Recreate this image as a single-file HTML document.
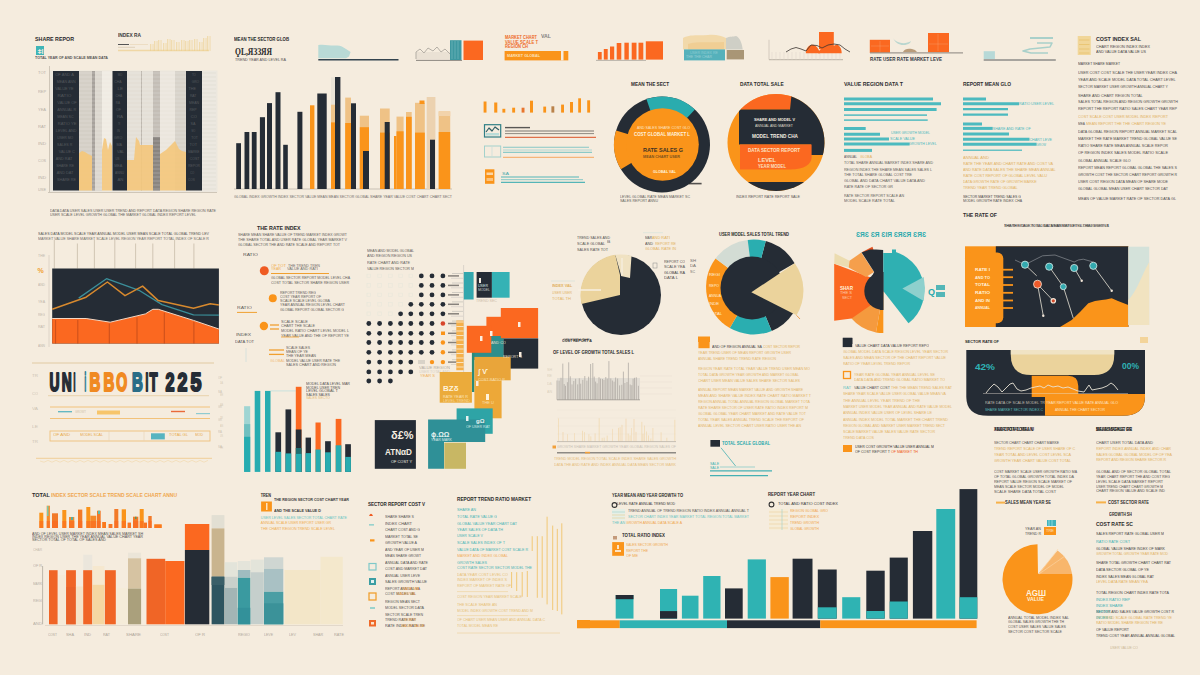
<!DOCTYPE html>
<html><head><meta charset="utf-8"><title>Infographic</title>
<style>html,body{margin:0;padding:0;background:#f5ecde;}body{width:1200px;height:675px;overflow:hidden;font-family:"Liberation Sans",sans-serif;}svg{display:block;}</style>
</head><body>
<svg width="1200" height="675" viewBox="0 0 1200 675">
<rect x="0" y="0" width="1200" height="675" fill="#f5ecde"/>
<text x="35.0" y="40.7" font-family="Liberation Sans" font-size="6.0" font-weight="bold" fill="#28282b" opacity="1.00" textLength="39.0" lengthAdjust="spacingAndGlyphs">SHARE REPOR</text>
<rect x="36.0" y="46.0" width="8.0" height="9.0" fill="#3fb5b7" />
<text x="37.5" y="53.5" font-family="Liberation Sans" font-size="7" font-weight="bold" fill="#f4ece0">ǂl</text>
<text x="35.0" y="59.4" font-family="Liberation Sans" font-size="4.0" font-weight="bold" fill="#28282b" opacity="0.78" textLength="73.0" lengthAdjust="spacingAndGlyphs">TOTAL YEAR OF AND SCALE MEAN DATA</text>
<text x="118.0" y="36.8" font-family="Liberation Sans" font-size="5.0" font-weight="bold" fill="#28282b" opacity="0.91" textLength="23.0" lengthAdjust="spacingAndGlyphs">INDEX RA</text>
<line x1="118.0" y1="44.5" x2="129.0" y2="44.5" stroke="#555" stroke-width="1" />
<line x1="130.0" y1="44.5" x2="148.0" y2="44.5" stroke="#e7d3b0" stroke-width="0.6" />
<line x1="118.0" y1="50.5" x2="209.0" y2="50.5" stroke="#f0d7a5" stroke-width="1.6" />
<line x1="118.0" y1="47.3" x2="135.0" y2="47.3" stroke="#d9c9b0" stroke-width="0.8" />
<rect x="150.0" y="44.0" width="3.5" height="7.0" fill="#f3dba5"  opacity="0.3"/>
<rect x="150.0" y="44.0" width="0.7" height="7.0" fill="#eac77e"  opacity="0.55"/>
<rect x="152.8" y="44.0" width="0.7" height="7.0" fill="#eac77e"  opacity="0.4"/>
<rect x="154.0" y="41.0" width="3.5" height="10.0" fill="#f3dba5"  opacity="0.3"/>
<rect x="154.0" y="41.0" width="0.7" height="10.0" fill="#eac77e"  opacity="0.55"/>
<rect x="156.8" y="41.0" width="0.7" height="10.0" fill="#eac77e"  opacity="0.4"/>
<rect x="158.0" y="40.0" width="3.5" height="11.0" fill="#f3dba5"  opacity="0.3"/>
<rect x="158.0" y="40.0" width="0.7" height="11.0" fill="#eac77e"  opacity="0.55"/>
<rect x="160.8" y="40.0" width="0.7" height="11.0" fill="#eac77e"  opacity="0.4"/>
<rect x="163.0" y="43.0" width="3.5" height="8.0" fill="#f3dba5"  opacity="0.3"/>
<rect x="163.0" y="43.0" width="0.7" height="8.0" fill="#eac77e"  opacity="0.55"/>
<rect x="165.8" y="43.0" width="0.7" height="8.0" fill="#eac77e"  opacity="0.4"/>
<rect x="167.0" y="39.0" width="3.5" height="12.0" fill="#f3dba5"  opacity="0.3"/>
<rect x="167.0" y="39.0" width="0.7" height="12.0" fill="#eac77e"  opacity="0.55"/>
<rect x="169.8" y="39.0" width="0.7" height="12.0" fill="#eac77e"  opacity="0.4"/>
<rect x="171.0" y="40.0" width="3.5" height="11.0" fill="#f3dba5"  opacity="0.3"/>
<rect x="171.0" y="40.0" width="0.7" height="11.0" fill="#eac77e"  opacity="0.55"/>
<rect x="173.8" y="40.0" width="0.7" height="11.0" fill="#eac77e"  opacity="0.4"/>
<rect x="176.0" y="42.0" width="3.5" height="9.0" fill="#f3dba5"  opacity="0.3"/>
<rect x="176.0" y="42.0" width="0.7" height="9.0" fill="#eac77e"  opacity="0.55"/>
<rect x="178.8" y="42.0" width="0.7" height="9.0" fill="#eac77e"  opacity="0.4"/>
<rect x="181.0" y="40.0" width="3.5" height="11.0" fill="#f3dba5"  opacity="0.3"/>
<rect x="181.0" y="40.0" width="0.7" height="11.0" fill="#eac77e"  opacity="0.55"/>
<rect x="183.8" y="40.0" width="0.7" height="11.0" fill="#eac77e"  opacity="0.4"/>
<rect x="185.0" y="41.0" width="3.5" height="10.0" fill="#f3dba5"  opacity="0.3"/>
<rect x="185.0" y="41.0" width="0.7" height="10.0" fill="#eac77e"  opacity="0.55"/>
<rect x="187.8" y="41.0" width="0.7" height="10.0" fill="#eac77e"  opacity="0.4"/>
<rect x="189.0" y="40.0" width="3.5" height="11.0" fill="#f3dba5"  opacity="0.3"/>
<rect x="189.0" y="40.0" width="0.7" height="11.0" fill="#eac77e"  opacity="0.55"/>
<rect x="191.8" y="40.0" width="0.7" height="11.0" fill="#eac77e"  opacity="0.4"/>
<rect x="194.0" y="39.0" width="3.5" height="12.0" fill="#f3dba5"  opacity="0.3"/>
<rect x="194.0" y="39.0" width="0.7" height="12.0" fill="#eac77e"  opacity="0.55"/>
<rect x="196.8" y="39.0" width="0.7" height="12.0" fill="#eac77e"  opacity="0.4"/>
<rect x="199.0" y="42.0" width="3.5" height="9.0" fill="#f3dba5"  opacity="0.3"/>
<rect x="199.0" y="42.0" width="0.7" height="9.0" fill="#eac77e"  opacity="0.55"/>
<rect x="201.8" y="42.0" width="0.7" height="9.0" fill="#eac77e"  opacity="0.4"/>
<rect x="203.0" y="38.0" width="3.5" height="13.0" fill="#f3dba5"  opacity="0.3"/>
<rect x="203.0" y="38.0" width="0.7" height="13.0" fill="#eac77e"  opacity="0.55"/>
<rect x="205.8" y="38.0" width="0.7" height="13.0" fill="#eac77e"  opacity="0.4"/>
<rect x="207.0" y="36.0" width="3.5" height="15.0" fill="#f3dba5"  opacity="0.3"/>
<rect x="207.0" y="36.0" width="0.7" height="15.0" fill="#eac77e"  opacity="0.55"/>
<rect x="209.8" y="36.0" width="0.7" height="15.0" fill="#eac77e"  opacity="0.4"/>
<rect x="50.0" y="70.5" width="167.5" height="121.5" fill="#ece7de" />
<line x1="49.5" y1="66.0" x2="49.5" y2="192.5" stroke="#cfc6b8" stroke-width="1" />
<line x1="48.0" y1="192.5" x2="217.0" y2="192.5" stroke="#cfc6b8" stroke-width="1.2" />
<rect x="53.0" y="71.0" width="26.0" height="119.5" fill="#252c35" />
<rect x="79.0" y="71.0" width="23.0" height="119.5" fill="#d4cfc6" />
<rect x="92.0" y="71.0" width="3.0" height="119.5" fill="#a7a29c" />
<rect x="95.0" y="71.0" width="7.0" height="119.5" fill="#dcd7cf" />
<rect x="102.0" y="71.0" width="10.5" height="119.5" fill="#f0ebe3" />
<rect x="112.5" y="71.0" width="14.5" height="119.5" fill="#252c35" />
<rect x="127.0" y="71.0" width="26.0" height="119.5" fill="#e4dfd6" />
<rect x="141.0" y="71.0" width="1.0" height="119.5" fill="#bdb7ae" />
<rect x="153.0" y="71.0" width="7.0" height="119.5" fill="#c4beb6" />
<rect x="153.0" y="137.0" width="7.0" height="53.5" fill="#8a8580" />
<rect x="160.0" y="71.0" width="15.0" height="119.5" fill="#ebe6dd" />
<rect x="175.0" y="71.0" width="11.0" height="119.5" fill="#d8d3ca" />
<rect x="186.0" y="71.0" width="16.0" height="119.5" fill="#252c35" />
<rect x="202.0" y="71.0" width="14.0" height="119.5" fill="#ece8e0" />
<line x1="79.0" y1="73.0" x2="112.0" y2="73.0" stroke="#ffffff" stroke-width="0.6" opacity="0.35"/>
<line x1="127.0" y1="73.0" x2="186.0" y2="73.0" stroke="#ffffff" stroke-width="0.6" opacity="0.35"/>
<line x1="202.0" y1="73.0" x2="216.0" y2="73.0" stroke="#d9d4cb" stroke-width="0.6" opacity="0.6"/>
<line x1="79.0" y1="77.0" x2="112.0" y2="77.0" stroke="#ffffff" stroke-width="0.6" opacity="0.35"/>
<line x1="127.0" y1="77.0" x2="186.0" y2="77.0" stroke="#ffffff" stroke-width="0.6" opacity="0.35"/>
<line x1="202.0" y1="77.0" x2="216.0" y2="77.0" stroke="#d9d4cb" stroke-width="0.6" opacity="0.6"/>
<line x1="79.0" y1="81.0" x2="112.0" y2="81.0" stroke="#ffffff" stroke-width="0.6" opacity="0.35"/>
<line x1="127.0" y1="81.0" x2="186.0" y2="81.0" stroke="#ffffff" stroke-width="0.6" opacity="0.35"/>
<line x1="202.0" y1="81.0" x2="216.0" y2="81.0" stroke="#d9d4cb" stroke-width="0.6" opacity="0.6"/>
<line x1="79.0" y1="85.0" x2="112.0" y2="85.0" stroke="#ffffff" stroke-width="0.6" opacity="0.35"/>
<line x1="127.0" y1="85.0" x2="186.0" y2="85.0" stroke="#ffffff" stroke-width="0.6" opacity="0.35"/>
<line x1="202.0" y1="85.0" x2="216.0" y2="85.0" stroke="#d9d4cb" stroke-width="0.6" opacity="0.6"/>
<line x1="79.0" y1="89.0" x2="112.0" y2="89.0" stroke="#ffffff" stroke-width="0.6" opacity="0.35"/>
<line x1="127.0" y1="89.0" x2="186.0" y2="89.0" stroke="#ffffff" stroke-width="0.6" opacity="0.35"/>
<line x1="202.0" y1="89.0" x2="216.0" y2="89.0" stroke="#d9d4cb" stroke-width="0.6" opacity="0.6"/>
<line x1="79.0" y1="93.0" x2="112.0" y2="93.0" stroke="#ffffff" stroke-width="0.6" opacity="0.35"/>
<line x1="127.0" y1="93.0" x2="186.0" y2="93.0" stroke="#ffffff" stroke-width="0.6" opacity="0.35"/>
<line x1="202.0" y1="93.0" x2="216.0" y2="93.0" stroke="#d9d4cb" stroke-width="0.6" opacity="0.6"/>
<line x1="79.0" y1="97.0" x2="112.0" y2="97.0" stroke="#ffffff" stroke-width="0.6" opacity="0.35"/>
<line x1="127.0" y1="97.0" x2="186.0" y2="97.0" stroke="#ffffff" stroke-width="0.6" opacity="0.35"/>
<line x1="202.0" y1="97.0" x2="216.0" y2="97.0" stroke="#d9d4cb" stroke-width="0.6" opacity="0.6"/>
<line x1="79.0" y1="101.0" x2="112.0" y2="101.0" stroke="#ffffff" stroke-width="0.6" opacity="0.35"/>
<line x1="127.0" y1="101.0" x2="186.0" y2="101.0" stroke="#ffffff" stroke-width="0.6" opacity="0.35"/>
<line x1="202.0" y1="101.0" x2="216.0" y2="101.0" stroke="#d9d4cb" stroke-width="0.6" opacity="0.6"/>
<line x1="79.0" y1="105.0" x2="112.0" y2="105.0" stroke="#ffffff" stroke-width="0.6" opacity="0.35"/>
<line x1="127.0" y1="105.0" x2="186.0" y2="105.0" stroke="#ffffff" stroke-width="0.6" opacity="0.35"/>
<line x1="202.0" y1="105.0" x2="216.0" y2="105.0" stroke="#d9d4cb" stroke-width="0.6" opacity="0.6"/>
<line x1="79.0" y1="109.0" x2="112.0" y2="109.0" stroke="#ffffff" stroke-width="0.6" opacity="0.35"/>
<line x1="127.0" y1="109.0" x2="186.0" y2="109.0" stroke="#ffffff" stroke-width="0.6" opacity="0.35"/>
<line x1="202.0" y1="109.0" x2="216.0" y2="109.0" stroke="#d9d4cb" stroke-width="0.6" opacity="0.6"/>
<line x1="79.0" y1="113.0" x2="112.0" y2="113.0" stroke="#ffffff" stroke-width="0.6" opacity="0.35"/>
<line x1="127.0" y1="113.0" x2="186.0" y2="113.0" stroke="#ffffff" stroke-width="0.6" opacity="0.35"/>
<line x1="202.0" y1="113.0" x2="216.0" y2="113.0" stroke="#d9d4cb" stroke-width="0.6" opacity="0.6"/>
<line x1="79.0" y1="117.0" x2="112.0" y2="117.0" stroke="#ffffff" stroke-width="0.6" opacity="0.35"/>
<line x1="127.0" y1="117.0" x2="186.0" y2="117.0" stroke="#ffffff" stroke-width="0.6" opacity="0.35"/>
<line x1="202.0" y1="117.0" x2="216.0" y2="117.0" stroke="#d9d4cb" stroke-width="0.6" opacity="0.6"/>
<line x1="79.0" y1="121.0" x2="112.0" y2="121.0" stroke="#ffffff" stroke-width="0.6" opacity="0.35"/>
<line x1="127.0" y1="121.0" x2="186.0" y2="121.0" stroke="#ffffff" stroke-width="0.6" opacity="0.35"/>
<line x1="202.0" y1="121.0" x2="216.0" y2="121.0" stroke="#d9d4cb" stroke-width="0.6" opacity="0.6"/>
<line x1="79.0" y1="125.0" x2="112.0" y2="125.0" stroke="#ffffff" stroke-width="0.6" opacity="0.35"/>
<line x1="127.0" y1="125.0" x2="186.0" y2="125.0" stroke="#ffffff" stroke-width="0.6" opacity="0.35"/>
<line x1="202.0" y1="125.0" x2="216.0" y2="125.0" stroke="#d9d4cb" stroke-width="0.6" opacity="0.6"/>
<line x1="79.0" y1="129.0" x2="112.0" y2="129.0" stroke="#ffffff" stroke-width="0.6" opacity="0.35"/>
<line x1="127.0" y1="129.0" x2="186.0" y2="129.0" stroke="#ffffff" stroke-width="0.6" opacity="0.35"/>
<line x1="202.0" y1="129.0" x2="216.0" y2="129.0" stroke="#d9d4cb" stroke-width="0.6" opacity="0.6"/>
<line x1="79.0" y1="133.0" x2="112.0" y2="133.0" stroke="#ffffff" stroke-width="0.6" opacity="0.35"/>
<line x1="127.0" y1="133.0" x2="186.0" y2="133.0" stroke="#ffffff" stroke-width="0.6" opacity="0.35"/>
<line x1="202.0" y1="133.0" x2="216.0" y2="133.0" stroke="#d9d4cb" stroke-width="0.6" opacity="0.6"/>
<line x1="79.0" y1="137.0" x2="112.0" y2="137.0" stroke="#ffffff" stroke-width="0.6" opacity="0.35"/>
<line x1="127.0" y1="137.0" x2="186.0" y2="137.0" stroke="#ffffff" stroke-width="0.6" opacity="0.35"/>
<line x1="202.0" y1="137.0" x2="216.0" y2="137.0" stroke="#d9d4cb" stroke-width="0.6" opacity="0.6"/>
<line x1="79.0" y1="141.0" x2="112.0" y2="141.0" stroke="#ffffff" stroke-width="0.6" opacity="0.35"/>
<line x1="127.0" y1="141.0" x2="186.0" y2="141.0" stroke="#ffffff" stroke-width="0.6" opacity="0.35"/>
<line x1="202.0" y1="141.0" x2="216.0" y2="141.0" stroke="#d9d4cb" stroke-width="0.6" opacity="0.6"/>
<line x1="79.0" y1="145.0" x2="112.0" y2="145.0" stroke="#ffffff" stroke-width="0.6" opacity="0.35"/>
<line x1="127.0" y1="145.0" x2="186.0" y2="145.0" stroke="#ffffff" stroke-width="0.6" opacity="0.35"/>
<line x1="202.0" y1="145.0" x2="216.0" y2="145.0" stroke="#d9d4cb" stroke-width="0.6" opacity="0.6"/>
<line x1="79.0" y1="149.0" x2="112.0" y2="149.0" stroke="#ffffff" stroke-width="0.6" opacity="0.35"/>
<line x1="127.0" y1="149.0" x2="186.0" y2="149.0" stroke="#ffffff" stroke-width="0.6" opacity="0.35"/>
<line x1="202.0" y1="149.0" x2="216.0" y2="149.0" stroke="#d9d4cb" stroke-width="0.6" opacity="0.6"/>
<line x1="79.0" y1="153.0" x2="112.0" y2="153.0" stroke="#ffffff" stroke-width="0.6" opacity="0.35"/>
<line x1="127.0" y1="153.0" x2="186.0" y2="153.0" stroke="#ffffff" stroke-width="0.6" opacity="0.35"/>
<line x1="202.0" y1="153.0" x2="216.0" y2="153.0" stroke="#d9d4cb" stroke-width="0.6" opacity="0.6"/>
<line x1="79.0" y1="157.0" x2="112.0" y2="157.0" stroke="#ffffff" stroke-width="0.6" opacity="0.35"/>
<line x1="127.0" y1="157.0" x2="186.0" y2="157.0" stroke="#ffffff" stroke-width="0.6" opacity="0.35"/>
<line x1="202.0" y1="157.0" x2="216.0" y2="157.0" stroke="#d9d4cb" stroke-width="0.6" opacity="0.6"/>
<line x1="79.0" y1="161.0" x2="112.0" y2="161.0" stroke="#ffffff" stroke-width="0.6" opacity="0.35"/>
<line x1="127.0" y1="161.0" x2="186.0" y2="161.0" stroke="#ffffff" stroke-width="0.6" opacity="0.35"/>
<line x1="202.0" y1="161.0" x2="216.0" y2="161.0" stroke="#d9d4cb" stroke-width="0.6" opacity="0.6"/>
<line x1="79.0" y1="165.0" x2="112.0" y2="165.0" stroke="#ffffff" stroke-width="0.6" opacity="0.35"/>
<line x1="127.0" y1="165.0" x2="186.0" y2="165.0" stroke="#ffffff" stroke-width="0.6" opacity="0.35"/>
<line x1="202.0" y1="165.0" x2="216.0" y2="165.0" stroke="#d9d4cb" stroke-width="0.6" opacity="0.6"/>
<line x1="79.0" y1="169.0" x2="112.0" y2="169.0" stroke="#ffffff" stroke-width="0.6" opacity="0.35"/>
<line x1="127.0" y1="169.0" x2="186.0" y2="169.0" stroke="#ffffff" stroke-width="0.6" opacity="0.35"/>
<line x1="202.0" y1="169.0" x2="216.0" y2="169.0" stroke="#d9d4cb" stroke-width="0.6" opacity="0.6"/>
<line x1="79.0" y1="173.0" x2="112.0" y2="173.0" stroke="#ffffff" stroke-width="0.6" opacity="0.35"/>
<line x1="127.0" y1="173.0" x2="186.0" y2="173.0" stroke="#ffffff" stroke-width="0.6" opacity="0.35"/>
<line x1="202.0" y1="173.0" x2="216.0" y2="173.0" stroke="#d9d4cb" stroke-width="0.6" opacity="0.6"/>
<line x1="79.0" y1="177.0" x2="112.0" y2="177.0" stroke="#ffffff" stroke-width="0.6" opacity="0.35"/>
<line x1="127.0" y1="177.0" x2="186.0" y2="177.0" stroke="#ffffff" stroke-width="0.6" opacity="0.35"/>
<line x1="202.0" y1="177.0" x2="216.0" y2="177.0" stroke="#d9d4cb" stroke-width="0.6" opacity="0.6"/>
<line x1="79.0" y1="181.0" x2="112.0" y2="181.0" stroke="#ffffff" stroke-width="0.6" opacity="0.35"/>
<line x1="127.0" y1="181.0" x2="186.0" y2="181.0" stroke="#ffffff" stroke-width="0.6" opacity="0.35"/>
<line x1="202.0" y1="181.0" x2="216.0" y2="181.0" stroke="#d9d4cb" stroke-width="0.6" opacity="0.6"/>
<line x1="79.0" y1="185.0" x2="112.0" y2="185.0" stroke="#ffffff" stroke-width="0.6" opacity="0.35"/>
<line x1="127.0" y1="185.0" x2="186.0" y2="185.0" stroke="#ffffff" stroke-width="0.6" opacity="0.35"/>
<line x1="202.0" y1="185.0" x2="216.0" y2="185.0" stroke="#d9d4cb" stroke-width="0.6" opacity="0.6"/>
<line x1="79.0" y1="189.0" x2="112.0" y2="189.0" stroke="#ffffff" stroke-width="0.6" opacity="0.35"/>
<line x1="127.0" y1="189.0" x2="186.0" y2="189.0" stroke="#ffffff" stroke-width="0.6" opacity="0.35"/>
<line x1="202.0" y1="189.0" x2="216.0" y2="189.0" stroke="#d9d4cb" stroke-width="0.6" opacity="0.6"/>
<polygon points="79.0,153.0 82.0,151.0 85.0,152.0 88.0,154.0 92.0,156.0 92.0,190.5 79.0,190.5" fill="#f4c77b" opacity="0.95"/>
<polygon points="102.0,150.0 104.0,138.0 106.0,139.0 108.0,150.0 110.0,142.0 112.0,146.0 112.0,190.5 102.0,190.5" fill="#f4c77b" opacity="0.9"/>
<polygon points="127.0,160.0 134.0,160.0 136.0,137.0 139.0,141.0 140.0,145.0 153.0,145.0 153.0,190.5 127.0,190.5" fill="#f4c77b" opacity="0.9"/>
<polygon points="160.0,154.0 163.0,152.0 166.0,150.0 170.0,146.0 173.0,143.0 175.0,141.0 177.0,145.0 179.0,149.0 182.0,151.0 186.0,152.0 186.0,190.5 160.0,190.5" fill="#f4c77b" opacity="0.9"/>
<text x="55.2" y="76.4" font-family="Liberation Sans" font-size="3.9" font-weight="normal" fill="#d8d4cc" opacity="0.24" textLength="18.7" lengthAdjust="spacingAndGlyphs">OF AND A</text>
<text x="56.7" y="83.4" font-family="Liberation Sans" font-size="3.9" font-weight="normal" fill="#d8d4cc" opacity="0.24" textLength="18.9" lengthAdjust="spacingAndGlyphs">MEAN ANN</text>
<text x="55.2" y="90.4" font-family="Liberation Sans" font-size="3.9" font-weight="normal" fill="#d8d4cc" opacity="0.24" textLength="18.4" lengthAdjust="spacingAndGlyphs">VALUE YE</text>
<text x="57.5" y="97.4" font-family="Liberation Sans" font-size="3.9" font-weight="normal" fill="#d8d4cc" opacity="0.24" textLength="13.8" lengthAdjust="spacingAndGlyphs">RATIO</text>
<text x="57.3" y="104.4" font-family="Liberation Sans" font-size="3.9" font-weight="normal" fill="#d8d4cc" opacity="0.24" textLength="19.4" lengthAdjust="spacingAndGlyphs">VALUE OF</text>
<text x="57.2" y="111.4" font-family="Liberation Sans" font-size="3.9" font-weight="normal" fill="#d8d4cc" opacity="0.24" textLength="19.0" lengthAdjust="spacingAndGlyphs">ANNUAL R</text>
<text x="57.2" y="118.4" font-family="Liberation Sans" font-size="3.9" font-weight="normal" fill="#d8d4cc" opacity="0.24" textLength="16.4" lengthAdjust="spacingAndGlyphs">MEAN SC</text>
<text x="57.7" y="125.4" font-family="Liberation Sans" font-size="3.9" font-weight="normal" fill="#d8d4cc" opacity="0.24" textLength="18.7" lengthAdjust="spacingAndGlyphs">RATIO YE</text>
<text x="55.8" y="132.4" font-family="Liberation Sans" font-size="3.9" font-weight="normal" fill="#d8d4cc" opacity="0.24" textLength="20.7" lengthAdjust="spacingAndGlyphs">LEVEL AND</text>
<text x="57.3" y="139.4" font-family="Liberation Sans" font-size="3.9" font-weight="normal" fill="#d8d4cc" opacity="0.24" textLength="16.0" lengthAdjust="spacingAndGlyphs">USER MO</text>
<text x="57.1" y="146.4" font-family="Liberation Sans" font-size="3.9" font-weight="normal" fill="#d8d4cc" opacity="0.24" textLength="15.2" lengthAdjust="spacingAndGlyphs">SALES R</text>
<text x="58.7" y="153.4" font-family="Liberation Sans" font-size="3.9" font-weight="normal" fill="#d8d4cc" opacity="0.24" textLength="16.1" lengthAdjust="spacingAndGlyphs">VALUE C</text>
<text x="55.7" y="160.4" font-family="Liberation Sans" font-size="3.9" font-weight="normal" fill="#d8d4cc" opacity="0.24" textLength="16.6" lengthAdjust="spacingAndGlyphs">AND RAT</text>
<text x="56.2" y="167.4" font-family="Liberation Sans" font-size="3.9" font-weight="normal" fill="#d8d4cc" opacity="0.24" textLength="17.8" lengthAdjust="spacingAndGlyphs">SHARE RE</text>
<text x="56.8" y="174.4" font-family="Liberation Sans" font-size="3.9" font-weight="normal" fill="#d8d4cc" opacity="0.24" textLength="16.6" lengthAdjust="spacingAndGlyphs">AND DAT</text>
<text x="57.0" y="181.4" font-family="Liberation Sans" font-size="3.9" font-weight="normal" fill="#d8d4cc" opacity="0.24" textLength="19.0" lengthAdjust="spacingAndGlyphs">SHARE RE</text>
<text x="117.7" y="76.4" font-family="Liberation Sans" font-size="3.9" font-weight="normal" fill="#d8d4cc" opacity="0.24" textLength="4.7" lengthAdjust="spacingAndGlyphs">MO</text>
<text x="114.3" y="83.4" font-family="Liberation Sans" font-size="3.9" font-weight="normal" fill="#d8d4cc" opacity="0.24" textLength="7.3" lengthAdjust="spacingAndGlyphs">CHA</text>
<text x="117.5" y="90.4" font-family="Liberation Sans" font-size="3.9" font-weight="normal" fill="#d8d4cc" opacity="0.24" textLength="5.6" lengthAdjust="spacingAndGlyphs">LE</text>
<text x="115.4" y="97.4" font-family="Liberation Sans" font-size="3.9" font-weight="normal" fill="#d8d4cc" opacity="0.24" textLength="6.6" lengthAdjust="spacingAndGlyphs">CHA</text>
<text x="115.8" y="104.4" font-family="Liberation Sans" font-size="3.9" font-weight="normal" fill="#d8d4cc" opacity="0.24" textLength="4.1" lengthAdjust="spacingAndGlyphs">RA</text>
<text x="115.9" y="111.4" font-family="Liberation Sans" font-size="3.9" font-weight="normal" fill="#d8d4cc" opacity="0.24" textLength="5.1" lengthAdjust="spacingAndGlyphs">OF</text>
<text x="116.9" y="118.4" font-family="Liberation Sans" font-size="3.9" font-weight="normal" fill="#d8d4cc" opacity="0.24" textLength="6.2" lengthAdjust="spacingAndGlyphs">RA</text>
<text x="118.0" y="125.4" font-family="Liberation Sans" font-size="3.9" font-weight="normal" fill="#d8d4cc" opacity="0.24" textLength="2.1" lengthAdjust="spacingAndGlyphs">TR</text>
<text x="116.9" y="132.4" font-family="Liberation Sans" font-size="3.9" font-weight="normal" fill="#d8d4cc" opacity="0.24" textLength="2.8" lengthAdjust="spacingAndGlyphs">IN</text>
<text x="114.1" y="139.4" font-family="Liberation Sans" font-size="3.9" font-weight="normal" fill="#d8d4cc" opacity="0.24" textLength="8.1" lengthAdjust="spacingAndGlyphs">GRO</text>
<text x="116.4" y="146.4" font-family="Liberation Sans" font-size="3.9" font-weight="normal" fill="#d8d4cc" opacity="0.24" textLength="5.6" lengthAdjust="spacingAndGlyphs">MA</text>
<text x="117.1" y="153.4" font-family="Liberation Sans" font-size="3.9" font-weight="normal" fill="#d8d4cc" opacity="0.24" textLength="7.2" lengthAdjust="spacingAndGlyphs">VAL</text>
<text x="115.6" y="160.4" font-family="Liberation Sans" font-size="3.9" font-weight="normal" fill="#d8d4cc" opacity="0.24" textLength="3.9" lengthAdjust="spacingAndGlyphs">US</text>
<text x="114.3" y="167.4" font-family="Liberation Sans" font-size="3.9" font-weight="normal" fill="#d8d4cc" opacity="0.24" textLength="8.0" lengthAdjust="spacingAndGlyphs">MEA</text>
<text x="115.1" y="174.4" font-family="Liberation Sans" font-size="3.9" font-weight="normal" fill="#d8d4cc" opacity="0.24" textLength="9.1" lengthAdjust="spacingAndGlyphs">ANNU</text>
<text x="117.5" y="181.4" font-family="Liberation Sans" font-size="3.9" font-weight="normal" fill="#d8d4cc" opacity="0.24" textLength="5.9" lengthAdjust="spacingAndGlyphs">AN</text>
<text x="191.9" y="76.4" font-family="Liberation Sans" font-size="3.9" font-weight="normal" fill="#d8d4cc" opacity="0.24" textLength="4.0" lengthAdjust="spacingAndGlyphs">TO</text>
<text x="191.8" y="83.4" font-family="Liberation Sans" font-size="3.9" font-weight="normal" fill="#d8d4cc" opacity="0.24" textLength="7.3" lengthAdjust="spacingAndGlyphs">GRO</text>
<text x="188.6" y="90.4" font-family="Liberation Sans" font-size="3.9" font-weight="normal" fill="#d8d4cc" opacity="0.24" textLength="7.4" lengthAdjust="spacingAndGlyphs">THE</text>
<text x="189.9" y="97.4" font-family="Liberation Sans" font-size="3.9" font-weight="normal" fill="#d8d4cc" opacity="0.24" textLength="6.5" lengthAdjust="spacingAndGlyphs">RAT</text>
<text x="189.1" y="104.4" font-family="Liberation Sans" font-size="3.9" font-weight="normal" fill="#d8d4cc" opacity="0.24" textLength="10.0" lengthAdjust="spacingAndGlyphs">MEAN</text>
<text x="189.5" y="111.4" font-family="Liberation Sans" font-size="3.9" font-weight="normal" fill="#d8d4cc" opacity="0.24" textLength="7.1" lengthAdjust="spacingAndGlyphs">REP</text>
<text x="190.8" y="118.4" font-family="Liberation Sans" font-size="3.9" font-weight="normal" fill="#d8d4cc" opacity="0.24" textLength="6.1" lengthAdjust="spacingAndGlyphs">CO</text>
<text x="190.6" y="125.4" font-family="Liberation Sans" font-size="3.9" font-weight="normal" fill="#d8d4cc" opacity="0.24" textLength="4.9" lengthAdjust="spacingAndGlyphs">SA</text>
<text x="191.6" y="132.4" font-family="Liberation Sans" font-size="3.9" font-weight="normal" fill="#d8d4cc" opacity="0.24" textLength="3.7" lengthAdjust="spacingAndGlyphs">MO</text>
<text x="191.2" y="139.4" font-family="Liberation Sans" font-size="3.9" font-weight="normal" fill="#d8d4cc" opacity="0.24" textLength="6.5" lengthAdjust="spacingAndGlyphs">TOT</text>
<text x="189.6" y="146.4" font-family="Liberation Sans" font-size="3.9" font-weight="normal" fill="#d8d4cc" opacity="0.24" textLength="7.5" lengthAdjust="spacingAndGlyphs">TOT</text>
<text x="188.2" y="153.4" font-family="Liberation Sans" font-size="3.9" font-weight="normal" fill="#d8d4cc" opacity="0.24" textLength="11.3" lengthAdjust="spacingAndGlyphs">MARKE</text>
<text x="189.8" y="160.4" font-family="Liberation Sans" font-size="3.9" font-weight="normal" fill="#d8d4cc" opacity="0.24" textLength="9.6" lengthAdjust="spacingAndGlyphs">COST</text>
<text x="188.2" y="167.4" font-family="Liberation Sans" font-size="3.9" font-weight="normal" fill="#d8d4cc" opacity="0.24" textLength="11.8" lengthAdjust="spacingAndGlyphs">REPOR</text>
<text x="190.1" y="174.4" font-family="Liberation Sans" font-size="3.9" font-weight="normal" fill="#d8d4cc" opacity="0.24" textLength="4.2" lengthAdjust="spacingAndGlyphs">CO</text>
<text x="188.1" y="181.4" font-family="Liberation Sans" font-size="3.9" font-weight="normal" fill="#d8d4cc" opacity="0.24" textLength="6.7" lengthAdjust="spacingAndGlyphs">COS</text>
<text x="38.0" y="74.4" font-family="Liberation Sans" font-size="3.9" font-weight="normal" fill="#a8a095" opacity="0.78" textLength="8.0" lengthAdjust="spacingAndGlyphs">TOT</text>
<text x="38.0" y="93.4" font-family="Liberation Sans" font-size="3.9" font-weight="normal" fill="#a8a095" opacity="0.78" textLength="8.0" lengthAdjust="spacingAndGlyphs">REP</text>
<text x="38.0" y="111.4" font-family="Liberation Sans" font-size="3.9" font-weight="normal" fill="#a8a095" opacity="0.78" textLength="8.0" lengthAdjust="spacingAndGlyphs">YEA</text>
<text x="38.0" y="128.4" font-family="Liberation Sans" font-size="3.9" font-weight="normal" fill="#a8a095" opacity="0.78" textLength="8.0" lengthAdjust="spacingAndGlyphs">RAT</text>
<text x="38.0" y="145.4" font-family="Liberation Sans" font-size="3.9" font-weight="normal" fill="#a8a095" opacity="0.78" textLength="8.0" lengthAdjust="spacingAndGlyphs">IND</text>
<text x="38.0" y="162.4" font-family="Liberation Sans" font-size="3.9" font-weight="normal" fill="#a8a095" opacity="0.78" textLength="8.0" lengthAdjust="spacingAndGlyphs">COS</text>
<text x="38.0" y="179.4" font-family="Liberation Sans" font-size="3.9" font-weight="normal" fill="#a8a095" opacity="0.78" textLength="8.0" lengthAdjust="spacingAndGlyphs">IND</text>
<text x="38.0" y="191.4" font-family="Liberation Sans" font-size="3.9" font-weight="normal" fill="#a8a095" opacity="0.78" textLength="8.0" lengthAdjust="spacingAndGlyphs">USE</text>
<text x="50.0" y="211.9" font-family="Liberation Sans" font-size="3.9" font-weight="normal" fill="#28282b" opacity="0.72" textLength="166.0" lengthAdjust="spacingAndGlyphs">DATA DATA USER SALES USER USER TREND AND REPORT DATA REGION SHARE REGION RATE</text>
<text x="50.0" y="215.9" font-family="Liberation Sans" font-size="3.9" font-weight="normal" fill="#28282b" opacity="0.72" textLength="146.0" lengthAdjust="spacingAndGlyphs">USER SCALE LEVEL GROWTH GLOBAL THE MARKET GLOBAL INDEX REPORT LEVEL</text>
<text x="234.0" y="41.2" font-family="Liberation Sans" font-size="5.0" font-weight="bold" fill="#28282b" opacity="0.98" textLength="55.0" lengthAdjust="spacingAndGlyphs">MEAN THE SECTOR GLOB</text>
<text x="235" y="55" font-family="Liberation Serif" font-size="10.5" font-weight="bold" fill="#2a2a2a" textLength="37" lengthAdjust="spacingAndGlyphs">ϘL,ЯЗЗЯЯ</text>
<text x="235.0" y="60.7" font-family="Liberation Sans" font-size="3.9" font-weight="normal" fill="#28282b" opacity="0.78" textLength="51.0" lengthAdjust="spacingAndGlyphs">TREND YEAR AND LEVEL RA</text>
<line x1="234.0" y1="189.0" x2="452.0" y2="189.0" stroke="#c9c1b5" stroke-width="1" />
<text x="234.0" y="198.4" font-family="Liberation Sans" font-size="3.9" font-weight="normal" fill="#28282b" opacity="0.65" textLength="218.0" lengthAdjust="spacingAndGlyphs">GLOBAL INDEX GROWTH INDEX SECTOR VALUE MEAN MEAN SECTOR GLOBAL SHARE YEAR VALUE COST CHART CHART SECT</text>
<rect x="236.2" y="143.2" width="4.8" height="45.8" fill="#252c35" />
<rect x="244.5" y="132.0" width="4.8" height="57.0" fill="#252c35" />
<rect x="251.8" y="132.0" width="4.8" height="57.0" fill="#252c35" />
<rect x="259.9" y="117.2" width="5.1" height="71.8" fill="#252c35" />
<rect x="267.0" y="103.1" width="5.0" height="85.9" fill="#252c35" />
<rect x="275.5" y="92.2" width="5.0" height="96.8" fill="#252c35" />
<rect x="283.2" y="144.8" width="4.6" height="44.2" fill="#252c35" />
<rect x="297.4" y="111.8" width="5.0" height="77.2" fill="#252c35" />
<rect x="310.0" y="105.3" width="4.4" height="83.7" fill="#fa941a" />
<rect x="317.3" y="93.5" width="9.4" height="95.5" fill="#252c35" />
<rect x="331.0" y="77.3" width="4.0" height="111.7" fill="#e9e3d6" />
<rect x="331.0" y="104.7" width="4.0" height="84.3" fill="#f0c58a" />
<rect x="331.0" y="122.4" width="4.0" height="66.6" fill="#fa941a" />
<rect x="335.0" y="77.0" width="5.4" height="112.0" fill="#252c35" />
<rect x="345.2" y="97.6" width="5.8" height="91.4" fill="#efc286" />
<rect x="345.2" y="123.0" width="5.8" height="66.0" fill="#fa941a" />
<rect x="351.0" y="103.3" width="5.0" height="85.7" fill="#252c35" />
<rect x="359.8" y="115.7" width="9.2" height="73.3" fill="#efc286" />
<rect x="359.8" y="127.2" width="9.2" height="61.8" fill="#fa941a" />
<rect x="363.0" y="151.0" width="6.0" height="38.0" fill="#252c35" />
<rect x="380.0" y="108.5" width="9.7" height="80.5" fill="#efc286" />
<rect x="380.0" y="132.6" width="9.7" height="56.4" fill="#fa941a" />
<rect x="384.7" y="122.0" width="5.0" height="67.0" fill="#252c35" />
<rect x="396.5" y="116.6" width="7.1" height="72.4" fill="#efc286" />
<rect x="396.5" y="131.3" width="7.1" height="57.7" fill="#fa941a" />
<rect x="394.0" y="136.0" width="2.5" height="53.0" fill="#fa941a" />
<rect x="406.0" y="112.0" width="5.7" height="77.0" fill="#efc286" />
<rect x="406.0" y="116.8" width="5.7" height="72.2" fill="#fa941a" />
<rect x="415.0" y="102.8" width="9.8" height="86.2" fill="#efc286" />
<rect x="415.0" y="132.6" width="9.8" height="56.4" fill="#fa941a" />
<rect x="419.5" y="100.5" width="5.0" height="3.5" fill="#fa941a" />
<rect x="426.7" y="97.0" width="8.7" height="92.0" fill="#ecd2b0" />
<rect x="430.0" y="139.7" width="5.0" height="49.3" fill="#252c35" />
<rect x="438.7" y="111.4" width="11.5" height="77.6" fill="#efc286" />
<rect x="438.7" y="132.0" width="11.5" height="57.0" fill="#fa941a" />
<rect x="438.7" y="111.4" width="11.5" height="4.6" fill="#f2d3ab" />
<path d="M318.3,45 C325,44 330,46 336,45.5 C340,45 343,47 346,49 L350.6,52 L349,56.5 L346,58.3 L318.3,58.3 Z" fill="#b9dad6" />
<line x1="318.3" y1="59.8" x2="398.5" y2="59.8" stroke="#33434e" stroke-width="1.6" />
<polyline points="416.0,59.0 416.0,52.0 420.0,49.0 424.0,53.0 428.0,48.0 433.0,51.0 437.0,47.0 441.0,52.0 445.0,49.0 450.0,54.0" fill="none" stroke="#9a958e" stroke-width="0.7" stroke-linejoin="round" />
<line x1="417.0" y1="52.0" x2="417.0" y2="59.5" stroke="#bdb7ae" stroke-width="0.4" />
<line x1="419.0" y1="52.0" x2="419.0" y2="59.5" stroke="#bdb7ae" stroke-width="0.4" />
<line x1="421.0" y1="52.0" x2="421.0" y2="59.5" stroke="#bdb7ae" stroke-width="0.4" />
<line x1="423.0" y1="52.0" x2="423.0" y2="59.5" stroke="#bdb7ae" stroke-width="0.4" />
<line x1="425.0" y1="52.0" x2="425.0" y2="59.5" stroke="#bdb7ae" stroke-width="0.4" />
<line x1="427.0" y1="52.0" x2="427.0" y2="59.5" stroke="#bdb7ae" stroke-width="0.4" />
<line x1="429.0" y1="52.0" x2="429.0" y2="59.5" stroke="#bdb7ae" stroke-width="0.4" />
<line x1="431.0" y1="52.0" x2="431.0" y2="59.5" stroke="#bdb7ae" stroke-width="0.4" />
<line x1="433.0" y1="52.0" x2="433.0" y2="59.5" stroke="#bdb7ae" stroke-width="0.4" />
<line x1="435.0" y1="52.0" x2="435.0" y2="59.5" stroke="#bdb7ae" stroke-width="0.4" />
<line x1="437.0" y1="52.0" x2="437.0" y2="59.5" stroke="#bdb7ae" stroke-width="0.4" />
<line x1="439.0" y1="52.0" x2="439.0" y2="59.5" stroke="#bdb7ae" stroke-width="0.4" />
<line x1="441.0" y1="52.0" x2="441.0" y2="59.5" stroke="#bdb7ae" stroke-width="0.4" />
<line x1="443.0" y1="52.0" x2="443.0" y2="59.5" stroke="#bdb7ae" stroke-width="0.4" />
<line x1="445.0" y1="52.0" x2="445.0" y2="59.5" stroke="#bdb7ae" stroke-width="0.4" />
<line x1="447.0" y1="52.0" x2="447.0" y2="59.5" stroke="#bdb7ae" stroke-width="0.4" />
<line x1="449.0" y1="52.0" x2="449.0" y2="59.5" stroke="#bdb7ae" stroke-width="0.4" />
<line x1="416.0" y1="60.4" x2="462.0" y2="60.4" stroke="#8d8880" stroke-width="1" />
<rect x="450.0" y="40.2" width="11.5" height="19.8" fill="#3e98a0" />
<line x1="452.0" y1="41.0" x2="452.0" y2="59.0" stroke="#7ec0c4" stroke-width="0.6" />
<line x1="455.0" y1="41.0" x2="455.0" y2="59.0" stroke="#7ec0c4" stroke-width="0.6" />
<line x1="458.0" y1="41.0" x2="458.0" y2="59.0" stroke="#7ec0c4" stroke-width="0.6" />
<rect x="463.5" y="40.6" width="19.5" height="19.4" fill="#fb6820" />
<text x="505.0" y="38.6" font-family="Liberation Sans" font-size="4.5" font-weight="bold" fill="#ee6a25" opacity="1.00" textLength="32.0" lengthAdjust="spacingAndGlyphs">MARKET CHART</text>
<text x="505.0" y="43.6" font-family="Liberation Sans" font-size="4.5" font-weight="bold" fill="#ee6a25" opacity="1.00" textLength="33.0" lengthAdjust="spacingAndGlyphs">VALUE SCALE T</text>
<text x="505.0" y="48.1" font-family="Liberation Sans" font-size="4.5" font-weight="bold" fill="#ee6a25" opacity="1.00" textLength="23.0" lengthAdjust="spacingAndGlyphs">REGION CH</text>
<text x="541.0" y="37.8" font-family="Liberation Sans" font-size="5.0" font-weight="bold" fill="#777" opacity="0.91" textLength="10.0" lengthAdjust="spacingAndGlyphs">VAL</text>
<rect x="504.6" y="51.0" width="63.7" height="9.4" fill="#fa941a" />
<rect x="561.0" y="51.0" width="2.5" height="9.4" fill="#f4ece0" />
<text x="507.0" y="57.4" font-family="Liberation Sans" font-size="4.0" font-weight="bold" fill="#fbe0b8" opacity="1.00" textLength="33.0" lengthAdjust="spacingAndGlyphs">MARKET GLOBAL</text>
<rect x="597.9" y="52.0" width="3.8" height="7.6" fill="#fb6820" />
<rect x="603.8" y="49.0" width="3.9" height="10.6" fill="#fb6820" />
<rect x="610.0" y="46.5" width="4.2" height="13.1" fill="#fb6820" />
<rect x="616.7" y="43.0" width="4.6" height="16.6" fill="#fb6820" />
<rect x="624.4" y="42.7" width="4.4" height="16.9" fill="#fb6820" />
<rect x="631.7" y="42.7" width="4.8" height="16.9" fill="#fb6820" />
<rect x="638.5" y="42.7" width="4.8" height="16.9" fill="#fb6820" />
<rect x="645.8" y="41.3" width="17.2" height="18.3" fill="#fb6820" />
<line x1="596.0" y1="60.4" x2="646.0" y2="60.4" stroke="#a9a39a" stroke-width="0.8" />
<path d="M683,38 C690,34 700,36 708,35 C715,34 722,36 726,38 L726,49.4 L683,49.4 Z" fill="#f2d9aa" />
<path d="M688,44 C698,41 710,43 724,42 L724,49.4 L688,49.4 Z" fill="#efcb8e" opacity="0.8"/>
<path d="M726,49.4 L726,38 C730,36 733,37 736,36 C739,37 742,42 742.7,49.4 Z" fill="#cfcfc6" />
<rect x="684.0" y="49.4" width="41.0" height="11.0" fill="#55b1bb" />
<text x="690.0" y="54.4" font-family="Liberation Sans" font-size="3.9" font-weight="normal" fill="#d5eef0" opacity="0.41" textLength="28.0" lengthAdjust="spacingAndGlyphs">USER INDEX RE</text>
<text x="686.0" y="58.4" font-family="Liberation Sans" font-size="3.9" font-weight="normal" fill="#e9f6f6" opacity="0.41" textLength="26.0" lengthAdjust="spacingAndGlyphs">THE THE CHAR</text>
<rect x="726.7" y="50.0" width="17.3" height="9.4" fill="#a99676" />
<line x1="769.0" y1="39.8" x2="769.0" y2="59.6" stroke="#cbc3b6" stroke-width="0.8" />
<line x1="769.0" y1="59.6" x2="843.0" y2="59.6" stroke="#c5bdb0" stroke-width="1.2" />
<line x1="772.0" y1="52.0" x2="772.0" y2="59.6" stroke="#e0d9cd" stroke-width="0.6" />
<line x1="776.0" y1="52.0" x2="776.0" y2="59.6" stroke="#e0d9cd" stroke-width="0.6" />
<line x1="780.0" y1="52.0" x2="780.0" y2="59.6" stroke="#e0d9cd" stroke-width="0.6" />
<line x1="784.0" y1="52.0" x2="784.0" y2="59.6" stroke="#e0d9cd" stroke-width="0.6" />
<line x1="788.0" y1="52.0" x2="788.0" y2="59.6" stroke="#e0d9cd" stroke-width="0.6" />
<line x1="792.0" y1="52.0" x2="792.0" y2="59.6" stroke="#e0d9cd" stroke-width="0.6" />
<line x1="796.0" y1="52.0" x2="796.0" y2="59.6" stroke="#e0d9cd" stroke-width="0.6" />
<line x1="800.0" y1="52.0" x2="800.0" y2="59.6" stroke="#e0d9cd" stroke-width="0.6" />
<line x1="804.0" y1="52.0" x2="804.0" y2="59.6" stroke="#e0d9cd" stroke-width="0.6" />
<line x1="808.0" y1="52.0" x2="808.0" y2="59.6" stroke="#e0d9cd" stroke-width="0.6" />
<line x1="812.0" y1="52.0" x2="812.0" y2="59.6" stroke="#e0d9cd" stroke-width="0.6" />
<line x1="816.0" y1="52.0" x2="816.0" y2="59.6" stroke="#e0d9cd" stroke-width="0.6" />
<line x1="820.0" y1="52.0" x2="820.0" y2="59.6" stroke="#e0d9cd" stroke-width="0.6" />
<line x1="824.0" y1="52.0" x2="824.0" y2="59.6" stroke="#e0d9cd" stroke-width="0.6" />
<line x1="828.0" y1="52.0" x2="828.0" y2="59.6" stroke="#e0d9cd" stroke-width="0.6" />
<line x1="832.0" y1="52.0" x2="832.0" y2="59.6" stroke="#e0d9cd" stroke-width="0.6" />
<line x1="836.0" y1="52.0" x2="836.0" y2="59.6" stroke="#e0d9cd" stroke-width="0.6" />
<line x1="840.0" y1="52.0" x2="840.0" y2="59.6" stroke="#e0d9cd" stroke-width="0.6" />
<rect x="819.0" y="32.0" width="14.8" height="17.0" fill="#fb6820" />
<path d="M805.8,53.3 C806,47 810,44 814,45 C817,46 819,50 820,53.3 Z" fill="#fb6820" />
<path d="M818,53.3 C820,48 826,45 831,46 C834,47 835,44 838,45 C841,47 841.7,50 841.7,53.3 Z" fill="#fb6820" />
<polyline points="786.0,52.0 791.0,49.0 796.0,47.5 801.0,49.0 806.0,51.0 811.0,45.0 817.0,45.5 822.0,48.0 828.0,45.0 834.0,44.0 840.0,45.0 845.0,49.0 850.0,52.0" fill="none" stroke="#3a3430" stroke-width="0.8" stroke-linejoin="round" />
<rect x="869.8" y="39.8" width="20.2" height="13.2" fill="#fb6820" />
<line x1="871.0" y1="46.0" x2="889.0" y2="46.0" stroke="#f7a36e" stroke-width="0.4" />
<line x1="880.0" y1="41.0" x2="880.0" y2="52.0" stroke="#f7a36e" stroke-width="0.4" />
<path d="M893,38 C896,43 905,45 911,41 L910,43 C904,47 896,45 893,38 Z" fill="#b9d6cf" />
<path d="M903,52 C905,48 910,48 915,50 L917,52 Z" fill="#b99c7a" />
<rect x="928.0" y="33.0" width="21.0" height="19.3" fill="#fb6820" />
<line x1="929.0" y1="44.0" x2="948.0" y2="44.0" stroke="#f7a36e" stroke-width="0.4" />
<line x1="938.0" y1="34.0" x2="938.0" y2="51.0" stroke="#f7a36e" stroke-width="0.4" />
<line x1="870.0" y1="52.9" x2="963.0" y2="52.9" stroke="#9e9890" stroke-width="1.2" />
<text x="870.0" y="61.4" font-family="Liberation Sans" font-size="5.0" font-weight="bold" fill="#343a44" opacity="1.00" textLength="72.0" lengthAdjust="spacingAndGlyphs">RATE USER RATE MARKET LEVE</text>
<rect x="983.7" y="51.2" width="11.2" height="7.8" fill="#b7d9d7" />
<line x1="983.7" y1="60.0" x2="1055.8" y2="60.0" stroke="#8d8d88" stroke-width="1.3" />
<polyline points="1030.0,38.0 1053.0,38.0" fill="none" stroke="#a9d0ca" stroke-width="2" stroke-linejoin="round" />
<polyline points="1037.0,43.0 1052.0,43.0 1050.0,47.0 1030.0,49.0 1023.0,51.0 1031.0,53.0 1048.0,53.0" fill="none" stroke="#a9d0ca" stroke-width="1.6" stroke-linejoin="round" />
<rect x="1077.7" y="36.0" width="13.1" height="19.0" fill="#f1d699" />
<line x1="1079.0" y1="40.0" x2="1089.5" y2="40.0" stroke="#e9c26c" stroke-width="0.8" />
<line x1="1079.0" y1="44.5" x2="1089.5" y2="44.5" stroke="#e9c26c" stroke-width="0.8" />
<line x1="1079.0" y1="49.0" x2="1089.5" y2="49.0" stroke="#e9c26c" stroke-width="0.8" />
<line x1="1079.0" y1="53.0" x2="1089.5" y2="53.0" stroke="#e9c26c" stroke-width="0.8" />
<text x="1096.0" y="40.7" font-family="Liberation Sans" font-size="5.5" font-weight="bold" fill="#2d2d30" opacity="1.00" textLength="45.0" lengthAdjust="spacingAndGlyphs">COST INDEX SAL</text>
<text x="1096.0" y="47.7" font-family="Liberation Sans" font-size="3.9" font-weight="normal" fill="#28282b" opacity="0.85" textLength="54.0" lengthAdjust="spacingAndGlyphs">CHART REGION INDEX INDEX</text>
<text x="1096.0" y="53.4" font-family="Liberation Sans" font-size="3.9" font-weight="normal" fill="#28282b" opacity="0.85" textLength="50.0" lengthAdjust="spacingAndGlyphs">AND VALUE DATA VALUE US</text>
<text x="1078.0" y="64.7" font-family="Liberation Sans" font-size="3.9" font-weight="normal" fill="#28282b" opacity="0.85" textLength="42.0" lengthAdjust="spacingAndGlyphs">MARKET SHARE MARKET</text>
<text x="1078.0" y="74.2" font-family="Liberation Sans" font-size="4.1" font-weight="normal" fill="#28282b" opacity="0.81" textLength="99.0" lengthAdjust="spacingAndGlyphs">USER COST COST SCALE THE USER YEAR INDEX CHA</text>
<text x="1078.0" y="81.1" font-family="Liberation Sans" font-size="4.1" font-weight="normal" fill="#28282b" opacity="0.81" textLength="97.6" lengthAdjust="spacingAndGlyphs">YEAR AND SCALE MODEL DATA TOTAL CHART LEVEL</text>
<text x="1078.0" y="88.2" font-family="Liberation Sans" font-size="4.1" font-weight="normal" fill="#28282b" opacity="0.81" textLength="90.0" lengthAdjust="spacingAndGlyphs">SECTOR MARKET USER GROWTH ANNUAL CHART Y</text>
<text x="1078.0" y="96.5" font-family="Liberation Sans" font-size="4.1" font-weight="normal" fill="#28282b" opacity="0.81" textLength="64.7" lengthAdjust="spacingAndGlyphs">SHARE AND CHART REGION TOTAL</text>
<text x="1078.0" y="103.3" font-family="Liberation Sans" font-size="4.1" font-weight="normal" fill="#28282b" opacity="0.81" textLength="100.0" lengthAdjust="spacingAndGlyphs">SALES TOTAL REGION AND REGION GROWTH GROWTH</text>
<text x="1078.0" y="109.9" font-family="Liberation Sans" font-size="4.1" font-weight="normal" fill="#28282b" opacity="0.81" textLength="99.0" lengthAdjust="spacingAndGlyphs">REPORT THE REPORT RATIO SALES CHART YEAR REP</text>
<text x="1078.0" y="117.5" font-family="Liberation Sans" font-size="4.1" font-weight="normal" fill="#dca23a" opacity="0.78" textLength="90.0" lengthAdjust="spacingAndGlyphs">COST SCALE COST USER MODEL INDEX REPORT</text>
<text x="1078.0" y="124.8" font-family="Liberation Sans" font-size="4.1" font-weight="normal" fill="#28282b" opacity="0.78" textLength="7.0" lengthAdjust="spacingAndGlyphs">MEA</text>
<text x="1086.0" y="124.8" font-family="Liberation Sans" font-size="4.1" font-weight="normal" fill="#dca23a" opacity="0.78" textLength="80.0" lengthAdjust="spacingAndGlyphs">MEAN REPORT THE THE CHART REGION YE</text>
<text x="1078.0" y="133.1" font-family="Liberation Sans" font-size="4.1" font-weight="normal" fill="#28282b" opacity="0.81" textLength="99.0" lengthAdjust="spacingAndGlyphs">DATA GLOBAL REGION REPORT ANNUAL MARKET SCAL</text>
<text x="1078.0" y="139.7" font-family="Liberation Sans" font-size="4.1" font-weight="normal" fill="#28282b" opacity="0.81" textLength="99.0" lengthAdjust="spacingAndGlyphs">MARKET THE RATE MARKET TREND GLOBAL VALUE SE</text>
<text x="1078.0" y="146.5" font-family="Liberation Sans" font-size="4.1" font-weight="normal" fill="#28282b" opacity="0.81" textLength="90.0" lengthAdjust="spacingAndGlyphs">RATIO SHARE RATE MEAN ANNUAL SCALE REPOR</text>
<text x="1078.0" y="153.7" font-family="Liberation Sans" font-size="4.1" font-weight="normal" fill="#28282b" opacity="0.81" textLength="90.0" lengthAdjust="spacingAndGlyphs">OF REGION INDEX SALES MODEL RATIO SCALE</text>
<text x="1078.0" y="161.5" font-family="Liberation Sans" font-size="4.1" font-weight="normal" fill="#28282b" opacity="0.81" textLength="52.7" lengthAdjust="spacingAndGlyphs">GLOBAL ANNUAL SCALE GLO</text>
<text x="1078.0" y="168.8" font-family="Liberation Sans" font-size="4.1" font-weight="normal" fill="#28282b" opacity="0.81" textLength="99.0" lengthAdjust="spacingAndGlyphs">REPORT MEAN REPORT GLOBAL GLOBAL THE SALES S</text>
<text x="1078.0" y="175.9" font-family="Liberation Sans" font-size="4.1" font-weight="normal" fill="#28282b" opacity="0.81" textLength="99.0" lengthAdjust="spacingAndGlyphs">GROWTH COST THE SECTOR CHART REPORT GROWTH R</text>
<text x="1078.0" y="182.5" font-family="Liberation Sans" font-size="4.1" font-weight="normal" fill="#28282b" opacity="0.81" textLength="90.0" lengthAdjust="spacingAndGlyphs">USER COST REGION DATA MEAN OF SHARE MODE</text>
<text x="1078.0" y="189.9" font-family="Liberation Sans" font-size="4.1" font-weight="normal" fill="#28282b" opacity="0.81" textLength="90.0" lengthAdjust="spacingAndGlyphs">GLOBAL GLOBAL MEAN USER CHART SECTOR DAT</text>
<text x="1078.0" y="199.7" font-family="Liberation Sans" font-size="4.1" font-weight="normal" fill="#28282b" opacity="0.81" textLength="98.0" lengthAdjust="spacingAndGlyphs">MEAN OF VALUE MARKET RATE OF SECTOR DATA GL</text>
<rect x="483.6" y="101.5" width="2.9" height="11.1" fill="#fa941a" />
<rect x="494.2" y="102.5" width="3.1" height="10.1" fill="#fa941a" />
<rect x="502.4" y="108.8" width="2.9" height="3.8" fill="#fa941a" />
<rect x="512.2" y="107.7" width="2.9" height="4.9" fill="#fa941a" />
<rect x="521.6" y="107.7" width="2.9" height="4.9" fill="#e8762e" />
<rect x="530.0" y="100.7" width="3.0" height="11.9" fill="#fa941a" />
<rect x="543.3" y="106.6" width="2.8" height="6.0" fill="#fa941a" />
<rect x="551.4" y="106.3" width="2.9" height="6.3" fill="#b9824a" />
<rect x="561.1" y="104.6" width="2.9" height="8.0" fill="#fa941a" />
<rect x="570.0" y="102.0" width="3.0" height="10.6" fill="#fa941a" />
<rect x="578.2" y="98.3" width="2.8" height="14.3" fill="#fa941a" />
<rect x="587.2" y="100.3" width="2.9" height="12.3" fill="#fa941a" />
<rect x="484.5" y="124.7" width="16.2" height="12.3" fill="none" stroke="#2f7f86" stroke-width="1.2"/>
<polyline points="486.0,132.0 489.0,128.0 492.0,131.0 495.0,127.0 499.0,130.0" fill="none" stroke="#2f5f66" stroke-width="1.2" stroke-linejoin="round" />
<rect x="486.0" y="133.0" width="13.0" height="2.5" fill="#b9dcd8" />
<line x1="505.0" y1="127.6" x2="530.0" y2="127.6" stroke="#333" stroke-width="1.4" opacity="0.8"/>
<line x1="505.0" y1="131.0" x2="594.0" y2="131.0" stroke="#7d7770" stroke-width="1.1" />
<line x1="505.0" y1="133.6" x2="594.0" y2="133.6" stroke="#847e76" stroke-width="0.9" />
<line x1="505.0" y1="137.3" x2="596.0" y2="137.3" stroke="#e0704a" stroke-width="1.2" />
<rect x="484.5" y="146.0" width="16.2" height="11.0" fill="none" stroke="#9ccfcb" stroke-width="0.9"/>
<line x1="492.0" y1="147.0" x2="492.0" y2="156.0" stroke="#bcdcd8" stroke-width="0.6" />
<line x1="503.0" y1="147.2" x2="589.0" y2="147.2" stroke="#86c7c6" stroke-width="1.1" />
<line x1="503.0" y1="150.0" x2="592.0" y2="150.0" stroke="#a9d7d4" stroke-width="0.9" />
<line x1="503.0" y1="152.4" x2="592.0" y2="152.4" stroke="#8ccac8" stroke-width="1.1" />
<line x1="503.0" y1="157.4" x2="594.0" y2="157.4" stroke="#f5b57a" stroke-width="1.2" />
<rect x="485.0" y="169.3" width="9.4" height="14.5" fill="#fa941a" />
<rect x="486.5" y="172.5" width="6.5" height="2.5" fill="#fbd5a6" />
<rect x="486.5" y="178.0" width="6.5" height="3.0" fill="#fbd5a6" opacity="0.7"/>
<text x="502.0" y="175.1" font-family="Liberation Sans" font-size="4.3" font-weight="normal" fill="#4aa9ae" opacity="1.00" textLength="7.0" lengthAdjust="spacingAndGlyphs">SA</text>
<line x1="501.0" y1="177.0" x2="579.0" y2="177.0" stroke="#54b5b7" stroke-width="1.2" />
<line x1="501.0" y1="179.7" x2="583.0" y2="179.7" stroke="#7cc5c4" stroke-width="0.9" />
<line x1="501.0" y1="182.4" x2="585.0" y2="182.4" stroke="#54b5b7" stroke-width="1.2" />
<circle cx="662.0" cy="144.5" r="48.0" fill="#252c35" />
<path d="M662.0,144.5 L646.4,99.1 A48,48 0 0 1 694.9,109.6 Z" fill="#2aacae" />
<path d="M662.0,144.5 L620.9,169.2 A48,48 0 0 1 616.1,130.5 Z" fill="#fa941a" />
<circle cx="662.5" cy="144.5" r="36.3" fill="#fa941a" />
<text x="631.0" y="85.8" font-family="Liberation Sans" font-size="5.0" font-weight="bold" fill="#2b2b2b" opacity="1.00" textLength="38.0" lengthAdjust="spacingAndGlyphs">MEAN THE SECT</text>
<text x="637.0" y="129.4" font-family="Liberation Sans" font-size="3.9" font-weight="normal" fill="#fbe3c4" opacity="1.00" textLength="53.0" lengthAdjust="spacingAndGlyphs">AND SALES SHARE COST GLO</text>
<text x="634.0" y="136.4" font-family="Liberation Sans" font-size="5.0" font-weight="bold" fill="#fff1dc" opacity="1.00" textLength="56.0" lengthAdjust="spacingAndGlyphs">COST GLOBAL MARKET L</text>
<text x="643.0" y="152.2" font-family="Liberation Sans" font-size="6.0" font-weight="bold" fill="#3a3026" opacity="0.98" textLength="40.0" lengthAdjust="spacingAndGlyphs">RATE SALES G</text>
<text x="643.0" y="158.4" font-family="Liberation Sans" font-size="4.0" font-weight="bold" fill="#5b3f1f" opacity="0.78" textLength="37.0" lengthAdjust="spacingAndGlyphs">MEAN CHART USER</text>
<text x="653.0" y="172.9" font-family="Liberation Sans" font-size="4.0" font-weight="bold" fill="#fff1dc" opacity="1.00" textLength="23.0" lengthAdjust="spacingAndGlyphs">GLOBAL VAL</text>
<line x1="689.0" y1="183.6" x2="701.6" y2="183.6" stroke="#2b2b2b" stroke-width="1.6" opacity="0.8"/>
<text x="620.0" y="198.2" font-family="Liberation Sans" font-size="3.9" font-weight="normal" fill="#28282b" opacity="0.72" textLength="70.0" lengthAdjust="spacingAndGlyphs">LEVEL GLOBAL RATE MEAN MARKET SC</text>
<text x="620.0" y="202.4" font-family="Liberation Sans" font-size="3.9" font-weight="normal" fill="#28282b" opacity="0.72" textLength="38.0" lengthAdjust="spacingAndGlyphs">SALES REPORT ANNU</text>
<circle cx="776.0" cy="142.5" r="48.5" fill="#fa941a" />
<clipPath id="cd2"><circle cx="776" cy="142.5" r="48.5"/></clipPath>
<g clip-path="url(#cd2)">
<polygon points="739.0,109.4 746.0,100.0 756.0,92.0 795.0,90.0 792.0,98.0 790.0,109.4" fill="#fb6820" />
<polygon points="792.0,90.0 830.0,90.0 830.0,155.0 811.0,155.0 811.0,144.6 739.0,144.6 739.0,109.4 790.0,109.4" fill="#252c35" />
<path d="M740,144.6 L811.6,144.6 L811.6,158 C811,164 805,169.5 790,169.5 L740,169.5 Z" fill="#fb6820" />
<rect x="740.0" y="182.0" width="72.0" height="13.0" fill="#252c35" />
</g>
<text x="740.0" y="85.8" font-family="Liberation Sans" font-size="5.0" font-weight="bold" fill="#2b2b2b" opacity="1.00" textLength="43.6" lengthAdjust="spacingAndGlyphs">DATA TOTAL SALE</text>
<text x="754.0" y="120.5" font-family="Liberation Sans" font-size="4.2" font-weight="bold" fill="#f4ece0" opacity="1.00" textLength="41.0" lengthAdjust="spacingAndGlyphs">SHARE AND MODEL V</text>
<text x="755.0" y="127.4" font-family="Liberation Sans" font-size="3.9" font-weight="normal" fill="#e8e2d8" opacity="0.91" textLength="38.0" lengthAdjust="spacingAndGlyphs">ANNUAL AND MARKET</text>
<text x="752.0" y="138.0" font-family="Liberation Sans" font-size="5.5" font-weight="bold" fill="#f4ece0" opacity="1.00" textLength="46.0" lengthAdjust="spacingAndGlyphs">MODEL TREND CHA</text>
<text x="748.0" y="151.8" font-family="Liberation Sans" font-size="5.0" font-weight="bold" fill="#fbe0c0" opacity="1.00" textLength="52.0" lengthAdjust="spacingAndGlyphs">DATA SECTOR REPORT</text>
<text x="758.0" y="162.0" font-family="Liberation Sans" font-size="5.5" font-weight="bold" fill="#fbe0c0" opacity="1.00" textLength="18.0" lengthAdjust="spacingAndGlyphs">LEVEL</text>
<text x="758.0" y="168.1" font-family="Liberation Sans" font-size="4.5" font-weight="bold" fill="#fbe0c0" opacity="1.00" textLength="28.0" lengthAdjust="spacingAndGlyphs">YEAR MODEL</text>
<text x="736.0" y="198.3" font-family="Liberation Sans" font-size="3.9" font-weight="normal" fill="#28282b" opacity="0.78" textLength="64.0" lengthAdjust="spacingAndGlyphs">INDEX REPORT RATE REPORT SALE</text>
<text x="844.0" y="86.0" font-family="Liberation Sans" font-size="5.5" font-weight="bold" fill="#2d2d30" opacity="1.00" textLength="59.0" lengthAdjust="spacingAndGlyphs">VALUE REGION DATA T</text>
<line x1="844.0" y1="99.0" x2="933.0" y2="99.0" stroke="#3ab5bc" stroke-width="3" opacity="0.9"/>
<line x1="844.0" y1="103.8" x2="941.0" y2="103.8" stroke="#3ab5bc" stroke-width="3" opacity="0.9"/>
<line x1="844.0" y1="109.4" x2="936.6" y2="109.4" stroke="#3ab5bc" stroke-width="3" opacity="0.9"/>
<line x1="844.0" y1="115.2" x2="927.0" y2="115.2" stroke="#3ab5bc" stroke-width="1.8" opacity="0.75"/>
<line x1="844.0" y1="120.2" x2="927.7" y2="120.2" stroke="#3ab5bc" stroke-width="1.8" opacity="0.75"/>
<line x1="844.0" y1="128.5" x2="865.7" y2="128.5" stroke="#3ab5bc" stroke-width="3" opacity="0.9"/>
<line x1="844.0" y1="134.3" x2="880.0" y2="134.3" stroke="#3ab5bc" stroke-width="3" opacity="0.9"/>
<line x1="844.0" y1="139.0" x2="889.0" y2="139.0" stroke="#3ab5bc" stroke-width="3" opacity="0.9"/>
<line x1="844.0" y1="144.0" x2="909.6" y2="144.0" stroke="#3ab5bc" stroke-width="3" opacity="0.9"/>
<line x1="844.0" y1="150.4" x2="872.0" y2="150.4" stroke="#3ab5bc" stroke-width="3" opacity="0.9"/>
<text x="891.0" y="133.6" font-family="Liberation Sans" font-size="3.9" font-weight="normal" fill="#3ab5bc" opacity="0.91" textLength="39.0" lengthAdjust="spacingAndGlyphs">USER GROWTH MODEL</text>
<text x="890.0" y="140.4" font-family="Liberation Sans" font-size="3.9" font-weight="normal" fill="#3ab5bc" opacity="0.91" textLength="25.0" lengthAdjust="spacingAndGlyphs">SCALE VALUE</text>
<text x="909.0" y="145.4" font-family="Liberation Sans" font-size="3.9" font-weight="normal" fill="#3ab5bc" opacity="0.91" textLength="27.6" lengthAdjust="spacingAndGlyphs">GROWTH LEVEL</text>
<text x="844.0" y="158.1" font-family="Liberation Sans" font-size="3.9" font-weight="normal" fill="#28282b" opacity="0.78" textLength="13.0" lengthAdjust="spacingAndGlyphs">ANNUAL</text>
<text x="860.0" y="158.1" font-family="Liberation Sans" font-size="3.9" font-weight="normal" fill="#dca23a" opacity="0.80" textLength="12.0" lengthAdjust="spacingAndGlyphs">GLOBA</text>
<text x="844.0" y="164.3" font-family="Liberation Sans" font-size="3.9" font-weight="normal" fill="#28282b" opacity="0.72" textLength="89.0" lengthAdjust="spacingAndGlyphs">TOTAL SHARE ANNUAL MARKET INDEX SHARE AND</text>
<text x="844.0" y="170.5" font-family="Liberation Sans" font-size="3.9" font-weight="normal" fill="#28282b" opacity="0.72" textLength="88.0" lengthAdjust="spacingAndGlyphs">REGION INDEX THE SHARE MEAN SALES SALES L</text>
<text x="844.0" y="176.1" font-family="Liberation Sans" font-size="3.9" font-weight="normal" fill="#28282b" opacity="0.72" textLength="68.0" lengthAdjust="spacingAndGlyphs">THE TOTAL SHARE GLOBAL COST TRE</text>
<text x="844.0" y="182.4" font-family="Liberation Sans" font-size="3.9" font-weight="normal" fill="#28282b" opacity="0.72" textLength="81.0" lengthAdjust="spacingAndGlyphs">GLOBAL AND DATA CHART VALUE DATA AND</text>
<text x="844.0" y="187.9" font-family="Liberation Sans" font-size="3.9" font-weight="normal" fill="#28282b" opacity="0.72" textLength="49.0" lengthAdjust="spacingAndGlyphs">RATE RATE OF SECTOR GR</text>
<text x="844.0" y="197.4" font-family="Liberation Sans" font-size="3.9" font-weight="normal" fill="#28282b" opacity="0.72" textLength="60.0" lengthAdjust="spacingAndGlyphs">RATE SECTOR REPORT SCALE AN</text>
<text x="844.0" y="202.0" font-family="Liberation Sans" font-size="3.9" font-weight="normal" fill="#28282b" opacity="0.72" textLength="51.0" lengthAdjust="spacingAndGlyphs">MODEL SCALE RATE TOTAL</text>
<text x="963.0" y="85.8" font-family="Liberation Sans" font-size="5.5" font-weight="bold" fill="#2d2d30" opacity="1.00" textLength="48.0" lengthAdjust="spacingAndGlyphs">REPORT MEAN GLO</text>
<line x1="963.0" y1="99.0" x2="986.0" y2="99.0" stroke="#3ab5bc" stroke-width="3" opacity="0.9"/>
<line x1="963.0" y1="103.7" x2="1019.0" y2="103.7" stroke="#3ab5bc" stroke-width="3" opacity="0.9"/>
<line x1="963.0" y1="109.1" x2="1008.0" y2="109.1" stroke="#3ab5bc" stroke-width="2.2" opacity="0.9"/>
<line x1="963.0" y1="114.6" x2="1008.0" y2="114.6" stroke="#3ab5bc" stroke-width="2.2" opacity="0.9"/>
<line x1="963.0" y1="124.0" x2="982.0" y2="124.0" stroke="#3ab5bc" stroke-width="3" opacity="0.9"/>
<line x1="963.0" y1="128.4" x2="992.7" y2="128.4" stroke="#3ab5bc" stroke-width="3" opacity="0.9"/>
<line x1="963.0" y1="134.0" x2="1009.0" y2="134.0" stroke="#3ab5bc" stroke-width="3" opacity="0.9"/>
<line x1="963.0" y1="139.3" x2="1029.5" y2="139.3" stroke="#3ab5bc" stroke-width="3" opacity="0.9"/>
<line x1="963.0" y1="144.3" x2="1036.6" y2="144.3" stroke="#3ab5bc" stroke-width="3" opacity="0.9"/>
<line x1="963.0" y1="150.2" x2="1022.0" y2="150.2" stroke="#3ab5bc" stroke-width="1.6" opacity="0.75"/>
<text x="1019.0" y="105.1" font-family="Liberation Sans" font-size="3.9" font-weight="normal" fill="#3ab5bc" opacity="0.91" textLength="35.0" lengthAdjust="spacingAndGlyphs">RATIO USER LEVEL</text>
<text x="992.7" y="129.8" font-family="Liberation Sans" font-size="3.9" font-weight="normal" fill="#3ab5bc" opacity="0.91" textLength="38.0" lengthAdjust="spacingAndGlyphs">SHARE AND RATE OF</text>
<text x="1029.5" y="140.7" font-family="Liberation Sans" font-size="3.9" font-weight="normal" fill="#3ab5bc" opacity="0.91" textLength="22.5" lengthAdjust="spacingAndGlyphs">CHART LEVE</text>
<text x="1036.6" y="145.7" font-family="Liberation Sans" font-size="3.9" font-weight="normal" fill="#3ab5bc" opacity="0.91" textLength="9.4" lengthAdjust="spacingAndGlyphs">GROW</text>
<text x="963.0" y="158.8" font-family="Liberation Sans" font-size="4.1" font-weight="normal" fill="#dca23a" opacity="0.78" textLength="26.0" lengthAdjust="spacingAndGlyphs">ANNUAL AND</text>
<text x="963.0" y="164.7" font-family="Liberation Sans" font-size="4.1" font-weight="normal" fill="#dca23a" opacity="0.78" textLength="90.0" lengthAdjust="spacingAndGlyphs">RATE THE YEAR AND CHART RATE AND COST VA</text>
<text x="963.0" y="171.1" font-family="Liberation Sans" font-size="4.1" font-weight="normal" fill="#dca23a" opacity="0.78" textLength="92.6" lengthAdjust="spacingAndGlyphs">AND RATE DATA SALES THE SHARE MEAN ANNUAL</text>
<text x="963.0" y="177.3" font-family="Liberation Sans" font-size="4.1" font-weight="normal" fill="#dca23a" opacity="0.78" textLength="84.0" lengthAdjust="spacingAndGlyphs">RATE COST REPORT OF GLOBAL LEVEL VALU</text>
<text x="963.0" y="183.0" font-family="Liberation Sans" font-size="4.1" font-weight="normal" fill="#dca23a" opacity="0.78" textLength="73.6" lengthAdjust="spacingAndGlyphs">DATA GROWTH RATE OF GROWTH MARKE</text>
<text x="963.0" y="188.5" font-family="Liberation Sans" font-size="4.1" font-weight="normal" fill="#dca23a" opacity="0.78" textLength="54.6" lengthAdjust="spacingAndGlyphs">TREND YEAR TREND GLOBAL</text>
<text x="963.0" y="198.4" font-family="Liberation Sans" font-size="3.9" font-weight="normal" fill="#28282b" opacity="0.85" textLength="58.0" lengthAdjust="spacingAndGlyphs">SECTOR MARKET TREND SALES G</text>
<text x="963.0" y="201.9" font-family="Liberation Sans" font-size="3.9" font-weight="normal" fill="#28282b" opacity="0.78" textLength="59.0" lengthAdjust="spacingAndGlyphs">MODEL GROWTH RATE INDEX CHA</text>
<text x="963.0" y="217.0" font-family="Liberation Sans" font-size="5.0" font-weight="bold" fill="#2d2d30" opacity="1.00" textLength="34.0" lengthAdjust="spacingAndGlyphs">THE RATE OF</text>
<text x="1004.0" y="227.4" font-family="Liberation Sans" font-size="3.9" font-weight="normal" fill="#28282b" opacity="0.78" textLength="105.0" lengthAdjust="spacingAndGlyphs">THE THE REGION GLOBAL MEAN MARKET GLOBAL USER VA</text>
<text x="38.0" y="235.3" font-family="Liberation Sans" font-size="3.9" font-weight="normal" fill="#28282b" opacity="0.78" textLength="171.0" lengthAdjust="spacingAndGlyphs">SALES DATA MODEL SCALE YEAR ANNUAL MODEL USER MEAN SCALE TOTAL GLOBAL TREND LEV</text>
<text x="38.0" y="239.7" font-family="Liberation Sans" font-size="3.9" font-weight="normal" fill="#28282b" opacity="0.65" textLength="171.0" lengthAdjust="spacingAndGlyphs">MARKET VALUE SHARE MARKET SCALE LEVEL REGION YEAR REPORT TOTAL INDEX OF SCALE R</text>
<line x1="49.0" y1="255.0" x2="49.0" y2="347.0" stroke="#d8cfc2" stroke-width="0.8" />
<line x1="54.3" y1="239.8" x2="54.3" y2="268.5" stroke="#c8bba8" stroke-width="0.8" />
<line x1="77.4" y1="243.5" x2="77.4" y2="268.5" stroke="#c8bba8" stroke-width="0.8" />
<line x1="94.4" y1="239.8" x2="94.4" y2="268.5" stroke="#c8bba8" stroke-width="0.8" />
<line x1="114.8" y1="239.8" x2="114.8" y2="268.5" stroke="#c8bba8" stroke-width="0.8" />
<line x1="135.6" y1="243.5" x2="135.6" y2="268.5" stroke="#c8bba8" stroke-width="0.8" />
<line x1="152.8" y1="243.5" x2="152.8" y2="268.5" stroke="#c8bba8" stroke-width="0.8" />
<line x1="174.6" y1="239.8" x2="174.6" y2="268.5" stroke="#c8bba8" stroke-width="0.8" />
<line x1="193.9" y1="243.5" x2="193.9" y2="268.5" stroke="#c8bba8" stroke-width="0.8" />
<text x="38.0" y="257.4" font-family="Liberation Sans" font-size="3.9" font-weight="normal" fill="#b3aa9d" opacity="0.78" textLength="7.0" lengthAdjust="spacingAndGlyphs">THE</text>
<text x="38.0" y="286.4" font-family="Liberation Sans" font-size="3.9" font-weight="normal" fill="#b3aa9d" opacity="0.78" textLength="7.0" lengthAdjust="spacingAndGlyphs">AND</text>
<text x="38.0" y="303.4" font-family="Liberation Sans" font-size="3.9" font-weight="normal" fill="#b3aa9d" opacity="0.78" textLength="7.0" lengthAdjust="spacingAndGlyphs">YEA</text>
<text x="38.0" y="316.4" font-family="Liberation Sans" font-size="3.9" font-weight="normal" fill="#b3aa9d" opacity="0.78" textLength="7.0" lengthAdjust="spacingAndGlyphs">REG</text>
<text x="38.0" y="328.4" font-family="Liberation Sans" font-size="3.9" font-weight="normal" fill="#b3aa9d" opacity="0.78" textLength="7.0" lengthAdjust="spacingAndGlyphs">RAT</text>
<text x="38.0" y="347.4" font-family="Liberation Sans" font-size="3.9" font-weight="normal" fill="#b3aa9d" opacity="0.78" textLength="7.0" lengthAdjust="spacingAndGlyphs">ANN</text>
<text x="37.5" y="273.0" font-family="Liberation Sans" font-size="7" font-weight="bold" fill="#f0a030" text-anchor="start" >%</text>
<rect x="52.2" y="268.5" width="166.7" height="75.0" fill="#252c35" />
<polygon points="52.2,318.5 86.1,318.5 110.2,322.2 145.4,313.9 152.8,309.3 158.3,309.3 193.5,320.4 218.9,329.0 218.9,343.5 52.2,343.5" fill="#fb6820" />
<polyline points="52.2,318.5 86.1,318.5 110.2,322.2 145.4,313.9 152.8,309.3 158.3,309.3 193.5,320.4 218.9,329.0" fill="none" stroke="#f3d7c3" stroke-width="1" stroke-linejoin="round" />
<line x1="55.6" y1="320.0" x2="55.6" y2="343.5" stroke="#b8461a" stroke-width="0.9" opacity="0.8"/>
<line x1="77.8" y1="320.0" x2="77.8" y2="343.5" stroke="#b8461a" stroke-width="0.9" opacity="0.8"/>
<line x1="109.3" y1="323.6" x2="109.3" y2="343.5" stroke="#b8461a" stroke-width="0.9" opacity="0.8"/>
<line x1="137.0" y1="317.4" x2="137.0" y2="343.5" stroke="#b8461a" stroke-width="0.9" opacity="0.8"/>
<line x1="164.3" y1="312.7" x2="164.3" y2="343.5" stroke="#b8461a" stroke-width="0.9" opacity="0.8"/>
<line x1="193.9" y1="322.0" x2="193.9" y2="343.5" stroke="#b8461a" stroke-width="0.9" opacity="0.8"/>
<polyline points="78.7,298.1 106.5,278.7 139.8,290.7 162.0,304.6 193.5,314.8 218.9,315.2" fill="none" stroke="#3b8f9a" stroke-width="1.3" stroke-linejoin="round" />
<polyline points="52.2,309.3 86.1,297.2 107.4,282.0 125.0,295.7 142.6,286.1 158.3,300.6 193.5,308.3 210.2,303.7 218.9,305.0" fill="none" stroke="#d7892e" stroke-width="1.5" stroke-linejoin="round" />
<line x1="32.0" y1="363.0" x2="214.0" y2="363.0" stroke="#e1c9a2" stroke-width="1.2" />
<text x="49.6" y="391.2" font-family="Liberation Sans" font-weight="bold" font-size="26" fill="#252c35" stroke="#252c35" stroke-width="2.2" stroke-linejoin="round" textLength="10.0" lengthAdjust="spacingAndGlyphs">U</text>
<text x="61.7" y="391.2" font-family="Liberation Sans" font-weight="bold" font-size="26" fill="#252c35" stroke="#252c35" stroke-width="2.2" stroke-linejoin="round" textLength="9.9" lengthAdjust="spacingAndGlyphs">N</text>
<text x="73.4" y="391.2" font-family="Liberation Sans" font-weight="bold" font-size="26" fill="#252c35" stroke="#252c35" stroke-width="2.2" stroke-linejoin="round" textLength="1.9" lengthAdjust="spacingAndGlyphs">I</text>
<text x="84.5" y="391.2" font-family="Liberation Sans" font-weight="bold" font-size="26" fill="#2e7f95" stroke="#2e7f95" stroke-width="2.2" stroke-linejoin="round" textLength="1.6" lengthAdjust="spacingAndGlyphs">i</text>
<text x="89.5" y="391.2" font-family="Liberation Sans" font-weight="bold" font-size="26" fill="#f08a22" stroke="#f08a22" stroke-width="2.2" stroke-linejoin="round" textLength="10.8" lengthAdjust="spacingAndGlyphs">B</text>
<text x="103.4" y="391.2" font-family="Liberation Sans" font-weight="bold" font-size="26" fill="#f08a22" stroke="#f08a22" stroke-width="2.2" stroke-linejoin="round" textLength="10.8" lengthAdjust="spacingAndGlyphs">B</text>
<text x="116.3" y="391.2" font-family="Liberation Sans" font-weight="bold" font-size="26" fill="#f08a22" stroke="#f08a22" stroke-width="2.2" stroke-linejoin="round" textLength="10.9" lengthAdjust="spacingAndGlyphs">O</text>
<text x="132.1" y="391.2" font-family="Liberation Sans" font-weight="bold" font-size="26" fill="#2a6d87" stroke="#2a6d87" stroke-width="2.2" stroke-linejoin="round" textLength="10.8" lengthAdjust="spacingAndGlyphs">B</text>
<text x="145.6" y="391.2" font-family="Liberation Sans" font-weight="bold" font-size="26" fill="#252c35" stroke="#252c35" stroke-width="2.2" stroke-linejoin="round" textLength="2.8" lengthAdjust="spacingAndGlyphs">I</text>
<text x="149.6" y="391.2" font-family="Liberation Sans" font-weight="bold" font-size="26" fill="#252c35" stroke="#252c35" stroke-width="2.2" stroke-linejoin="round" textLength="8.1" lengthAdjust="spacingAndGlyphs">T</text>
<text x="165.4" y="391.2" font-family="Liberation Sans" font-weight="bold" font-size="26" fill="#252c35" stroke="#252c35" stroke-width="2.2" stroke-linejoin="round" textLength="9.0" lengthAdjust="spacingAndGlyphs">2</text>
<text x="177.5" y="391.2" font-family="Liberation Sans" font-weight="bold" font-size="26" fill="#252c35" stroke="#252c35" stroke-width="2.2" stroke-linejoin="round" textLength="9.9" lengthAdjust="spacingAndGlyphs">2</text>
<text x="190.4" y="391.2" font-family="Liberation Sans" font-weight="bold" font-size="26" fill="#252c35" stroke="#252c35" stroke-width="2.2" stroke-linejoin="round" textLength="10.9" lengthAdjust="spacingAndGlyphs">5</text>
<line x1="48.0" y1="395.7" x2="209.0" y2="395.7" stroke="#e8cfa6" stroke-width="0.9" />
<line x1="50.0" y1="407.0" x2="210.0" y2="407.0" stroke="#f2c27a" stroke-width="1" />
<line x1="50.0" y1="418.5" x2="210.0" y2="418.5" stroke="#f2c27a" stroke-width="1" />
<line x1="58.0" y1="411.7" x2="72.0" y2="411.7" stroke="#5bb6c0" stroke-width="1.3" />
<text x="75.0" y="413.1" font-family="Liberation Sans" font-size="3.9" font-weight="normal" fill="#c4b49a" opacity="0.78" textLength="11.0" lengthAdjust="spacingAndGlyphs">GROWT</text>
<rect x="97.0" y="410.5" width="23.0" height="4.0" fill="#f7c56a" />
<line x1="171.0" y1="411.5" x2="185.0" y2="411.5" stroke="#ea6a3a" stroke-width="1.4" />
<line x1="196.0" y1="413.6" x2="210.0" y2="413.6" stroke="#8fcbd0" stroke-width="1.2" />
<rect x="50.0" y="431.0" width="160.0" height="10.0" fill="none" stroke="#f0c07a" stroke-width="0.9"/>
<line x1="109.0" y1="431.0" x2="109.0" y2="441.0" stroke="#e8d3b2" stroke-width="0.6" />
<line x1="144.0" y1="431.0" x2="144.0" y2="441.0" stroke="#e8d3b2" stroke-width="0.6" />
<rect x="151.0" y="433.3" width="13.8" height="6.1" fill="#56b4c0" />
<text x="53.0" y="436.4" font-family="Liberation Sans" font-size="3.9" font-weight="normal" fill="#e8a540" opacity="0.91" textLength="17.0" lengthAdjust="spacingAndGlyphs">OF AND</text>
<text x="80.0" y="436.4" font-family="Liberation Sans" font-size="3.9" font-weight="normal" fill="#e8a540" opacity="0.91" textLength="23.0" lengthAdjust="spacingAndGlyphs">MODEL SCAL</text>
<text x="169.0" y="436.4" font-family="Liberation Sans" font-size="3.9" font-weight="normal" fill="#e8a540" opacity="0.91" textLength="19.0" lengthAdjust="spacingAndGlyphs">TOTAL GL</text>
<text x="195.0" y="436.4" font-family="Liberation Sans" font-size="3.9" font-weight="normal" fill="#e8a540" opacity="0.91" textLength="8.0" lengthAdjust="spacingAndGlyphs">MOD</text>
<line x1="36.0" y1="458.3" x2="212.0" y2="458.3" stroke="#f0cf98" stroke-width="1" />
<polyline points="40.0,461.0 44.0,462.2 48.0,460.4 52.0,462.2 56.0,460.4 60.0,462.2 64.0,460.4 68.0,462.2 72.0,460.4 76.0,462.2 80.0,460.4 84.0,462.2 88.0,460.4 92.0,462.2 96.0,460.4 100.0,462.2 104.0,460.4 108.0,462.2 112.0,460.4 116.0,462.2 120.0,460.4 124.0,462.2 128.0,460.4 132.0,462.2 136.0,460.4 140.0,462.2 144.0,460.4 148.0,462.2 152.0,460.4 156.0,462.2 160.0,460.4 164.0,462.2 168.0,460.4 172.0,462.2 176.0,460.4 180.0,462.2 184.0,460.4 188.0,462.2 192.0,460.4 196.0,462.2 200.0,460.4 204.0,462.2 208.0,460.4" fill="none" stroke="#f2dcb5" stroke-width="0.8" stroke-linejoin="round" />
<text x="32.0" y="377.4" font-family="Liberation Sans" font-size="3.9" font-weight="normal" fill="#c2b8a8" opacity="0.78" textLength="6.0" lengthAdjust="spacingAndGlyphs">TR</text>
<text x="32.0" y="395.4" font-family="Liberation Sans" font-size="3.9" font-weight="normal" fill="#c2b8a8" opacity="0.78" textLength="6.0" lengthAdjust="spacingAndGlyphs">CO</text>
<text x="32.0" y="410.4" font-family="Liberation Sans" font-size="3.9" font-weight="normal" fill="#c2b8a8" opacity="0.78" textLength="6.0" lengthAdjust="spacingAndGlyphs">VA</text>
<text x="32.0" y="428.4" font-family="Liberation Sans" font-size="3.9" font-weight="normal" fill="#c2b8a8" opacity="0.78" textLength="6.0" lengthAdjust="spacingAndGlyphs">LE</text>
<text x="32.0" y="443.4" font-family="Liberation Sans" font-size="3.9" font-weight="normal" fill="#c2b8a8" opacity="0.78" textLength="6.0" lengthAdjust="spacingAndGlyphs">TR</text>
<text x="218.0" y="379.4" font-family="Liberation Sans" font-size="3.9" font-weight="normal" fill="#c2b8a8" opacity="0.78" textLength="4.0" lengthAdjust="spacingAndGlyphs">OF</text>
<text x="218.0" y="393.4" font-family="Liberation Sans" font-size="3.9" font-weight="normal" fill="#c2b8a8" opacity="0.78" textLength="4.0" lengthAdjust="spacingAndGlyphs">SA</text>
<text x="218.0" y="408.4" font-family="Liberation Sans" font-size="3.9" font-weight="normal" fill="#c2b8a8" opacity="0.78" textLength="4.0" lengthAdjust="spacingAndGlyphs">GR</text>
<text x="218.0" y="421.4" font-family="Liberation Sans" font-size="3.9" font-weight="normal" fill="#c2b8a8" opacity="0.78" textLength="4.0" lengthAdjust="spacingAndGlyphs">GR</text>
<text x="218.0" y="433.4" font-family="Liberation Sans" font-size="3.9" font-weight="normal" fill="#c2b8a8" opacity="0.78" textLength="4.0" lengthAdjust="spacingAndGlyphs">RA</text>
<text x="218.0" y="448.4" font-family="Liberation Sans" font-size="3.9" font-weight="normal" fill="#c2b8a8" opacity="0.78" textLength="4.0" lengthAdjust="spacingAndGlyphs">SA</text>
<text x="257.0" y="229.6" font-family="Liberation Sans" font-size="5.0" font-weight="bold" fill="#2b2b2b" opacity="1.00" textLength="43.6" lengthAdjust="spacingAndGlyphs">THE RATE INDEX</text>
<text x="238.0" y="235.8" font-family="Liberation Sans" font-size="3.9" font-weight="normal" fill="#28282b" opacity="0.72" textLength="109.0" lengthAdjust="spacingAndGlyphs">SHARE MEAN SHARE VALUE OF TREND MARKET INDEX GROWT</text>
<text x="238.0" y="241.0" font-family="Liberation Sans" font-size="3.9" font-weight="normal" fill="#28282b" opacity="0.72" textLength="109.0" lengthAdjust="spacingAndGlyphs">THE SHARE TOTAL AND USER RATE GLOBAL YEAR MARKET V</text>
<text x="238.0" y="245.9" font-family="Liberation Sans" font-size="3.9" font-weight="normal" fill="#28282b" opacity="0.72" textLength="102.0" lengthAdjust="spacingAndGlyphs">GLOBAL SECTOR THE AND RATE SCALE AND REPORT TOT</text>
<text x="243.0" y="256.4" font-family="Liberation Sans" font-size="3.9" font-weight="normal" fill="#28282b" opacity="0.78" textLength="15.0" lengthAdjust="spacingAndGlyphs">RATIO</text>
<circle cx="264.3" cy="270.7" r="4.5" fill="#ef5b22" />
<text x="271.0" y="267.0" font-family="Liberation Sans" font-size="3.9" font-weight="normal" fill="#f0a030" opacity="0.80" textLength="15.0" lengthAdjust="spacingAndGlyphs">OF TOT</text>
<text x="288.0" y="267.0" font-family="Liberation Sans" font-size="3.9" font-weight="normal" fill="#28282b" opacity="0.65" textLength="32.0" lengthAdjust="spacingAndGlyphs">THE TREND TREN</text>
<text x="271.0" y="269.6" font-family="Liberation Sans" font-size="3.9" font-weight="normal" fill="#f0a030" opacity="0.80" textLength="10.0" lengthAdjust="spacingAndGlyphs">YEAR</text>
<text x="287.0" y="270.2" font-family="Liberation Sans" font-size="3.9" font-weight="normal" fill="#28282b" opacity="0.65" textLength="31.0" lengthAdjust="spacingAndGlyphs">VALUE AND RATI</text>
<line x1="271.0" y1="273.5" x2="329.0" y2="273.5" stroke="#f0a030" stroke-width="1.2" />
<text x="271.0" y="278.7" font-family="Liberation Sans" font-size="3.9" font-weight="normal" fill="#28282b" opacity="0.72" textLength="79.0" lengthAdjust="spacingAndGlyphs">GLOBAL SECTOR REPORT MODEL LEVEL CHA</text>
<text x="271.0" y="283.8" font-family="Liberation Sans" font-size="3.9" font-weight="normal" fill="#28282b" opacity="0.72" textLength="78.0" lengthAdjust="spacingAndGlyphs">COST TOTAL SECTOR SHARE REGION USER</text>
<circle cx="272.8" cy="298.2" r="4.0" fill="#fa941a" />
<text x="280.0" y="294.1" font-family="Liberation Sans" font-size="3.9" font-weight="normal" fill="#28282b" opacity="0.72" textLength="36.0" lengthAdjust="spacingAndGlyphs">REPORT TREND REG</text>
<text x="280.0" y="298.3" font-family="Liberation Sans" font-size="3.9" font-weight="normal" fill="#28282b" opacity="0.72" textLength="41.0" lengthAdjust="spacingAndGlyphs">COST YEAR REPORT OF</text>
<text x="280.0" y="302.3" font-family="Liberation Sans" font-size="3.9" font-weight="normal" fill="#28282b" opacity="0.72" textLength="50.0" lengthAdjust="spacingAndGlyphs">SCALE SCALE LEVEL GLOBA</text>
<text x="280.0" y="306.3" font-family="Liberation Sans" font-size="3.9" font-weight="normal" fill="#28282b" opacity="0.72" textLength="65.0" lengthAdjust="spacingAndGlyphs">YEAR ANNUAL REGION LEVEL CHART</text>
<text x="280.0" y="311.0" font-family="Liberation Sans" font-size="3.9" font-weight="normal" fill="#28282b" opacity="0.72" textLength="64.0" lengthAdjust="spacingAndGlyphs">GLOBAL REPORT GLOBAL SECTOR G</text>
<text x="237.0" y="309.4" font-family="Liberation Sans" font-size="3.9" font-weight="normal" fill="#28282b" opacity="0.72" textLength="15.0" lengthAdjust="spacingAndGlyphs">RATIO</text>
<line x1="237.0" y1="312.4" x2="257.0" y2="312.4" stroke="#f0a030" stroke-width="1" />
<circle cx="263.9" cy="326.0" r="4.2" fill="#fa941a" />
<line x1="270.0" y1="325.0" x2="279.0" y2="325.0" stroke="#f0a030" stroke-width="1.3" />
<line x1="270.0" y1="329.0" x2="279.0" y2="329.0" stroke="#f0a030" stroke-width="1.3" />
<text x="281.0" y="323.0" font-family="Liberation Sans" font-size="3.9" font-weight="normal" fill="#28282b" opacity="0.72" textLength="27.0" lengthAdjust="spacingAndGlyphs">SCALE SCALE</text>
<text x="281.0" y="327.0" font-family="Liberation Sans" font-size="3.9" font-weight="normal" fill="#28282b" opacity="0.72" textLength="34.0" lengthAdjust="spacingAndGlyphs">CHART THE SCALE</text>
<text x="281.0" y="332.0" font-family="Liberation Sans" font-size="3.9" font-weight="normal" fill="#28282b" opacity="0.72" textLength="68.0" lengthAdjust="spacingAndGlyphs">MODEL RATIO CHART LEVEL MODEL L</text>
<text x="281.0" y="337.0" font-family="Liberation Sans" font-size="3.9" font-weight="normal" fill="#28282b" opacity="0.72" textLength="68.0" lengthAdjust="spacingAndGlyphs">YEAR VALUE AND THE OF REPORT YE</text>
<line x1="281.0" y1="337.0" x2="299.0" y2="337.0" stroke="#f0a030" stroke-width="0.8" />
<text x="236.0" y="335.8" font-family="Liberation Sans" font-size="3.9" font-weight="normal" fill="#28282b" opacity="0.78" textLength="15.0" lengthAdjust="spacingAndGlyphs">INDEX</text>
<text x="235.0" y="342.8" font-family="Liberation Sans" font-size="3.9" font-weight="normal" fill="#28282b" opacity="0.78" textLength="19.0" lengthAdjust="spacingAndGlyphs">DATA TOT</text>
<line x1="246.0" y1="348.0" x2="246.0" y2="362.0" stroke="#cfe0dc" stroke-width="0.8" />
<line x1="269.0" y1="350.0" x2="284.0" y2="350.0" stroke="#f0a030" stroke-width="1.3" />
<line x1="269.0" y1="354.4" x2="284.0" y2="354.4" stroke="#f0a030" stroke-width="1.3" />
<text x="286.0" y="349.4" font-family="Liberation Sans" font-size="3.9" font-weight="normal" fill="#28282b" opacity="0.72" textLength="24.0" lengthAdjust="spacingAndGlyphs">SCALE SALES</text>
<text x="286.0" y="353.4" font-family="Liberation Sans" font-size="3.9" font-weight="normal" fill="#28282b" opacity="0.72" textLength="22.0" lengthAdjust="spacingAndGlyphs">MEAN OF YE</text>
<text x="286.0" y="357.4" font-family="Liberation Sans" font-size="3.9" font-weight="normal" fill="#28282b" opacity="0.72" textLength="30.0" lengthAdjust="spacingAndGlyphs">THE YEAR MEAN</text>
<text x="286.0" y="362.0" font-family="Liberation Sans" font-size="3.9" font-weight="normal" fill="#28282b" opacity="0.72" textLength="54.0" lengthAdjust="spacingAndGlyphs">MODEL VALUE USER RATE THE</text>
<text x="286.0" y="366.4" font-family="Liberation Sans" font-size="3.9" font-weight="normal" fill="#28282b" opacity="0.72" textLength="50.0" lengthAdjust="spacingAndGlyphs">SALES CHART AND REGION</text>
<text x="270.0" y="362.0" font-family="Liberation Sans" font-size="3.9" font-weight="normal" fill="#f0a030" opacity="0.62" textLength="15.0" lengthAdjust="spacingAndGlyphs">GLOBAL</text>
<text x="367.0" y="251.7" font-family="Liberation Sans" font-size="3.9" font-weight="normal" fill="#28282b" opacity="0.72" textLength="47.0" lengthAdjust="spacingAndGlyphs">MEAN AND MODEL GLOBAL</text>
<text x="367.0" y="257.4" font-family="Liberation Sans" font-size="3.9" font-weight="normal" fill="#28282b" opacity="0.72" textLength="45.0" lengthAdjust="spacingAndGlyphs">AND REGION REGION US</text>
<text x="367.0" y="263.6" font-family="Liberation Sans" font-size="3.9" font-weight="normal" fill="#28282b" opacity="0.72" textLength="43.0" lengthAdjust="spacingAndGlyphs">RATE CHART AND RATE</text>
<text x="367.0" y="269.8" font-family="Liberation Sans" font-size="3.9" font-weight="normal" fill="#28282b" opacity="0.72" textLength="47.0" lengthAdjust="spacingAndGlyphs">VALUE REGION SECTOR M</text>
<circle cx="421.3" cy="275.9" r="2.4" fill="#252c35" />
<circle cx="432.0" cy="275.9" r="2.4" fill="#252c35" />
<circle cx="442.9" cy="275.9" r="2.4" fill="#252c35" />
<circle cx="421.3" cy="285.4" r="2.4" fill="#252c35" />
<circle cx="432.0" cy="285.4" r="2.4" fill="#252c35" />
<circle cx="442.9" cy="285.4" r="2.4" fill="#252c35" />
<circle cx="421.3" cy="294.9" r="2.4" fill="#252c35" />
<circle cx="432.0" cy="294.9" r="2.4" fill="#252c35" />
<circle cx="442.9" cy="294.9" r="2.4" fill="#252c35" />
<circle cx="410.8" cy="304.3" r="2.4" fill="#252c35" />
<circle cx="421.3" cy="304.3" r="2.4" fill="#252c35" />
<circle cx="432.0" cy="304.3" r="2.4" fill="#252c35" />
<circle cx="442.9" cy="304.3" r="2.4" fill="#252c35" />
<circle cx="400.6" cy="313.8" r="2.4" fill="#252c35" />
<circle cx="410.8" cy="313.8" r="2.4" fill="#252c35" />
<circle cx="421.3" cy="313.8" r="2.4" fill="#252c35" />
<circle cx="432.0" cy="313.8" r="2.4" fill="#252c35" />
<circle cx="442.9" cy="313.8" r="2.4" fill="#252c35" />
<circle cx="368.8" cy="323.5" r="2.4" fill="#252c35" />
<circle cx="379.6" cy="323.5" r="2.4" fill="#252c35" />
<circle cx="390.4" cy="323.5" r="2.4" fill="#252c35" />
<circle cx="400.6" cy="323.5" r="2.4" fill="#252c35" />
<circle cx="410.8" cy="323.5" r="2.4" fill="#252c35" />
<circle cx="421.3" cy="323.5" r="2.4" fill="#252c35" />
<circle cx="432.0" cy="323.5" r="2.4" fill="#252c35" />
<circle cx="368.8" cy="333.3" r="2.4" fill="#252c35" />
<circle cx="379.6" cy="333.3" r="2.4" fill="#252c35" />
<circle cx="390.4" cy="333.3" r="2.4" fill="#252c35" />
<circle cx="400.6" cy="333.3" r="2.4" fill="#252c35" />
<circle cx="410.8" cy="333.3" r="2.4" fill="#252c35" />
<circle cx="421.3" cy="333.3" r="2.4" fill="#252c35" />
<circle cx="432.0" cy="333.3" r="2.4" fill="#252c35" />
<circle cx="368.8" cy="342.5" r="2.4" fill="#252c35" />
<circle cx="379.6" cy="342.5" r="2.4" fill="#252c35" />
<circle cx="390.4" cy="342.5" r="2.4" fill="#252c35" />
<circle cx="400.6" cy="342.5" r="2.4" fill="#252c35" />
<circle cx="410.8" cy="342.5" r="2.4" fill="#252c35" />
<circle cx="421.3" cy="342.5" r="2.4" fill="#252c35" />
<circle cx="432.0" cy="342.5" r="2.4" fill="#252c35" />
<circle cx="368.8" cy="352.3" r="2.4" fill="#252c35" />
<circle cx="379.6" cy="352.3" r="2.4" fill="#252c35" />
<circle cx="390.4" cy="352.3" r="2.4" fill="#252c35" />
<circle cx="400.6" cy="352.3" r="2.4" fill="#252c35" />
<circle cx="410.8" cy="352.3" r="2.4" fill="#252c35" />
<circle cx="421.3" cy="352.3" r="2.4" fill="#252c35" />
<circle cx="432.0" cy="352.3" r="2.4" fill="#252c35" />
<circle cx="368.8" cy="362.1" r="2.4" fill="#252c35" />
<circle cx="379.6" cy="362.1" r="2.4" fill="#252c35" />
<circle cx="390.4" cy="362.1" r="2.4" fill="#252c35" />
<circle cx="400.6" cy="362.1" r="2.4" fill="#252c35" />
<circle cx="410.8" cy="362.1" r="2.4" fill="#252c35" />
<circle cx="368.8" cy="371.9" r="2.4" fill="#252c35" />
<circle cx="379.6" cy="371.9" r="2.4" fill="#252c35" />
<circle cx="390.4" cy="371.9" r="2.4" fill="#252c35" />
<circle cx="400.6" cy="371.9" r="2.4" fill="#252c35" />
<circle cx="410.8" cy="371.9" r="2.4" fill="#252c35" />
<circle cx="368.8" cy="381.0" r="2.4" fill="#252c35" />
<circle cx="379.6" cy="381.0" r="2.4" fill="#252c35" />
<circle cx="390.4" cy="381.0" r="2.4" fill="#252c35" />
<rect x="367.0" y="274.1" width="3.6" height="3.6" fill="none" stroke="#dfe4da" stroke-width="0.5" opacity="0.7"/>
<rect x="377.8" y="274.1" width="3.6" height="3.6" fill="none" stroke="#dfe4da" stroke-width="0.5" opacity="0.7"/>
<rect x="388.6" y="274.1" width="3.6" height="3.6" fill="none" stroke="#dfe4da" stroke-width="0.5" opacity="0.7"/>
<rect x="398.8" y="274.1" width="3.6" height="3.6" fill="none" stroke="#dfe4da" stroke-width="0.5" opacity="0.7"/>
<rect x="409.0" y="274.1" width="3.6" height="3.6" fill="none" stroke="#dfe4da" stroke-width="0.5" opacity="0.7"/>
<rect x="367.0" y="283.6" width="3.6" height="3.6" fill="none" stroke="#dfe4da" stroke-width="0.5" opacity="0.7"/>
<rect x="377.8" y="283.6" width="3.6" height="3.6" fill="none" stroke="#dfe4da" stroke-width="0.5" opacity="0.7"/>
<rect x="388.6" y="283.6" width="3.6" height="3.6" fill="none" stroke="#dfe4da" stroke-width="0.5" opacity="0.7"/>
<rect x="398.8" y="283.6" width="3.6" height="3.6" fill="none" stroke="#dfe4da" stroke-width="0.5" opacity="0.7"/>
<rect x="409.0" y="283.6" width="3.6" height="3.6" fill="none" stroke="#dfe4da" stroke-width="0.5" opacity="0.7"/>
<rect x="367.0" y="293.1" width="3.6" height="3.6" fill="none" stroke="#dfe4da" stroke-width="0.5" opacity="0.7"/>
<rect x="377.8" y="293.1" width="3.6" height="3.6" fill="none" stroke="#dfe4da" stroke-width="0.5" opacity="0.7"/>
<rect x="388.6" y="293.1" width="3.6" height="3.6" fill="none" stroke="#dfe4da" stroke-width="0.5" opacity="0.7"/>
<rect x="398.8" y="293.1" width="3.6" height="3.6" fill="none" stroke="#dfe4da" stroke-width="0.5" opacity="0.7"/>
<rect x="409.0" y="293.1" width="3.6" height="3.6" fill="none" stroke="#dfe4da" stroke-width="0.5" opacity="0.7"/>
<rect x="367.0" y="302.5" width="3.6" height="3.6" fill="none" stroke="#dfe4da" stroke-width="0.5" opacity="0.7"/>
<rect x="377.8" y="302.5" width="3.6" height="3.6" fill="none" stroke="#dfe4da" stroke-width="0.5" opacity="0.7"/>
<rect x="388.6" y="302.5" width="3.6" height="3.6" fill="none" stroke="#dfe4da" stroke-width="0.5" opacity="0.7"/>
<rect x="398.8" y="302.5" width="3.6" height="3.6" fill="none" stroke="#dfe4da" stroke-width="0.5" opacity="0.7"/>
<rect x="367.0" y="312.0" width="3.6" height="3.6" fill="none" stroke="#dfe4da" stroke-width="0.5" opacity="0.7"/>
<rect x="377.8" y="312.0" width="3.6" height="3.6" fill="none" stroke="#dfe4da" stroke-width="0.5" opacity="0.7"/>
<rect x="388.6" y="312.0" width="3.6" height="3.6" fill="none" stroke="#dfe4da" stroke-width="0.5" opacity="0.7"/>
<circle cx="442.9" cy="323.5" r="2.3" fill="#d7452a" />
<rect x="441.0" y="331.5" width="4.0" height="3.5" fill="#fa941a" />
<circle cx="442.9" cy="342.5" r="2.2" fill="#fa941a" />
<circle cx="442.9" cy="352.3" r="2.2" fill="#fa941a" />
<circle cx="442.9" cy="362.1" r="2.2" fill="#fa941a" />
<circle cx="432.0" cy="362.1" r="2.2" fill="#fa941a" />
<rect x="418.0" y="360.0" width="7.0" height="4.0" fill="#d9d3c8" />
<line x1="448.0" y1="275.9" x2="459.0" y2="275.9" stroke="#86817b" stroke-width="1.5" />
<line x1="452.0" y1="273.5" x2="463.0" y2="273.5" stroke="#cdc8c0" stroke-width="0.9" />
<line x1="451.0" y1="278.3" x2="463.0" y2="278.3" stroke="#d6d1c9" stroke-width="0.8" />
<line x1="448.0" y1="285.4" x2="459.0" y2="285.4" stroke="#86817b" stroke-width="1.5" />
<line x1="452.0" y1="283.0" x2="463.0" y2="283.0" stroke="#cdc8c0" stroke-width="0.9" />
<line x1="451.0" y1="287.8" x2="463.0" y2="287.8" stroke="#d6d1c9" stroke-width="0.8" />
<line x1="448.0" y1="294.9" x2="459.0" y2="294.9" stroke="#86817b" stroke-width="1.5" />
<line x1="452.0" y1="292.5" x2="463.0" y2="292.5" stroke="#cdc8c0" stroke-width="0.9" />
<line x1="451.0" y1="297.3" x2="463.0" y2="297.3" stroke="#d6d1c9" stroke-width="0.8" />
<line x1="448.0" y1="304.3" x2="459.0" y2="304.3" stroke="#86817b" stroke-width="1.5" />
<line x1="452.0" y1="301.9" x2="463.0" y2="301.9" stroke="#cdc8c0" stroke-width="0.9" />
<line x1="451.0" y1="306.7" x2="463.0" y2="306.7" stroke="#d6d1c9" stroke-width="0.8" />
<line x1="448.0" y1="313.8" x2="459.0" y2="313.8" stroke="#86817b" stroke-width="1.5" />
<line x1="452.0" y1="311.4" x2="463.0" y2="311.4" stroke="#cdc8c0" stroke-width="0.9" />
<line x1="451.0" y1="316.2" x2="463.0" y2="316.2" stroke="#d6d1c9" stroke-width="0.8" />
<line x1="448.0" y1="323.5" x2="459.0" y2="323.5" stroke="#86817b" stroke-width="1.5" />
<line x1="452.0" y1="321.1" x2="463.0" y2="321.1" stroke="#cdc8c0" stroke-width="0.9" />
<line x1="451.0" y1="325.9" x2="463.0" y2="325.9" stroke="#d6d1c9" stroke-width="0.8" />
<line x1="448.0" y1="333.3" x2="459.0" y2="333.3" stroke="#86817b" stroke-width="1.5" />
<line x1="452.0" y1="330.9" x2="463.0" y2="330.9" stroke="#cdc8c0" stroke-width="0.9" />
<line x1="451.0" y1="335.7" x2="463.0" y2="335.7" stroke="#d6d1c9" stroke-width="0.8" />
<line x1="448.0" y1="342.5" x2="459.0" y2="342.5" stroke="#86817b" stroke-width="1.5" />
<line x1="452.0" y1="340.1" x2="463.0" y2="340.1" stroke="#cdc8c0" stroke-width="0.9" />
<line x1="451.0" y1="344.9" x2="463.0" y2="344.9" stroke="#d6d1c9" stroke-width="0.8" />
<line x1="448.0" y1="352.3" x2="459.0" y2="352.3" stroke="#86817b" stroke-width="1.5" />
<line x1="452.0" y1="349.9" x2="463.0" y2="349.9" stroke="#cdc8c0" stroke-width="0.9" />
<line x1="451.0" y1="354.7" x2="463.0" y2="354.7" stroke="#d6d1c9" stroke-width="0.8" />
<line x1="448.0" y1="362.1" x2="459.0" y2="362.1" stroke="#86817b" stroke-width="1.5" />
<line x1="452.0" y1="359.7" x2="463.0" y2="359.7" stroke="#cdc8c0" stroke-width="0.9" />
<line x1="451.0" y1="364.5" x2="463.0" y2="364.5" stroke="#d6d1c9" stroke-width="0.8" />
<line x1="463.6" y1="265.0" x2="463.6" y2="375.0" stroke="#d3cdc4" stroke-width="0.8" />
<rect x="456.3" y="320.5" width="7.3" height="49.7" fill="#f5b04a" />
<line x1="456.3" y1="322.0" x2="463.6" y2="322.0" stroke="#fbe9cc" stroke-width="0.9" />
<line x1="456.3" y1="326.5" x2="463.6" y2="326.5" stroke="#fbe9cc" stroke-width="0.9" />
<line x1="456.3" y1="331.0" x2="463.6" y2="331.0" stroke="#fbe9cc" stroke-width="0.9" />
<line x1="456.3" y1="335.5" x2="463.6" y2="335.5" stroke="#fbe9cc" stroke-width="0.9" />
<line x1="456.3" y1="340.0" x2="463.6" y2="340.0" stroke="#fbe9cc" stroke-width="0.9" />
<line x1="456.3" y1="344.5" x2="463.6" y2="344.5" stroke="#fbe9cc" stroke-width="0.9" />
<line x1="456.3" y1="349.0" x2="463.6" y2="349.0" stroke="#fbe9cc" stroke-width="0.9" />
<line x1="456.3" y1="353.5" x2="463.6" y2="353.5" stroke="#fbe9cc" stroke-width="0.9" />
<line x1="456.3" y1="358.0" x2="463.6" y2="358.0" stroke="#fbe9cc" stroke-width="0.9" />
<line x1="456.3" y1="362.5" x2="463.6" y2="362.5" stroke="#fbe9cc" stroke-width="0.9" />
<line x1="456.3" y1="367.0" x2="463.6" y2="367.0" stroke="#fbe9cc" stroke-width="0.9" />
<text x="419.0" y="368.6" font-family="Liberation Sans" font-size="4.3" font-weight="normal" fill="#9e9890" opacity="0.78" textLength="31.0" lengthAdjust="spacingAndGlyphs">VALUE REGION</text>
<text x="420.0" y="377.4" font-family="Liberation Sans" font-size="3.9" font-weight="normal" fill="#f0a030" opacity="0.73" textLength="15.0" lengthAdjust="spacingAndGlyphs">YEAR S</text>
<text x="419.0" y="373.4" font-family="Liberation Sans" font-size="3.9" font-weight="normal" fill="#c8c2b8" opacity="0.65" textLength="31.0" lengthAdjust="spacingAndGlyphs">USER TOTAL AND</text>
<rect x="463.8" y="272.0" width="9.8" height="27.5" fill="#32a7ad" />
<rect x="476.6" y="272.0" width="15.3" height="25.7" fill="#252c35" />
<rect x="491.9" y="272.0" width="17.7" height="25.7" fill="#35b2b5" />
<rect x="479.0" y="278.0" width="2.0" height="5.0" fill="#f4ece0" />
<text x="478.0" y="287.4" font-family="Liberation Sans" font-size="3.9" font-weight="normal" fill="#d9eae8" opacity="1.00" textLength="10.0" lengthAdjust="spacingAndGlyphs">USER</text>
<text x="478.0" y="291.4" font-family="Liberation Sans" font-size="3.9" font-weight="normal" fill="#e9f2ef" opacity="0.78" textLength="12.0" lengthAdjust="spacingAndGlyphs">MODEL</text>
<text x="476.0" y="301.9" font-family="Liberation Sans" font-size="3.9" font-weight="normal" fill="#c6b29a" opacity="0.78" textLength="21.0" lengthAdjust="spacingAndGlyphs">TREND SEC</text>
<rect x="472.1" y="335.6" width="31.7" height="24.4" fill="#2e8e8c" />
<rect x="471.9" y="349.6" width="2.5" height="42.4" fill="#2a8a7a" />
<rect x="500.8" y="308.0" width="37.3" height="30.2" fill="#fb6820" />
<rect x="486.4" y="316.8" width="14.6" height="19.2" fill="#fb6820" />
<rect x="466.8" y="325.8" width="24.5" height="27.0" fill="#fb6820" />
<rect x="503.6" y="338.4" width="34.6" height="30.2" fill="#252c35" />
<rect x="439.7" y="372.0" width="32.2" height="30.7" fill="#ebab3b" />
<rect x="474.4" y="356.9" width="36.3" height="23.4" fill="#e9a53a" />
<rect x="474.4" y="380.3" width="27.2" height="38.0" fill="#eda838" />
<rect x="456.6" y="408.4" width="36.1" height="25.4" fill="#2ea4a6" />
<path d="M428.1,419.6 L485.2,419.6 L485.2,442.1 L444,442.1 L444,468.8 L428.1,468.8 Z" fill="#2f9097" />
<rect x="444.3" y="442.7" width="21.7" height="26.1" fill="#c8b764" />
<rect x="374.8" y="420.1" width="41.1" height="48.7" fill="#252c35" />
<text x="391.0" y="439.0" font-family="Liberation Sans" font-size="11" font-weight="bold" fill="#f4ece0" text-anchor="start" >δ£%</text>
<text x="385.0" y="455.0" font-family="Liberation Sans" font-size="8.5" font-weight="bold" fill="#f4ece0" text-anchor="start" textLength="27" lengthAdjust="spacingAndGlyphs">ΑΤΝαD</text>
<text x="391.0" y="463.4" font-family="Liberation Sans" font-size="3.9" font-weight="normal" fill="#f4ece0" opacity="1.00" textLength="21.0" lengthAdjust="spacingAndGlyphs">OF COST Y</text>
<text x="431.0" y="437.0" font-family="Liberation Sans" font-size="7" font-weight="bold" fill="#e6f2f0" text-anchor="start" >ϕ.ΩΩ</text>
<text x="431.0" y="441.4" font-family="Liberation Sans" font-size="3.9" font-weight="normal" fill="#e6f2f0" opacity="0.91" textLength="21.0" lengthAdjust="spacingAndGlyphs">YEAR MARK</text>
<rect x="518.0" y="322.0" width="2.5" height="5.0" fill="#fbeee0" />
<rect x="490.0" y="331.0" width="2.5" height="5.0" fill="#fbeee0" />
<rect x="480.0" y="336.0" width="2.5" height="5.0" fill="#fbeee0" />
<rect x="519.0" y="352.0" width="2.5" height="5.0" fill="#fbeee0" />
<rect x="476.0" y="381.0" width="2.5" height="5.0" fill="#fbeee0" />
<text x="491.0" y="344.4" font-family="Liberation Sans" font-size="3.9" font-weight="normal" fill="#fbe3cc" opacity="0.91" textLength="15.0" lengthAdjust="spacingAndGlyphs">AND CO</text>
<text x="503.0" y="358.4" font-family="Liberation Sans" font-size="3.9" font-weight="normal" fill="#e7e2d8" opacity="0.91" textLength="19.0" lengthAdjust="spacingAndGlyphs">REPORT S</text>
<text x="443.0" y="391.0" font-family="Liberation Sans" font-size="8" font-weight="bold" fill="#fff3dc" text-anchor="start" >ΒΖδ</text>
<text x="443.0" y="398.4" font-family="Liberation Sans" font-size="3.9" font-weight="normal" fill="#fbe3b8" opacity="1.00" textLength="25.0" lengthAdjust="spacingAndGlyphs">RATE YEAR R</text>
<text x="443.0" y="402.4" font-family="Liberation Sans" font-size="3.9" font-weight="normal" fill="#fbe3b8" opacity="0.78" textLength="27.0" lengthAdjust="spacingAndGlyphs">LEVEL TREND</text>
<text x="478.0" y="374.0" font-family="Liberation Sans" font-size="7" font-weight="bold" fill="#fff3dc" text-anchor="start" >ʃ Ѵ</text>
<text x="478.0" y="380.9" font-family="Liberation Sans" font-size="3.9" font-weight="normal" fill="#fbe3b8" opacity="0.91" textLength="27.0" lengthAdjust="spacingAndGlyphs">COST RATIO R</text>
<rect x="486.0" y="394.0" width="3.0" height="6.0" fill="#fff3dc" />
<text x="482.0" y="403.9" font-family="Liberation Sans" font-size="3.9" font-weight="normal" fill="#fbe3b8" opacity="0.91" textLength="12.0" lengthAdjust="spacingAndGlyphs">THE U</text>
<rect x="466.0" y="416.0" width="2.5" height="5.0" fill="#e6f2f0" />
<text x="476.0" y="423.0" font-family="Liberation Sans" font-size="6" font-weight="bold" fill="#e6f2f0" text-anchor="start" >ǥΩ</text>
<text x="466.0" y="428.4" font-family="Liberation Sans" font-size="3.9" font-weight="normal" fill="#dff0ee" opacity="0.91" textLength="24.0" lengthAdjust="spacingAndGlyphs">OF USER RAT</text>
<text x="306.0" y="385.4" font-family="Liberation Sans" font-size="3.9" font-weight="normal" fill="#28282b" opacity="0.78" textLength="44.0" lengthAdjust="spacingAndGlyphs">MODEL DATA LEVEL MAR</text>
<text x="306.0" y="389.0" font-family="Liberation Sans" font-size="3.9" font-weight="normal" fill="#28282b" opacity="0.78" textLength="34.0" lengthAdjust="spacingAndGlyphs">MODEL USER TREN</text>
<text x="306.0" y="392.4" font-family="Liberation Sans" font-size="3.9" font-weight="normal" fill="#28282b" opacity="0.78" textLength="32.0" lengthAdjust="spacingAndGlyphs">LEVEL GLOBAL T</text>
<text x="306.0" y="395.7" font-family="Liberation Sans" font-size="3.9" font-weight="normal" fill="#28282b" opacity="0.78" textLength="24.0" lengthAdjust="spacingAndGlyphs">SALES SALES</text>
<text x="306.0" y="398.8" font-family="Liberation Sans" font-size="3.9" font-weight="normal" fill="#dca23a" opacity="0.62" textLength="24.0" lengthAdjust="spacingAndGlyphs">SALES SECTO</text>
<line x1="270.5" y1="390.9" x2="295.8" y2="390.9" stroke="#bfe0dd" stroke-width="0.8" />
<rect x="244.1" y="406.2" width="6.1" height="65.7" fill="#9fd5d3" />
<rect x="244.1" y="424.1" width="6.1" height="47.8" fill="#6fc0c0" />
<rect x="244.1" y="436.8" width="6.1" height="35.1" fill="#27acb0" />
<rect x="254.7" y="390.9" width="5.6" height="81.0" fill="#27acb0" />
<rect x="265.0" y="390.9" width="5.5" height="81.0" fill="#27acb0" />
<rect x="275.4" y="432.3" width="5.7" height="39.6" fill="#252c35" />
<rect x="275.4" y="451.8" width="5.7" height="20.1" fill="#27acb0" />
<rect x="285.5" y="409.4" width="5.7" height="62.5" fill="#252c35" />
<rect x="285.5" y="453.4" width="5.7" height="18.5" fill="#27acb0" />
<rect x="295.8" y="386.8" width="5.7" height="85.1" fill="#fb6820" />
<rect x="295.8" y="429.5" width="5.7" height="42.4" fill="#252c35" />
<rect x="295.8" y="448.0" width="5.7" height="23.9" fill="#1f6e70" />
<rect x="295.8" y="453.9" width="5.7" height="18.0" fill="#27acb0" />
<rect x="305.6" y="437.6" width="5.4" height="34.3" fill="#252c35" />
<rect x="305.6" y="453.1" width="5.4" height="18.8" fill="#27acb0" />
<rect x="315.5" y="422.5" width="5.2" height="49.4" fill="#fb6820" />
<rect x="315.5" y="449.5" width="5.2" height="22.4" fill="#27acb0" />
<rect x="325.1" y="441.2" width="5.7" height="30.7" fill="#252c35" />
<rect x="325.1" y="452.3" width="5.7" height="19.6" fill="#27acb0" />
<rect x="335.7" y="418.9" width="5.7" height="53.0" fill="#fb6820" />
<rect x="335.7" y="445.3" width="5.7" height="26.6" fill="#27acb0" />
<rect x="345.2" y="444.2" width="5.7" height="27.7" fill="#252c35" />
<rect x="345.2" y="456.9" width="5.7" height="15.0" fill="#27acb0" />
<text x="220.0" y="384.4" font-family="Liberation Sans" font-size="3.9" font-weight="normal" fill="#d0c2a8" opacity="0.78" textLength="3.0" lengthAdjust="spacingAndGlyphs">DA</text>
<text x="220.0" y="396.4" font-family="Liberation Sans" font-size="3.9" font-weight="normal" fill="#d0c2a8" opacity="0.78" textLength="3.0" lengthAdjust="spacingAndGlyphs">ME</text>
<text x="220.0" y="406.4" font-family="Liberation Sans" font-size="3.9" font-weight="normal" fill="#d0c2a8" opacity="0.78" textLength="3.0" lengthAdjust="spacingAndGlyphs">MA</text>
<text x="220.0" y="419.4" font-family="Liberation Sans" font-size="3.9" font-weight="normal" fill="#d0c2a8" opacity="0.78" textLength="3.0" lengthAdjust="spacingAndGlyphs">TR</text>
<text x="220.0" y="427.4" font-family="Liberation Sans" font-size="3.9" font-weight="normal" fill="#d0c2a8" opacity="0.78" textLength="3.0" lengthAdjust="spacingAndGlyphs">AN</text>
<text x="220.0" y="437.4" font-family="Liberation Sans" font-size="3.9" font-weight="normal" fill="#d0c2a8" opacity="0.78" textLength="3.0" lengthAdjust="spacingAndGlyphs">US</text>
<text x="220.0" y="449.4" font-family="Liberation Sans" font-size="3.9" font-weight="normal" fill="#d0c2a8" opacity="0.78" textLength="3.0" lengthAdjust="spacingAndGlyphs">TH</text>
<circle cx="621.0" cy="295.0" r="40.0" fill="#252c35" />
<path d="M620,295 L581.4,304.1 A40.6,40.6 0 0 1 615.3,254.8 L620,275 Z" fill="#ebd39c" />
<path d="M615.3,254.8 A40.6,40.6 0 0 1 631.5,255.8 L630,278 L621,276 L621,275 Z" fill="#f0e2c2" />
<line x1="622.0" y1="258.0" x2="622.0" y2="275.0" stroke="#f7f0e2" stroke-width="1.2" />
<line x1="578.0" y1="290.0" x2="601.0" y2="290.0" stroke="#f7efe2" stroke-width="1.5" />
<text x="577.0" y="239.2" font-family="Liberation Sans" font-size="3.9" font-weight="normal" fill="#28282b" opacity="0.78" textLength="33.0" lengthAdjust="spacingAndGlyphs">TREND SALES AND</text>
<text x="577.0" y="244.6" font-family="Liberation Sans" font-size="3.9" font-weight="normal" fill="#28282b" opacity="0.78" textLength="28.0" lengthAdjust="spacingAndGlyphs">SCALE GLOBAL</text>
<text x="577.0" y="250.9" font-family="Liberation Sans" font-size="3.9" font-weight="normal" fill="#28282b" opacity="0.78" textLength="31.0" lengthAdjust="spacingAndGlyphs">SALES RATE TOT</text>
<text x="607.0" y="243.4" font-family="Liberation Sans" font-size="3.9" font-weight="normal" fill="#28282b" opacity="0.78" textLength="3.0" lengthAdjust="spacingAndGlyphs">MA</text>
<line x1="643.0" y1="232.7" x2="663.0" y2="232.7" stroke="#d9e3db" stroke-width="0.8" />
<text x="645.0" y="239.0" font-family="Liberation Sans" font-size="3.9" font-weight="normal" fill="#28282b" opacity="0.78" textLength="7.0" lengthAdjust="spacingAndGlyphs">MAR</text>
<text x="652.0" y="239.0" font-family="Liberation Sans" font-size="3.9" font-weight="normal" fill="#dca23a" opacity="0.78" textLength="18.0" lengthAdjust="spacingAndGlyphs">AND RATI</text>
<text x="645.0" y="244.6" font-family="Liberation Sans" font-size="3.9" font-weight="normal" fill="#28282b" opacity="0.78" textLength="8.0" lengthAdjust="spacingAndGlyphs">AND</text>
<text x="655.0" y="244.6" font-family="Liberation Sans" font-size="3.9" font-weight="normal" fill="#dca23a" opacity="0.78" textLength="21.0" lengthAdjust="spacingAndGlyphs">REPORT RE</text>
<text x="645.0" y="250.4" font-family="Liberation Sans" font-size="3.9" font-weight="normal" fill="#dca23a" opacity="0.78" textLength="31.0" lengthAdjust="spacingAndGlyphs">GLOBAL RATE IN</text>
<text x="664.0" y="262.8" font-family="Liberation Sans" font-size="3.9" font-weight="normal" fill="#28282b" opacity="0.78" textLength="21.0" lengthAdjust="spacingAndGlyphs">REPORT CO</text>
<text x="664.0" y="268.0" font-family="Liberation Sans" font-size="3.9" font-weight="normal" fill="#28282b" opacity="0.78" textLength="21.0" lengthAdjust="spacingAndGlyphs">SCALE YEA</text>
<text x="664.0" y="274.1" font-family="Liberation Sans" font-size="4.1" font-weight="normal" fill="#28282b" opacity="0.91" textLength="21.0" lengthAdjust="spacingAndGlyphs">GLOBAL RA</text>
<text x="664.0" y="279.4" font-family="Liberation Sans" font-size="3.9" font-weight="normal" fill="#28282b" opacity="0.78" textLength="14.0" lengthAdjust="spacingAndGlyphs">DATA L</text>
<rect x="653.0" y="263.0" width="4.0" height="5.0" fill="none" stroke="#888" stroke-width="0.5"/>
<line x1="551.0" y1="281.0" x2="575.0" y2="281.0" stroke="#d9e3db" stroke-width="0.8" />
<text x="552.0" y="287.2" font-family="Liberation Sans" font-size="4.0" font-weight="bold" fill="#dca23a" opacity="0.80" textLength="20.0" lengthAdjust="spacingAndGlyphs">INDEX VAL</text>
<text x="552.0" y="293.8" font-family="Liberation Sans" font-size="3.9" font-weight="normal" fill="#dca23a" opacity="0.73" textLength="20.0" lengthAdjust="spacingAndGlyphs">USER USER</text>
<text x="552.0" y="299.8" font-family="Liberation Sans" font-size="3.9" font-weight="normal" fill="#dca23a" opacity="0.73" textLength="19.0" lengthAdjust="spacingAndGlyphs">TOTAL TH</text>
<text x="563.0" y="341.1" font-family="Liberation Sans" font-size="4.3" font-weight="normal" fill="#28282b" opacity="0.78" textLength="27.0" lengthAdjust="spacingAndGlyphs">GROWTH THE</text>
<path d="M753.5,287.0 L765.8,241.1 A47.5,47.5 0 0 1 794.6,263.2 Z" fill="#252c35" />
<path d="M753.5,287.0 L793.3,312.9 A47.5,47.5 0 0 1 771.7,330.9 Z" fill="#252c35" />
<path d="M753.5,287.0 L771.7,330.9 A47.5,47.5 0 0 1 729.8,328.1 Z" fill="#2aaeb0" />
<path d="M753.5,287.0 L729.8,328.1 A47.5,47.5 0 0 1 715.6,258.4 Z" fill="#fa941a" />
<path d="M753.5,287.0 L715.6,258.4 A47.5,47.5 0 0 1 747.7,239.9 Z" fill="#d3dcd4" />
<path d="M753.5,287.0 L747.7,239.9 A47.5,47.5 0 0 1 765.8,241.1 Z" fill="#2aaeb0" />
<circle cx="752.0" cy="288.0" r="31.5" fill="#252c35" />
<path d="M751.3,292.3 L794.8,263.3 A47.5,47.5 0 0 1 796.5,315.3 Z" fill="#ebd39c" />
<line x1="796.5" y1="315.3" x2="800.0" y2="319.0" stroke="#f0a050" stroke-width="1" />
<text x="719.0" y="235.5" font-family="Liberation Sans" font-size="4.5" font-weight="bold" fill="#2b2b2b" opacity="1.00" textLength="70.0" lengthAdjust="spacingAndGlyphs">USER MODEL SALES TOTAL TREND</text>
<text x="709.0" y="275.6" font-family="Liberation Sans" font-size="4.3" font-weight="normal" fill="#fff1dc" opacity="1.00" textLength="11.0" lengthAdjust="spacingAndGlyphs">REGI</text>
<text x="709.0" y="286.6" font-family="Liberation Sans" font-size="4.3" font-weight="normal" fill="#fff1dc" opacity="1.00" textLength="10.0" lengthAdjust="spacingAndGlyphs">REPO</text>
<text x="709.0" y="296.6" font-family="Liberation Sans" font-size="4.3" font-weight="normal" fill="#fff1dc" opacity="1.00" textLength="12.0" lengthAdjust="spacingAndGlyphs">ANNUA</text>
<text x="709.0" y="304.6" font-family="Liberation Sans" font-size="4.3" font-weight="normal" fill="#fff1dc" opacity="1.00" textLength="10.0" lengthAdjust="spacingAndGlyphs">INDE</text>
<text x="709.0" y="314.6" font-family="Liberation Sans" font-size="4.3" font-weight="normal" fill="#fff1dc" opacity="1.00" textLength="13.0" lengthAdjust="spacingAndGlyphs">TOTAL</text>
<rect x="698.0" y="336.5" width="12.0" height="5.5" fill="#fa941a" />
<text x="690.0" y="262.4" font-family="Liberation Sans" font-size="3.9" font-weight="normal" fill="#28282b" opacity="0.65" textLength="6.0" lengthAdjust="spacingAndGlyphs">SH</text>
<text x="690.0" y="267.4" font-family="Liberation Sans" font-size="3.9" font-weight="normal" fill="#28282b" opacity="0.65" textLength="6.0" lengthAdjust="spacingAndGlyphs">DA</text>
<text x="690.0" y="273.4" font-family="Liberation Sans" font-size="3.9" font-weight="normal" fill="#28282b" opacity="0.65" textLength="5.0" lengthAdjust="spacingAndGlyphs">SC</text>
<path d="M883.3,291.0 L883.3,333.0 A42,42 0 0 1 876.0,332.4 Z" fill="#fa941a" />
<path d="M883.3,291.0 L876.0,332.4 A42,42 0 0 1 851.1,318.0 Z" fill="#f59a3e" />
<path d="M834.2,263.7 L872,278 L883,291 L871,305 L851.5,318.5 L834.2,320.8 Z" fill="#fb6820" />
<polygon points="834.6,253.3 849.5,260.8 848.7,267.4 834.2,263.7" fill="#ecdcb0" />
<polygon points="849.5,260.8 861.3,252.6 874.0,271.9 866.0,277.0 848.7,267.4" fill="#f59f4c" />
<polygon points="861.3,252.6 869.5,248.2 872.5,246.8 874.0,251.5 866.0,253.0" fill="#e2501f" />
<polygon points="861.6,252.4 870.0,249.5 876.0,249.5 883.3,250.0 883.3,292.0 872.0,276.0 874.2,272.0" fill="#252c35" />
<path d="M883.3,291.0 L883.3,250.0 A41,41 0 0 1 908.5,323.3 Z" fill="#2fb0b2" />
<rect x="883.3" y="248.0" width="8.7" height="5.0" fill="#f5ecde" />
<rect x="892.0" y="249.5" width="4.0" height="3.5" fill="#2fb0b2" />
<polygon points="923.7,276.9 902.4,288.5 923.7,300.9 925.0,288.0" fill="#8ed0cd" />
<path d="M883.3,272 A19,19 0 0 0 883.3,310 Z" fill="#252c35" />
<rect x="880.0" y="272.0" width="3.3" height="38.0" fill="#252c35" />
<text x="856" y="236.9" font-family="Liberation Sans" font-weight="bold" font-size="8" fill="#2aa9ad" textLength="70" lengthAdjust="spacingAndGlyphs">ƐЯƐ ƐЯ ƐIЯ ƐЯƐЯ ƐЯƐ</text>
<text x="928" y="295" font-family="Liberation Sans" font-weight="bold" font-size="9" fill="#2aa9ad">Q</text>
<rect x="936.0" y="285.0" width="9.0" height="5.0" fill="#2aa9ad" opacity="0.8"/>
<rect x="936.0" y="292.0" width="9.0" height="5.0" fill="#2aa9ad" opacity="0.8"/>
<text x="840.0" y="289.8" font-family="Liberation Sans" font-size="5.0" font-weight="bold" fill="#fff1dc" opacity="1.00" textLength="13.0" lengthAdjust="spacingAndGlyphs">SHAR</text>
<text x="840.0" y="294.4" font-family="Liberation Sans" font-size="3.9" font-weight="normal" fill="#fbd6b8" opacity="0.91" textLength="12.0" lengthAdjust="spacingAndGlyphs">THE S</text>
<text x="842.0" y="299.4" font-family="Liberation Sans" font-size="3.9" font-weight="normal" fill="#fbd6b8" opacity="0.91" textLength="10.0" lengthAdjust="spacingAndGlyphs">SECT</text>
<rect x="843.0" y="337.9" width="9.4" height="6.1" fill="#252c35" />
<text x="1004.0" y="226.9" font-family="Liberation Sans" font-size="3.9" font-weight="normal" fill="#28282b" opacity="0.78" textLength="105.0" lengthAdjust="spacingAndGlyphs">SHARE SCALE TOTAL DATA MARKET LEVEL THE REGION T</text>
<rect x="965.0" y="246.3" width="163.3" height="80.7" fill="#fa941a" />
<rect x="995.8" y="246.3" width="132.5" height="80.7" fill="#252c35" />
<rect x="965" y="252.5" width="38.3" height="70.8" rx="6" fill="#fa941a"/>
<line x1="1003.0" y1="269.7" x2="1013.0" y2="269.7" stroke="#fa941a" stroke-width="1.8" />
<text x="975.0" y="271.1" font-family="Liberation Sans" font-size="4.0" font-weight="bold" fill="#fff1dc" opacity="1.00" textLength="15.0" lengthAdjust="spacingAndGlyphs">RATE I</text>
<line x1="1003.0" y1="277.2" x2="1013.0" y2="277.2" stroke="#fa941a" stroke-width="1.8" />
<text x="975.0" y="278.6" font-family="Liberation Sans" font-size="4.0" font-weight="bold" fill="#fff1dc" opacity="1.00" textLength="15.0" lengthAdjust="spacingAndGlyphs">AND TO</text>
<line x1="1003.0" y1="285.0" x2="1013.0" y2="285.0" stroke="#fa941a" stroke-width="1.8" />
<text x="975.0" y="286.4" font-family="Liberation Sans" font-size="4.0" font-weight="bold" fill="#fff1dc" opacity="1.00" textLength="15.0" lengthAdjust="spacingAndGlyphs">TOTAL</text>
<line x1="1003.0" y1="292.8" x2="1013.0" y2="292.8" stroke="#fa941a" stroke-width="1.8" />
<text x="975.0" y="294.2" font-family="Liberation Sans" font-size="4.0" font-weight="bold" fill="#fff1dc" opacity="1.00" textLength="15.0" lengthAdjust="spacingAndGlyphs">RATIO</text>
<line x1="1003.0" y1="300.5" x2="1013.0" y2="300.5" stroke="#fa941a" stroke-width="1.8" />
<text x="975.0" y="301.9" font-family="Liberation Sans" font-size="4.0" font-weight="bold" fill="#fff1dc" opacity="1.00" textLength="15.0" lengthAdjust="spacingAndGlyphs">AND IN</text>
<line x1="1003.0" y1="308.0" x2="1013.0" y2="308.0" stroke="#fa941a" stroke-width="1.8" />
<text x="975.0" y="309.4" font-family="Liberation Sans" font-size="4.0" font-weight="bold" fill="#fff1dc" opacity="1.00" textLength="15.0" lengthAdjust="spacingAndGlyphs">ANNUAL</text>
<polygon points="1060.0,327.0 1071.7,320.0 1080.0,312.0 1088.3,303.3 1095.0,301.0 1101.7,300.0 1106.0,299.5 1111.7,298.3 1118.0,301.0 1128.3,305.0 1128.3,327.0" fill="#fa941a" />
<line x1="1025.0" y1="264.7" x2="1036.7" y2="275.8" stroke="#e9e3d6" stroke-width="0.8" />
<line x1="1049.2" y1="266.7" x2="1063.3" y2="286.7" stroke="#e9e3d6" stroke-width="0.8" />
<line x1="1074.2" y1="268.0" x2="1081.7" y2="280.8" stroke="#e9e3d6" stroke-width="0.8" />
<line x1="1093.3" y1="265.8" x2="1111.7" y2="290.8" stroke="#e9e3d6" stroke-width="0.8" />
<line x1="1037.5" y1="284.2" x2="1043.3" y2="315.8" stroke="#e9e3d6" stroke-width="0.8" />
<line x1="1063.3" y1="286.7" x2="1073.3" y2="318.3" stroke="#e9e3d6" stroke-width="0.8" />
<line x1="1037.5" y1="284.2" x2="1053.3" y2="300.8" stroke="#e9e3d6" stroke-width="0.8" />
<polyline points="1015.0,260.0 1025.0,264.7 1042.5,255.8 1055.0,255.0 1074.2,262.0 1078.3,260.0 1083.3,259.2 1093.3,262.0" fill="none" stroke="#8a8e93" stroke-width="0.7" stroke-linejoin="round" />
<circle cx="1025.0" cy="264.7" r="3.6" fill="#33aab0" stroke="#d8ece8" stroke-width="0.8"/>
<circle cx="1049.2" cy="266.7" r="3.6" fill="#33aab0" stroke="#d8ece8" stroke-width="0.8"/>
<circle cx="1074.2" cy="268.0" r="3.6" fill="#33aab0" stroke="#d8ece8" stroke-width="0.8"/>
<circle cx="1093.3" cy="265.8" r="3.6" fill="#33aab0" stroke="#d8ece8" stroke-width="0.8"/>
<circle cx="1063.3" cy="286.7" r="3.0" fill="#33aab0" stroke="#d8ece8" stroke-width="0.8"/>
<circle cx="1037.5" cy="284.2" r="4.0" fill="#ee5a2a" stroke="#f3e6d8" stroke-width="0.8"/>
<circle cx="1053.3" cy="300.8" r="2.8" fill="#f3e6d8" />
<circle cx="1053.3" cy="300.8" r="1.6" fill="#d24a2a" />
<circle cx="1081.7" cy="280.8" r="1.2" fill="#f3e6d8" />
<circle cx="1111.7" cy="290.8" r="1.2" fill="#f3e6d8" />
<circle cx="1043.3" cy="315.8" r="1.2" fill="#f3e6d8" />
<rect x="1128.3" y="246.7" width="20.9" height="78.3" fill="#d4e2da" />
<path d="M1128.3,300 C1136,292 1140,280 1146,268 L1149.2,262 L1149.2,325 L1128.3,325 Z" fill="#f1e3c0" />
<text x="965.0" y="342.6" font-family="Liberation Sans" font-size="4.0" font-weight="bold" fill="#2b2b2b" opacity="1.00" textLength="34.0" lengthAdjust="spacingAndGlyphs">SECTOR RATE OF</text>
<rect x="1140.0" y="337.0" width="8.0" height="6.0" fill="#f3d49a" />
<path d="M966.3,350 L1145,350 L1145,396.7 Q1145,415.8 1121.7,415.8 L988,415.8 Q966.3,415.8 966.3,396.7 Z" fill="#252c35" />
<clipPath id="cp2"><path d="M966.3,350 L1145,350 L1145,396.7 Q1145,415.8 1121.7,415.8 L988,415.8 Q966.3,415.8 966.3,396.7 Z"/></clipPath>
<g clip-path="url(#cp2)">
<path d="M1031.7,375.8 L1068,375.8 Q1078.3,375.8 1078.3,386 L1078.3,394 L1150,394 L1150,420 L1045,420 L1045,397 L1031.7,397 Z" fill="#fa941a" />
</g>
<path d="M1010.8,350 L1114.2,350 L1114.2,355 Q1114.2,375 1094,375 L1031,375 Q1010.8,375 1010.8,355 Z" fill="#ebd39c" />
<rect x="1010.8" y="350.0" width="103.4" height="4.5" fill="#f0e3c4" />
<text x="975.0" y="370.0" font-family="Liberation Sans" font-size="9" font-weight="bold" fill="#2fb3b5" text-anchor="start" textLength="20" lengthAdjust="spacingAndGlyphs">42%</text>
<text x="1122.0" y="369.0" font-family="Liberation Sans" font-size="8.5" font-weight="bold" fill="#2fb3b5" text-anchor="start" textLength="17" lengthAdjust="spacingAndGlyphs">00%</text>
<polyline points="986.0,393.0 990.0,388.0 994.0,384.0 998.0,387.0 1002.0,392.0 1006.0,388.0 1010.0,384.0 1013.0,383.0 1017.0,389.0 1021.0,391.0 1026.0,390.0 1031.0,388.0 1035.0,387.0 1040.0,386.0 1044.0,388.0 1048.0,385.0 1053.0,387.0 1058.0,386.0 1063.0,388.0 1068.0,387.0 1073.0,389.0 1078.0,391.0 1084.0,392.0 1089.0,385.0 1092.0,390.0 1097.0,389.0 1102.0,388.0 1107.0,386.0 1111.0,383.0 1114.0,385.0 1118.0,390.0" fill="none" stroke="#e9e3d6" stroke-width="0.9" stroke-linejoin="round" />
<line x1="983.0" y1="393.5" x2="1128.0" y2="393.5" stroke="#e9e3d6" stroke-width="0.6" opacity="0.7"/>
<text x="985.0" y="404.2" font-family="Liberation Sans" font-size="3.9" font-weight="normal" fill="#c9c3ba" opacity="0.91" textLength="60.0" lengthAdjust="spacingAndGlyphs">RATE DATA OF SCALE MODEL TR</text>
<text x="1046.0" y="404.2" font-family="Liberation Sans" font-size="3.9" font-weight="normal" fill="#fbe3c4" opacity="1.00" textLength="72.0" lengthAdjust="spacingAndGlyphs">YEAR REPORT VALUE RATE ANNUAL GLO</text>
<text x="985.0" y="411.0" font-family="Liberation Sans" font-size="3.9" font-weight="normal" fill="#5ec3c2" opacity="0.91" textLength="58.0" lengthAdjust="spacingAndGlyphs">SHARE MARKET SECTOR INDEX C</text>
<text x="1055.0" y="411.0" font-family="Liberation Sans" font-size="3.9" font-weight="normal" fill="#fbe3c4" opacity="1.00" textLength="50.0" lengthAdjust="spacingAndGlyphs">ANNUAL THE CHART SECTOR</text>
<text x="994.0" y="431.4" font-family="Liberation Sans" font-size="4.5" font-weight="bold" fill="#2b2b2b" opacity="1.00" textLength="39.0" lengthAdjust="spacingAndGlyphs">YEAR TOTAL MEAN</text>
<text x="1096.0" y="431.4" font-family="Liberation Sans" font-size="4.5" font-weight="bold" fill="#2b2b2b" opacity="1.00" textLength="36.0" lengthAdjust="spacingAndGlyphs">MEAN MARKET RE</text>
<rect x="698.4" y="337.8" width="11.2" height="10.4" fill="#fa941a" />
<text x="712.0" y="347.8" font-family="Liberation Sans" font-size="3.9" font-weight="normal" fill="#28282b" opacity="0.85" textLength="50.0" lengthAdjust="spacingAndGlyphs">AND OF REGION ANNUAL SA</text>
<text x="763.0" y="347.8" font-family="Liberation Sans" font-size="3.9" font-weight="normal" fill="#dca23a" opacity="0.78" textLength="37.0" lengthAdjust="spacingAndGlyphs">COST SECTOR REPOR</text>
<text x="698.0" y="353.8" font-family="Liberation Sans" font-size="3.9" font-weight="normal" fill="#dca23a" opacity="0.73" textLength="93.0" lengthAdjust="spacingAndGlyphs">YEAR TREND USER OF MEAN REPORT GROWTH USER</text>
<text x="698.0" y="359.8" font-family="Liberation Sans" font-size="3.9" font-weight="normal" fill="#dca23a" opacity="0.73" textLength="78.0" lengthAdjust="spacingAndGlyphs">ANNUAL SHARE TREND TREND RATE REGION</text>
<text x="698.0" y="370.1" font-family="Liberation Sans" font-size="3.9" font-weight="normal" fill="#dca23a" opacity="0.73" textLength="112.0" lengthAdjust="spacingAndGlyphs">REGION YEAR RATE TOTAL YEAR VALUE TREND USER MEAN MO</text>
<text x="698.0" y="376.1" font-family="Liberation Sans" font-size="3.9" font-weight="normal" fill="#dca23a" opacity="0.73" textLength="101.0" lengthAdjust="spacingAndGlyphs">TOTAL DATA GROWTH YEAR GROWTH AND MARKET GLOBAL</text>
<text x="698.0" y="381.6" font-family="Liberation Sans" font-size="3.9" font-weight="normal" fill="#dca23a" opacity="0.73" textLength="102.0" lengthAdjust="spacingAndGlyphs">CHART USER MEAN VALUE SALES SHARE SECTOR SALES</text>
<text x="698.0" y="390.7" font-family="Liberation Sans" font-size="3.9" font-weight="normal" fill="#dca23a" opacity="0.73" textLength="105.0" lengthAdjust="spacingAndGlyphs">ANNUAL REPORT MEAN MARKET VALUE AND GROWTH SHARE</text>
<text x="698.0" y="396.7" font-family="Liberation Sans" font-size="3.9" font-weight="normal" fill="#dca23a" opacity="0.73" textLength="113.0" lengthAdjust="spacingAndGlyphs">MEAN AND SHARE VALUE INDEX RATE CHART RATIO MARKET T</text>
<text x="698.0" y="402.7" font-family="Liberation Sans" font-size="3.9" font-weight="normal" fill="#dca23a" opacity="0.73" textLength="112.0" lengthAdjust="spacingAndGlyphs">REGION ANNUAL TOTAL ANNUAL REGION GLOBAL MARKET TOTA</text>
<text x="698.0" y="408.7" font-family="Liberation Sans" font-size="3.9" font-weight="normal" fill="#dca23a" opacity="0.73" textLength="110.0" lengthAdjust="spacingAndGlyphs">RATE SHARE SECTOR OF USER RATE RATIO INDEX REPORT M</text>
<text x="698.0" y="414.7" font-family="Liberation Sans" font-size="3.9" font-weight="normal" fill="#dca23a" opacity="0.73" textLength="108.0" lengthAdjust="spacingAndGlyphs">GLOBAL GLOBAL YEAR CHART MARKET AND RATE VALUE TOT</text>
<text x="698.0" y="420.5" font-family="Liberation Sans" font-size="3.9" font-weight="normal" fill="#dca23a" opacity="0.73" textLength="106.0" lengthAdjust="spacingAndGlyphs">TOTAL YEAR SALES ANNUAL TREND SCALE THE REPORT OF</text>
<text x="698.0" y="426.5" font-family="Liberation Sans" font-size="3.9" font-weight="normal" fill="#dca23a" opacity="0.73" textLength="103.0" lengthAdjust="spacingAndGlyphs">ANNUAL LEVEL SECTOR CHART USER RATIO USER THE AN</text>
<rect x="710.4" y="440.0" width="9.6" height="6.7" fill="#252c35" />
<text x="722.0" y="444.9" font-family="Liberation Sans" font-size="4.5" font-weight="bold" fill="#2aa9ad" opacity="1.00" textLength="48.0" lengthAdjust="spacingAndGlyphs">TOTAL SCALE GLOBAL</text>
<line x1="721.0" y1="447.8" x2="735.6" y2="466.0" stroke="#45b0b3" stroke-width="0.8" />
<line x1="720.0" y1="467.0" x2="755.0" y2="467.0" stroke="#7dc9c7" stroke-width="0.7" />
<text x="710.0" y="465.0" font-family="Liberation Sans" font-size="4.1" font-weight="normal" fill="#3ab1b4" opacity="1.00" textLength="9.0" lengthAdjust="spacingAndGlyphs">SALE</text>
<text x="710.0" y="468.5" font-family="Liberation Sans" font-size="4.1" font-weight="normal" fill="#3ab1b4" opacity="1.00" textLength="9.0" lengthAdjust="spacingAndGlyphs">SALE</text>
<line x1="710.0" y1="470.9" x2="772.0" y2="470.9" stroke="#45b0b3" stroke-width="1.1" />
<line x1="710.0" y1="475.6" x2="768.0" y2="475.6" stroke="#45b0b3" stroke-width="1.1" />
<rect x="842.7" y="337.8" width="9.5" height="9.3" fill="#252c35" />
<text x="855.0" y="347.2" font-family="Liberation Sans" font-size="3.9" font-weight="normal" fill="#28282b" opacity="0.85" textLength="74.0" lengthAdjust="spacingAndGlyphs">VALUE CHART DATA VALUE REPORT REPO</text>
<text x="843.0" y="353.2" font-family="Liberation Sans" font-size="3.9" font-weight="normal" fill="#dca23a" opacity="0.73" textLength="105.0" lengthAdjust="spacingAndGlyphs">GLOBAL MODEL DATA SCALE REGION LEVEL YEAR SECTOR</text>
<text x="843.0" y="359.2" font-family="Liberation Sans" font-size="3.9" font-weight="normal" fill="#dca23a" opacity="0.73" textLength="103.0" lengthAdjust="spacingAndGlyphs">SALES AND MEAN SECTOR OF THE CHART REPORT VALUE</text>
<text x="843.0" y="364.7" font-family="Liberation Sans" font-size="3.9" font-weight="normal" fill="#dca23a" opacity="0.73" textLength="67.0" lengthAdjust="spacingAndGlyphs">RATIO OF YEAR LEVEL TREND REPOR</text>
<rect x="843.5" y="371.5" width="7.0" height="7.0" fill="none" stroke="#fa941a" stroke-width="1.3"/>
<text x="854.0" y="376.1" font-family="Liberation Sans" font-size="3.9" font-weight="normal" fill="#dca23a" opacity="0.73" textLength="81.0" lengthAdjust="spacingAndGlyphs">YEAR RATE GLOBAL YEAR ANNUAL LEVEL SE</text>
<text x="854.0" y="381.4" font-family="Liberation Sans" font-size="3.9" font-weight="normal" fill="#dca23a" opacity="0.73" textLength="91.0" lengthAdjust="spacingAndGlyphs">DATA DATA AND TREND GLOBAL RATIO MARKET TO</text>
<text x="843.0" y="388.9" font-family="Liberation Sans" font-size="3.9" font-weight="normal" fill="#5ec3c2" opacity="0.91" textLength="8.0" lengthAdjust="spacingAndGlyphs">RAT</text>
<text x="854.0" y="388.9" font-family="Liberation Sans" font-size="3.9" font-weight="normal" fill="#28282b" opacity="0.78" textLength="36.0" lengthAdjust="spacingAndGlyphs">VALUE CHART COST</text>
<text x="891.0" y="388.9" font-family="Liberation Sans" font-size="3.9" font-weight="normal" fill="#dca23a" opacity="0.73" textLength="61.0" lengthAdjust="spacingAndGlyphs">THE THE MEAN TREND SALES RAT</text>
<text x="843.0" y="394.7" font-family="Liberation Sans" font-size="3.9" font-weight="normal" fill="#dca23a" opacity="0.73" textLength="103.0" lengthAdjust="spacingAndGlyphs">SHARE YEAR SCALE VALUE USER GLOBAL VALUE MEAN VA</text>
<text x="843.0" y="401.6" font-family="Liberation Sans" font-size="3.9" font-weight="normal" fill="#dca23a" opacity="0.73" textLength="77.0" lengthAdjust="spacingAndGlyphs">THE ANNUAL LEVEL YEAR TREND OF THE</text>
<text x="843.0" y="408.3" font-family="Liberation Sans" font-size="3.9" font-weight="normal" fill="#dca23a" opacity="0.73" textLength="109.0" lengthAdjust="spacingAndGlyphs">MARKET USER MODEL YEAR ANNUAL AND RATE VALUE MODEL</text>
<text x="843.0" y="414.1" font-family="Liberation Sans" font-size="3.9" font-weight="normal" fill="#dca23a" opacity="0.73" textLength="89.0" lengthAdjust="spacingAndGlyphs">ANNUAL INDEX VALUE USER OF LEVEL SHARE LE</text>
<text x="843.0" y="421.2" font-family="Liberation Sans" font-size="3.9" font-weight="normal" fill="#dca23a" opacity="0.73" textLength="105.0" lengthAdjust="spacingAndGlyphs">ANNUAL INDEX MODEL TOTAL MARKET THE CHART TREND</text>
<text x="843.0" y="427.4" font-family="Liberation Sans" font-size="3.9" font-weight="normal" fill="#dca23a" opacity="0.73" textLength="102.0" lengthAdjust="spacingAndGlyphs">REGION GLOBAL AND MARKET USER MARKET TREND SECT</text>
<text x="843.0" y="433.2" font-family="Liberation Sans" font-size="3.9" font-weight="normal" fill="#dca23a" opacity="0.73" textLength="92.0" lengthAdjust="spacingAndGlyphs">SCALE MARKET VALUE SALES VALUE RATE SECTOR</text>
<text x="843.0" y="438.5" font-family="Liberation Sans" font-size="3.9" font-weight="normal" fill="#dca23a" opacity="0.73" textLength="31.0" lengthAdjust="spacingAndGlyphs">TREND DATA COS</text>
<rect x="843.0" y="445.0" width="9.0" height="7.0" fill="#fa941a" />
<text x="855.0" y="448.4" font-family="Liberation Sans" font-size="3.9" font-weight="normal" fill="#28282b" opacity="0.91" textLength="79.0" lengthAdjust="spacingAndGlyphs">USER COST GROWTH VALUE USER ANNUAL M</text>
<text x="855.0" y="453.4" font-family="Liberation Sans" font-size="3.9" font-weight="normal" fill="#28282b" opacity="0.85" textLength="35.0" lengthAdjust="spacingAndGlyphs">OF COST REPORT T</text>
<text x="891.0" y="453.4" font-family="Liberation Sans" font-size="3.9" font-weight="normal" fill="#ef5b22" opacity="1.00" textLength="27.0" lengthAdjust="spacingAndGlyphs">OF MARKET TH</text>
<text x="562.0" y="342.1" font-family="Liberation Sans" font-size="4.0" font-weight="bold" fill="#2b2b2b" opacity="0.98" textLength="30.0" lengthAdjust="spacingAndGlyphs">COST REPORT A</text>
<text x="553.0" y="354.0" font-family="Liberation Sans" font-size="4.5" font-weight="bold" fill="#2b2b2b" opacity="1.00" textLength="81.0" lengthAdjust="spacingAndGlyphs">OF LEVEL OF GROWTH TOTAL SALES L</text>
<text x="547.0" y="371.4" font-family="Liberation Sans" font-size="3.9" font-weight="normal" fill="#d0c4ad" opacity="0.65" textLength="5.0" lengthAdjust="spacingAndGlyphs">SH</text>
<text x="547.0" y="377.4" font-family="Liberation Sans" font-size="3.9" font-weight="normal" fill="#d0c4ad" opacity="0.65" textLength="5.0" lengthAdjust="spacingAndGlyphs">RE</text>
<text x="547.0" y="385.4" font-family="Liberation Sans" font-size="3.9" font-weight="normal" fill="#d0c4ad" opacity="0.65" textLength="5.0" lengthAdjust="spacingAndGlyphs">DA</text>
<text x="547.0" y="393.4" font-family="Liberation Sans" font-size="3.9" font-weight="normal" fill="#d0c4ad" opacity="0.65" textLength="5.0" lengthAdjust="spacingAndGlyphs">AN</text>
<rect x="557.0" y="378.0" width="83.0" height="21.8" fill="#e3ded5" />
<line x1="557.0" y1="380.5" x2="557.0" y2="399.8" stroke="#a9a49d" stroke-width="0.7" />
<line x1="559.1" y1="380.7" x2="559.1" y2="399.8" stroke="#a9a49d" stroke-width="0.7" />
<line x1="561.0" y1="377.8" x2="561.0" y2="399.8" stroke="#a9a49d" stroke-width="0.7" />
<line x1="562.8" y1="363.6" x2="562.8" y2="399.8" stroke="#a9a49d" stroke-width="0.7" />
<line x1="564.2" y1="384.1" x2="564.2" y2="399.8" stroke="#a9a49d" stroke-width="0.7" />
<line x1="565.5" y1="385.8" x2="565.5" y2="399.8" stroke="#a9a49d" stroke-width="0.7" />
<line x1="567.4" y1="382.2" x2="567.4" y2="399.8" stroke="#a9a49d" stroke-width="0.7" />
<line x1="568.7" y1="362.3" x2="568.7" y2="399.8" stroke="#a9a49d" stroke-width="0.7" />
<line x1="570.3" y1="376.3" x2="570.3" y2="399.8" stroke="#a9a49d" stroke-width="0.7" />
<line x1="572.0" y1="384.4" x2="572.0" y2="399.8" stroke="#a9a49d" stroke-width="0.7" />
<line x1="573.8" y1="381.0" x2="573.8" y2="399.8" stroke="#a9a49d" stroke-width="0.7" />
<line x1="575.6" y1="378.8" x2="575.6" y2="399.8" stroke="#a9a49d" stroke-width="0.7" />
<line x1="577.7" y1="384.4" x2="577.7" y2="399.8" stroke="#a9a49d" stroke-width="0.7" />
<line x1="579.3" y1="378.3" x2="579.3" y2="399.8" stroke="#a9a49d" stroke-width="0.7" />
<line x1="580.7" y1="383.7" x2="580.7" y2="399.8" stroke="#a9a49d" stroke-width="0.7" />
<line x1="582.8" y1="379.9" x2="582.8" y2="399.8" stroke="#a9a49d" stroke-width="0.7" />
<line x1="584.8" y1="376.0" x2="584.8" y2="399.8" stroke="#a9a49d" stroke-width="0.7" />
<line x1="586.9" y1="380.7" x2="586.9" y2="399.8" stroke="#a9a49d" stroke-width="0.7" />
<line x1="588.6" y1="376.7" x2="588.6" y2="399.8" stroke="#a9a49d" stroke-width="0.7" />
<line x1="590.6" y1="364.0" x2="590.6" y2="399.8" stroke="#a9a49d" stroke-width="0.7" />
<line x1="592.8" y1="363.0" x2="592.8" y2="399.8" stroke="#a9a49d" stroke-width="0.7" />
<line x1="594.2" y1="376.6" x2="594.2" y2="399.8" stroke="#a9a49d" stroke-width="0.7" />
<line x1="595.6" y1="381.6" x2="595.6" y2="399.8" stroke="#a9a49d" stroke-width="0.7" />
<line x1="597.1" y1="383.3" x2="597.1" y2="399.8" stroke="#a9a49d" stroke-width="0.7" />
<line x1="599.0" y1="377.2" x2="599.0" y2="399.8" stroke="#a9a49d" stroke-width="0.7" />
<line x1="600.5" y1="378.7" x2="600.5" y2="399.8" stroke="#a9a49d" stroke-width="0.7" />
<line x1="602.5" y1="379.0" x2="602.5" y2="399.8" stroke="#a9a49d" stroke-width="0.7" />
<line x1="604.0" y1="379.9" x2="604.0" y2="399.8" stroke="#a9a49d" stroke-width="0.7" />
<line x1="605.8" y1="377.0" x2="605.8" y2="399.8" stroke="#a9a49d" stroke-width="0.7" />
<line x1="607.3" y1="378.6" x2="607.3" y2="399.8" stroke="#a9a49d" stroke-width="0.7" />
<line x1="608.9" y1="361.1" x2="608.9" y2="399.8" stroke="#a9a49d" stroke-width="0.7" />
<line x1="610.8" y1="378.4" x2="610.8" y2="399.8" stroke="#a9a49d" stroke-width="0.7" />
<line x1="612.4" y1="380.5" x2="612.4" y2="399.8" stroke="#a9a49d" stroke-width="0.7" />
<line x1="614.1" y1="381.7" x2="614.1" y2="399.8" stroke="#a9a49d" stroke-width="0.7" />
<line x1="615.6" y1="377.5" x2="615.6" y2="399.8" stroke="#a9a49d" stroke-width="0.7" />
<line x1="617.6" y1="378.5" x2="617.6" y2="399.8" stroke="#a9a49d" stroke-width="0.7" />
<line x1="619.6" y1="385.4" x2="619.6" y2="399.8" stroke="#a9a49d" stroke-width="0.7" />
<line x1="621.8" y1="384.8" x2="621.8" y2="399.8" stroke="#a9a49d" stroke-width="0.7" />
<line x1="623.4" y1="371.6" x2="623.4" y2="399.8" stroke="#a9a49d" stroke-width="0.7" />
<line x1="624.9" y1="383.0" x2="624.9" y2="399.8" stroke="#a9a49d" stroke-width="0.7" />
<line x1="627.0" y1="382.0" x2="627.0" y2="399.8" stroke="#a9a49d" stroke-width="0.7" />
<line x1="628.4" y1="362.7" x2="628.4" y2="399.8" stroke="#a9a49d" stroke-width="0.7" />
<line x1="630.2" y1="384.5" x2="630.2" y2="399.8" stroke="#a9a49d" stroke-width="0.7" />
<line x1="631.8" y1="385.2" x2="631.8" y2="399.8" stroke="#a9a49d" stroke-width="0.7" />
<line x1="633.1" y1="378.7" x2="633.1" y2="399.8" stroke="#a9a49d" stroke-width="0.7" />
<line x1="634.5" y1="377.8" x2="634.5" y2="399.8" stroke="#a9a49d" stroke-width="0.7" />
<line x1="636.3" y1="377.3" x2="636.3" y2="399.8" stroke="#a9a49d" stroke-width="0.7" />
<line x1="638.4" y1="385.8" x2="638.4" y2="399.8" stroke="#a9a49d" stroke-width="0.7" />
<line x1="557.0" y1="399.8" x2="640.0" y2="399.8" stroke="#9d978f" stroke-width="0.8" />
<line x1="640.0" y1="376.0" x2="672.0" y2="376.0" stroke="#ebe3d3" stroke-width="0.6" />
<line x1="640.0" y1="382.0" x2="672.0" y2="382.0" stroke="#ebe3d3" stroke-width="0.6" />
<line x1="640.0" y1="388.0" x2="672.0" y2="388.0" stroke="#ebe3d3" stroke-width="0.6" />
<line x1="640.0" y1="394.0" x2="672.0" y2="394.0" stroke="#ebe3d3" stroke-width="0.6" />
<line x1="557.0" y1="410.0" x2="676.0" y2="410.0" stroke="#efe6d6" stroke-width="0.5" />
<line x1="557.0" y1="418.0" x2="676.0" y2="418.0" stroke="#efe6d6" stroke-width="0.5" />
<line x1="557.0" y1="426.0" x2="676.0" y2="426.0" stroke="#efe6d6" stroke-width="0.5" />
<line x1="557.0" y1="434.0" x2="676.0" y2="434.0" stroke="#efe6d6" stroke-width="0.5" />
<line x1="558.4" y1="418.4" x2="558.4" y2="441.6" stroke="#f0cf95" stroke-width="0.6" opacity="0.8"/>
<line x1="563.0" y1="432.0" x2="563.0" y2="441.6" stroke="#f0cf95" stroke-width="0.6" opacity="0.8"/>
<line x1="567.7" y1="434.2" x2="567.7" y2="441.6" stroke="#f0cf95" stroke-width="0.6" opacity="0.8"/>
<line x1="574.3" y1="433.1" x2="574.3" y2="441.6" stroke="#f0cf95" stroke-width="0.6" opacity="0.8"/>
<line x1="582.5" y1="430.8" x2="582.5" y2="441.6" stroke="#f0cf95" stroke-width="0.6" opacity="0.8"/>
<line x1="584.4" y1="432.1" x2="584.4" y2="441.6" stroke="#f0cf95" stroke-width="0.6" opacity="0.8"/>
<line x1="588.9" y1="434.2" x2="588.9" y2="441.6" stroke="#f0cf95" stroke-width="0.6" opacity="0.8"/>
<line x1="590.8" y1="436.4" x2="590.8" y2="441.6" stroke="#f0cf95" stroke-width="0.6" opacity="0.8"/>
<line x1="595.1" y1="433.4" x2="595.1" y2="441.6" stroke="#f0cf95" stroke-width="0.6" opacity="0.8"/>
<line x1="599.2" y1="418.2" x2="599.2" y2="441.6" stroke="#f0cf95" stroke-width="0.6" opacity="0.8"/>
<line x1="602.2" y1="437.9" x2="602.2" y2="441.6" stroke="#f0cf95" stroke-width="0.6" opacity="0.8"/>
<line x1="604.2" y1="437.6" x2="604.2" y2="441.6" stroke="#f0cf95" stroke-width="0.6" opacity="0.8"/>
<line x1="607.2" y1="435.7" x2="607.2" y2="441.6" stroke="#f0cf95" stroke-width="0.6" opacity="0.8"/>
<line x1="612.7" y1="428.9" x2="612.7" y2="441.6" stroke="#f0cf95" stroke-width="0.6" opacity="0.8"/>
<line x1="618.5" y1="427.9" x2="618.5" y2="441.6" stroke="#f0cf95" stroke-width="0.6" opacity="0.8"/>
<line x1="620.1" y1="427.1" x2="620.1" y2="441.6" stroke="#f0cf95" stroke-width="0.6" opacity="0.8"/>
<line x1="622.0" y1="424.9" x2="622.0" y2="441.6" stroke="#f0cf95" stroke-width="0.6" opacity="0.8"/>
<line x1="626.0" y1="418.7" x2="626.0" y2="441.6" stroke="#f0cf95" stroke-width="0.6" opacity="0.8"/>
<line x1="628.2" y1="433.6" x2="628.2" y2="441.6" stroke="#f0cf95" stroke-width="0.6" opacity="0.8"/>
<line x1="630.1" y1="435.4" x2="630.1" y2="441.6" stroke="#f0cf95" stroke-width="0.6" opacity="0.8"/>
<line x1="631.3" y1="428.0" x2="631.3" y2="441.6" stroke="#f0cf95" stroke-width="0.6" opacity="0.8"/>
<line x1="634.0" y1="419.0" x2="634.0" y2="441.6" stroke="#f0cf95" stroke-width="0.6" opacity="0.8"/>
<line x1="636.0" y1="431.9" x2="636.0" y2="441.6" stroke="#f0cf95" stroke-width="0.6" opacity="0.8"/>
<line x1="641.8" y1="421.9" x2="641.8" y2="441.6" stroke="#f0cf95" stroke-width="0.6" opacity="0.8"/>
<line x1="643.0" y1="433.7" x2="643.0" y2="441.6" stroke="#f0cf95" stroke-width="0.6" opacity="0.8"/>
<line x1="644.4" y1="425.6" x2="644.4" y2="441.6" stroke="#f0cf95" stroke-width="0.6" opacity="0.8"/>
<line x1="646.4" y1="431.5" x2="646.4" y2="441.6" stroke="#f0cf95" stroke-width="0.6" opacity="0.8"/>
<line x1="648.5" y1="435.4" x2="648.5" y2="441.6" stroke="#f0cf95" stroke-width="0.6" opacity="0.8"/>
<line x1="650.8" y1="438.5" x2="650.8" y2="441.6" stroke="#f0cf95" stroke-width="0.6" opacity="0.8"/>
<line x1="652.9" y1="428.0" x2="652.9" y2="441.6" stroke="#f0cf95" stroke-width="0.6" opacity="0.8"/>
<line x1="661.1" y1="432.3" x2="661.1" y2="441.6" stroke="#f0cf95" stroke-width="0.6" opacity="0.8"/>
<line x1="666.8" y1="437.8" x2="666.8" y2="441.6" stroke="#f0cf95" stroke-width="0.6" opacity="0.8"/>
<line x1="674.8" y1="419.8" x2="674.8" y2="441.6" stroke="#f0cf95" stroke-width="0.6" opacity="0.8"/>
<line x1="557.0" y1="441.6" x2="676.0" y2="441.6" stroke="#b9b2a8" stroke-width="0.8" />
<text x="557.0" y="448.4" font-family="Liberation Sans" font-size="3.9" font-weight="normal" fill="#b0aaa2" opacity="0.65" textLength="119.0" lengthAdjust="spacingAndGlyphs">GROWTH SHARE MARKET GROWTH YEAR GLOBAL REGION SALES OF</text>
<line x1="557.0" y1="452.7" x2="676.0" y2="452.7" stroke="#8e8a84" stroke-width="1.4" />
<line x1="585.0" y1="452.6" x2="590.0" y2="452.6" stroke="#f2a03a" stroke-width="1.6" />
<rect x="552.5" y="445.5" width="3.5" height="3.0" fill="#f2a03a" />
<text x="554.0" y="460.3" font-family="Liberation Sans" font-size="3.9" font-weight="normal" fill="#dca23a" opacity="0.62" textLength="122.0" lengthAdjust="spacingAndGlyphs">TREND MODEL REGION TOTAL SCALE INDEX SHARE SALES GROWTH</text>
<text x="554.0" y="466.3" font-family="Liberation Sans" font-size="3.9" font-weight="normal" fill="#dca23a" opacity="0.62" textLength="122.0" lengthAdjust="spacingAndGlyphs">DATA THE AND RATE AND INDEX ANNUAL DATA MEAN SECTOR MARK</text>
<text x="32.0" y="496.7" font-family="Liberation Sans" font-size="5.5" font-weight="bold" fill="#2b2b2b" opacity="1.00" textLength="18.0" lengthAdjust="spacingAndGlyphs">TOTAL</text>
<text x="51.0" y="496.7" font-family="Liberation Sans" font-size="5.5" font-weight="bold" fill="#f0962a" opacity="0.80" textLength="126.0" lengthAdjust="spacingAndGlyphs">INDEX SECTOR SCALE TREND SCALE CHART ANNU</text>
<rect x="39.3" y="512.7" width="4.0" height="15.3" fill="#fa941a" />
<rect x="39.3" y="521.0" width="4.0" height="7.0" fill="#fb6820" opacity="0.6"/>
<rect x="46.7" y="505.7" width="3.2" height="22.3" fill="#f58a2a" />
<rect x="46.7" y="521.0" width="3.2" height="7.0" fill="#fb6820" opacity="0.6"/>
<rect x="52.0" y="513.3" width="6.0" height="14.7" fill="#f27a28" />
<rect x="52.0" y="521.0" width="6.0" height="7.0" fill="#fb6820" opacity="0.6"/>
<rect x="62.3" y="510.0" width="4.0" height="18.0" fill="#fa941a" />
<rect x="62.3" y="521.0" width="4.0" height="7.0" fill="#fb6820" opacity="0.6"/>
<rect x="69.0" y="517.0" width="5.3" height="11.0" fill="#f58a2a" />
<rect x="69.0" y="521.0" width="5.3" height="7.0" fill="#fb6820" opacity="0.6"/>
<rect x="78.0" y="509.6" width="4.3" height="18.4" fill="#f27a28" />
<rect x="78.0" y="521.0" width="4.3" height="7.0" fill="#fb6820" opacity="0.6"/>
<rect x="86.3" y="507.0" width="4.0" height="21.0" fill="#fa941a" />
<rect x="86.3" y="521.0" width="4.0" height="7.0" fill="#fb6820" opacity="0.6"/>
<rect x="90.3" y="515.7" width="6.0" height="12.3" fill="#f58a2a" />
<rect x="90.3" y="521.0" width="6.0" height="7.0" fill="#fb6820" opacity="0.6"/>
<rect x="97.0" y="510.7" width="3.7" height="17.3" fill="#f27a28" />
<rect x="97.0" y="521.0" width="3.7" height="7.0" fill="#fb6820" opacity="0.6"/>
<rect x="102.3" y="522.0" width="3.7" height="6.0" fill="#fa941a" />
<rect x="102.3" y="522.0" width="3.7" height="6.0" fill="#fb6820" opacity="0.6"/>
<rect x="108.7" y="524.0" width="3.6" height="4.0" fill="#f58a2a" />
<rect x="108.7" y="524.0" width="3.6" height="4.0" fill="#fb6820" opacity="0.6"/>
<rect x="114.3" y="509.0" width="4.0" height="19.0" fill="#f27a28" />
<rect x="114.3" y="521.0" width="4.0" height="7.0" fill="#fb6820" opacity="0.6"/>
<rect x="121.7" y="509.3" width="4.3" height="18.7" fill="#fa941a" />
<rect x="121.7" y="521.0" width="4.3" height="7.0" fill="#fb6820" opacity="0.6"/>
<rect x="127.7" y="522.7" width="3.3" height="5.3" fill="#f58a2a" />
<rect x="127.7" y="522.7" width="3.3" height="5.3" fill="#fb6820" opacity="0.6"/>
<rect x="133.0" y="516.7" width="5.3" height="11.3" fill="#f27a28" />
<rect x="133.0" y="521.0" width="5.3" height="7.0" fill="#fb6820" opacity="0.6"/>
<rect x="139.7" y="509.0" width="4.0" height="19.0" fill="#fa941a" />
<rect x="139.7" y="521.0" width="4.0" height="7.0" fill="#fb6820" opacity="0.6"/>
<rect x="143.7" y="522.7" width="3.3" height="5.3" fill="#f58a2a" />
<rect x="143.7" y="522.7" width="3.3" height="5.3" fill="#fb6820" opacity="0.6"/>
<rect x="148.3" y="516.0" width="3.4" height="12.0" fill="#f27a28" />
<rect x="148.3" y="521.0" width="3.4" height="7.0" fill="#fb6820" opacity="0.6"/>
<rect x="154.3" y="524.4" width="7.4" height="3.6" fill="#fa941a" />
<rect x="154.3" y="524.4" width="7.4" height="3.6" fill="#fb6820" opacity="0.6"/>
<rect x="47.0" y="506.0" width="1.5" height="10.0" fill="#7cc7a8" />
<rect x="71.0" y="517.0" width="2.0" height="3.0" fill="#4fb3a9" />
<rect x="98.0" y="510.7" width="2.0" height="3.3" fill="#5dbdb0" />
<rect x="135.0" y="516.7" width="1.5" height="2.3" fill="#5a9a60" />
<text x="32.0" y="535.4" font-family="Liberation Sans" font-size="3.9" font-weight="normal" fill="#28282b" opacity="0.78" textLength="111.0" lengthAdjust="spacingAndGlyphs">AND OF LEVEL USER MARKET INDEX MEAN SALES MARKET SH</text>
<text x="32.0" y="538.3" font-family="Liberation Sans" font-size="3.9" font-weight="normal" fill="#28282b" opacity="0.78" textLength="111.0" lengthAdjust="spacingAndGlyphs">INDEX REGION USER THE YEAR ANNUAL VALUE CHART YEAR</text>
<text x="32.0" y="541.4" font-family="Liberation Sans" font-size="3.9" font-weight="normal" fill="#28282b" opacity="0.78" textLength="74.0" lengthAdjust="spacingAndGlyphs">SECTOR TOTAL OF TOTAL OF SALES AND</text>
<text x="33.0" y="551.0" font-family="Liberation Sans" font-size="3.9" font-weight="normal" fill="#b8ad9e" opacity="0.78" textLength="9.0" lengthAdjust="spacingAndGlyphs">CHAR</text>
<line x1="42.6" y1="566.0" x2="42.6" y2="624.3" stroke="#b0a89c" stroke-width="0.8" />
<text x="33.0" y="567.4" font-family="Liberation Sans" font-size="3.9" font-weight="normal" fill="#a8a095" opacity="0.78" textLength="9.0" lengthAdjust="spacingAndGlyphs">OF R</text>
<text x="33.0" y="585.4" font-family="Liberation Sans" font-size="3.9" font-weight="normal" fill="#a8a095" opacity="0.78" textLength="9.0" lengthAdjust="spacingAndGlyphs">MARK</text>
<text x="33.0" y="602.4" font-family="Liberation Sans" font-size="3.9" font-weight="normal" fill="#a8a095" opacity="0.78" textLength="9.0" lengthAdjust="spacingAndGlyphs">REGI</text>
<text x="33.0" y="625.4" font-family="Liberation Sans" font-size="3.9" font-weight="normal" fill="#a8a095" opacity="0.78" textLength="9.0" lengthAdjust="spacingAndGlyphs">AND</text>
<rect x="49.0" y="570.2" width="8.6" height="54.1" fill="#f06526" />
<rect x="58.4" y="575.0" width="7.4" height="49.3" fill="#f5ead8" />
<rect x="66.1" y="570.2" width="9.8" height="54.1" fill="#f06526" />
<rect x="66.1" y="587.0" width="9.8" height="37.3" fill="#e45f2a" opacity="0.6"/>
<rect x="75.9" y="586.5" width="7.0" height="37.8" fill="#f5e4c8" />
<rect x="83.2" y="554.7" width="9.0" height="15.5" fill="#ebe6dc" />
<rect x="83.2" y="570.2" width="9.0" height="54.1" fill="#f06526" />
<rect x="92.7" y="566.0" width="11.7" height="18.8" fill="#f6e8cf" />
<rect x="92.7" y="584.8" width="11.7" height="39.5" fill="#f5d7a2" />
<rect x="104.9" y="570.2" width="10.9" height="54.1" fill="#f06526" />
<rect x="117.0" y="588.0" width="10.7" height="36.3" fill="#f5ecd9" />
<rect x="128.0" y="552.7" width="13.1" height="5.6" fill="#ebe5d8" />
<rect x="128.0" y="558.3" width="13.1" height="30.3" fill="#d6c3a2" />
<rect x="128.0" y="588.6" width="13.1" height="35.7" fill="#aaa07c" />
<rect x="146.5" y="558.8" width="18.7" height="65.5" fill="#f06526" />
<rect x="165.2" y="561.0" width="19.2" height="63.3" fill="#fb6820" />
<rect x="184.9" y="524.0" width="24.4" height="26.0" fill="#fb6820" />
<rect x="184.9" y="550.0" width="24.4" height="74.3" fill="#252c35" />
<rect x="211.6" y="515.1" width="12.8" height="13.3" fill="#e2dfd3" />
<rect x="211.6" y="528.4" width="12.8" height="48.3" fill="#c9b48e" />
<rect x="211.6" y="576.7" width="12.8" height="47.6" fill="#2e5560" />
<rect x="211.6" y="576.7" width="12.8" height="8.3" fill="#3a5f68" />
<rect x="224.9" y="562.2" width="12.4" height="14.5" fill="#e3e4da" />
<rect x="224.9" y="576.7" width="12.4" height="11.1" fill="#c9d0cb" />
<rect x="224.9" y="587.8" width="12.4" height="36.5" fill="#a3b5b5" />
<rect x="237.8" y="561.0" width="12.6" height="9.0" fill="#e4e4da" />
<rect x="237.8" y="570.0" width="12.6" height="7.8" fill="#9fbcc0" />
<rect x="237.8" y="577.8" width="12.6" height="46.5" fill="#3a9aa0" />
<rect x="237.8" y="607.8" width="12.6" height="16.5" fill="#33919a" />
<rect x="250.7" y="559.6" width="13.1" height="12.6" fill="#e3e4da" />
<rect x="250.7" y="572.2" width="13.1" height="52.1" fill="#c5cfcc" />
<rect x="264.0" y="557.3" width="19.3" height="11.6" fill="#cfd6d2" />
<rect x="264.0" y="568.9" width="19.3" height="22.9" fill="#a9c1c4" />
<rect x="264.0" y="591.8" width="19.3" height="32.5" fill="#4a9ea4" />
<rect x="264.0" y="603.3" width="19.3" height="21.0" fill="#3b9299" />
<rect x="284.4" y="570.0" width="36.1" height="54.3" fill="#f3e6c8" />
<rect x="320.5" y="556.8" width="22.3" height="67.5" fill="#f4e8cc" />
<line x1="45.0" y1="625.5" x2="343.0" y2="625.5" stroke="#e0d6c7" stroke-width="0.9" />
<text x="48.0" y="636.3" font-family="Liberation Sans" font-size="3.9" font-weight="normal" fill="#9b9388" opacity="0.78" textLength="9.0" lengthAdjust="spacingAndGlyphs">COST</text>
<text x="66.0" y="636.3" font-family="Liberation Sans" font-size="3.9" font-weight="normal" fill="#9b9388" opacity="0.78" textLength="8.0" lengthAdjust="spacingAndGlyphs">SHA</text>
<text x="84.0" y="636.3" font-family="Liberation Sans" font-size="3.9" font-weight="normal" fill="#9b9388" opacity="0.78" textLength="7.0" lengthAdjust="spacingAndGlyphs">IND</text>
<text x="103.0" y="636.3" font-family="Liberation Sans" font-size="3.9" font-weight="normal" fill="#9b9388" opacity="0.78" textLength="7.0" lengthAdjust="spacingAndGlyphs">RAT</text>
<text x="126.0" y="636.3" font-family="Liberation Sans" font-size="3.9" font-weight="normal" fill="#9b9388" opacity="0.78" textLength="15.0" lengthAdjust="spacingAndGlyphs">SHARE</text>
<text x="160.0" y="636.3" font-family="Liberation Sans" font-size="3.9" font-weight="normal" fill="#9b9388" opacity="0.78" textLength="9.0" lengthAdjust="spacingAndGlyphs">COST</text>
<text x="195.0" y="636.3" font-family="Liberation Sans" font-size="3.9" font-weight="normal" fill="#9b9388" opacity="0.78" textLength="10.0" lengthAdjust="spacingAndGlyphs">OF R</text>
<text x="238.0" y="636.3" font-family="Liberation Sans" font-size="3.9" font-weight="normal" fill="#9b9388" opacity="0.78" textLength="12.0" lengthAdjust="spacingAndGlyphs">REGIO</text>
<text x="264.0" y="636.3" font-family="Liberation Sans" font-size="3.9" font-weight="normal" fill="#9b9388" opacity="0.78" textLength="9.0" lengthAdjust="spacingAndGlyphs">LEVE</text>
<text x="289.0" y="636.3" font-family="Liberation Sans" font-size="3.9" font-weight="normal" fill="#9b9388" opacity="0.78" textLength="7.0" lengthAdjust="spacingAndGlyphs">LEV</text>
<text x="313.0" y="636.3" font-family="Liberation Sans" font-size="3.9" font-weight="normal" fill="#9b9388" opacity="0.78" textLength="10.0" lengthAdjust="spacingAndGlyphs">SHAR</text>
<text x="334.0" y="636.3" font-family="Liberation Sans" font-size="3.9" font-weight="normal" fill="#9b9388" opacity="0.78" textLength="10.0" lengthAdjust="spacingAndGlyphs">RATE</text>
<rect x="261.1" y="501.5" width="10.8" height="10.0" fill="#fa941a" />
<rect x="266.0" y="503.0" width="1.5" height="7.0" fill="#fbe3c4" />
<text x="260.8" y="497.4" font-family="Liberation Sans" font-size="4.5" font-weight="bold" fill="#2b2b2b" opacity="1.00" textLength="10.2" lengthAdjust="spacingAndGlyphs">TREN</text>
<text x="274.0" y="501.0" font-family="Liberation Sans" font-size="4.0" font-weight="bold" fill="#28282b" opacity="0.91" textLength="75.0" lengthAdjust="spacingAndGlyphs">THE REGION SECTOR COST CHART YEAR</text>
<text x="274.0" y="512.2" font-family="Liberation Sans" font-size="4.0" font-weight="bold" fill="#28282b" opacity="0.91" textLength="47.0" lengthAdjust="spacingAndGlyphs">AND THE SCALE VALUE D</text>
<text x="260.8" y="518.7" font-family="Liberation Sans" font-size="3.9" font-weight="normal" fill="#5ec3c2" opacity="0.91" textLength="86.2" lengthAdjust="spacingAndGlyphs">USER LEVEL SALES SECTOR TOTAL CHART RATE</text>
<text x="260.8" y="524.1" font-family="Liberation Sans" font-size="3.9" font-weight="normal" fill="#f0a030" opacity="0.80" textLength="70.2" lengthAdjust="spacingAndGlyphs">ANNUAL SCALE USER REPORT USER GR</text>
<text x="260.8" y="530.0" font-family="Liberation Sans" font-size="3.9" font-weight="normal" fill="#f0a030" opacity="0.80" textLength="74.2" lengthAdjust="spacingAndGlyphs">THE CHART REGION TREND SCALE LEVEL</text>
<text x="368.0" y="505.6" font-family="Liberation Sans" font-size="5.0" font-weight="bold" fill="#2b2b2b" opacity="1.00" textLength="57.0" lengthAdjust="spacingAndGlyphs">SECTOR REPORT COST V</text>
<path d="M369,516 Q371,511.5 373,516 Z" fill="#ef5b22" />
<line x1="369.0" y1="524.9" x2="374.0" y2="524.9" stroke="#5ec3c2" stroke-width="1" />
<rect x="370.0" y="539.3" width="4.5" height="2.2" fill="#fa941a" />
<rect x="369.0" y="563.5" width="7.0" height="6.5" fill="none" stroke="#7fc9c9" stroke-width="1.2"/>
<rect x="369.0" y="578.0" width="7.0" height="7.0" fill="#3c9ea3" />
<rect x="371.0" y="580.0" width="3.0" height="3.0" fill="#e3f1ef" />
<rect x="369.0" y="593.0" width="7.0" height="7.0" fill="none" stroke="#f0a030" stroke-width="1.3"/>
<line x1="370.0" y1="608.0" x2="375.0" y2="608.0" stroke="#5ec3c2" stroke-width="1.2" />
<rect x="369.0" y="620.0" width="7.0" height="6.5" fill="#ef6a2a" />
<rect x="371.0" y="622.0" width="3.0" height="2.5" fill="#fbe3cc" />
<text x="385.0" y="518.1" font-family="Liberation Sans" font-size="3.9" font-weight="normal" fill="#28282b" opacity="0.78" textLength="29.0" lengthAdjust="spacingAndGlyphs">SHARE SHARE S</text>
<text x="385.0" y="524.7" font-family="Liberation Sans" font-size="3.9" font-weight="normal" fill="#28282b" opacity="0.78" textLength="27.0" lengthAdjust="spacingAndGlyphs">INDEX CHART</text>
<text x="385.0" y="530.7" font-family="Liberation Sans" font-size="3.9" font-weight="normal" fill="#28282b" opacity="0.78" textLength="35.0" lengthAdjust="spacingAndGlyphs">CHART COST AND G</text>
<text x="385.0" y="537.6" font-family="Liberation Sans" font-size="3.9" font-weight="normal" fill="#28282b" opacity="0.78" textLength="33.0" lengthAdjust="spacingAndGlyphs">MARKET TOTAL SE</text>
<text x="385.0" y="543.8" font-family="Liberation Sans" font-size="3.9" font-weight="normal" fill="#28282b" opacity="0.78" textLength="32.0" lengthAdjust="spacingAndGlyphs">GROWTH VALUE A</text>
<text x="385.0" y="551.0" font-family="Liberation Sans" font-size="3.9" font-weight="normal" fill="#28282b" opacity="0.78" textLength="39.0" lengthAdjust="spacingAndGlyphs">AND YEAR OF USER M</text>
<text x="385.0" y="557.2" font-family="Liberation Sans" font-size="3.9" font-weight="normal" fill="#28282b" opacity="0.78" textLength="36.0" lengthAdjust="spacingAndGlyphs">MEAN SHARE GROWT</text>
<text x="385.0" y="563.8" font-family="Liberation Sans" font-size="3.9" font-weight="normal" fill="#28282b" opacity="0.78" textLength="43.0" lengthAdjust="spacingAndGlyphs">ANNUAL DATA AND RATE</text>
<text x="385.0" y="569.8" font-family="Liberation Sans" font-size="3.9" font-weight="normal" fill="#28282b" opacity="0.78" textLength="42.0" lengthAdjust="spacingAndGlyphs">COST AND MARKET DAT</text>
<text x="385.0" y="577.0" font-family="Liberation Sans" font-size="3.9" font-weight="normal" fill="#28282b" opacity="0.78" textLength="35.0" lengthAdjust="spacingAndGlyphs">ANNUAL USER LEVE</text>
<text x="385.0" y="583.2" font-family="Liberation Sans" font-size="3.9" font-weight="normal" fill="#28282b" opacity="0.78" textLength="42.0" lengthAdjust="spacingAndGlyphs">SALES GROWTH VALUE</text>
<text x="385.0" y="589.6" font-family="Liberation Sans" font-size="3.9" font-weight="normal" fill="#28282b" opacity="0.78" textLength="35.0" lengthAdjust="spacingAndGlyphs">REPORT ANNUAL SA</text>
<text x="385.0" y="595.4" font-family="Liberation Sans" font-size="3.9" font-weight="normal" fill="#28282b" opacity="0.78" textLength="31.0" lengthAdjust="spacingAndGlyphs">COST MODEL VAL</text>
<text x="385.0" y="603.0" font-family="Liberation Sans" font-size="3.9" font-weight="normal" fill="#28282b" opacity="0.78" textLength="35.0" lengthAdjust="spacingAndGlyphs">REGION MEAN SECT</text>
<text x="385.0" y="609.2" font-family="Liberation Sans" font-size="3.9" font-weight="normal" fill="#28282b" opacity="0.78" textLength="39.0" lengthAdjust="spacingAndGlyphs">MODEL SECTOR DATA</text>
<text x="385.0" y="615.8" font-family="Liberation Sans" font-size="3.9" font-weight="normal" fill="#28282b" opacity="0.78" textLength="38.0" lengthAdjust="spacingAndGlyphs">SECTOR SCALE TREN</text>
<text x="385.0" y="621.4" font-family="Liberation Sans" font-size="3.9" font-weight="normal" fill="#28282b" opacity="0.78" textLength="31.0" lengthAdjust="spacingAndGlyphs">TREND RATE RAT</text>
<text x="385.0" y="627.4" font-family="Liberation Sans" font-size="3.9" font-weight="normal" fill="#28282b" opacity="0.78" textLength="40.0" lengthAdjust="spacingAndGlyphs">RATE INDEX RATE RE</text>
<text x="402.0" y="589.6" font-family="Liberation Sans" font-size="3.9" font-weight="normal" fill="#f0962a" opacity="0.80" textLength="17.0" lengthAdjust="spacingAndGlyphs">RATE MA</text>
<text x="397.0" y="595.4" font-family="Liberation Sans" font-size="3.9" font-weight="normal" fill="#f0962a" opacity="0.80" textLength="18.0" lengthAdjust="spacingAndGlyphs">SALES VA</text>
<text x="403.0" y="621.4" font-family="Liberation Sans" font-size="3.9" font-weight="normal" fill="#f0962a" opacity="0.80" textLength="13.0" lengthAdjust="spacingAndGlyphs">GROWTH</text>
<text x="401.0" y="627.4" font-family="Liberation Sans" font-size="3.9" font-weight="normal" fill="#f0962a" opacity="0.80" textLength="24.0" lengthAdjust="spacingAndGlyphs">VALUE VALUE</text>
<text x="457.0" y="500.8" font-family="Liberation Sans" font-size="5.0" font-weight="bold" fill="#2b2b2b" opacity="1.00" textLength="74.0" lengthAdjust="spacingAndGlyphs">REPORT TREND RATIO MARKET</text>
<text x="457.0" y="511.4" font-family="Liberation Sans" font-size="3.9" font-weight="normal" fill="#3ab1b4" opacity="0.91" textLength="19.0" lengthAdjust="spacingAndGlyphs">SHARE AN</text>
<text x="457.0" y="518.1" font-family="Liberation Sans" font-size="3.9" font-weight="normal" fill="#3ab1b4" opacity="0.91" textLength="40.0" lengthAdjust="spacingAndGlyphs">TOTAL RATE VALUE G</text>
<text x="457.0" y="524.7" font-family="Liberation Sans" font-size="3.9" font-weight="normal" fill="#3ab1b4" opacity="0.91" textLength="60.0" lengthAdjust="spacingAndGlyphs">GLOBAL VALUE YEAR CHART DAT</text>
<text x="457.0" y="530.7" font-family="Liberation Sans" font-size="3.9" font-weight="normal" fill="#3ab1b4" opacity="0.91" textLength="46.0" lengthAdjust="spacingAndGlyphs">YEAR SALES OF DATA TH</text>
<text x="457.0" y="537.2" font-family="Liberation Sans" font-size="3.9" font-weight="normal" fill="#3ab1b4" opacity="0.91" textLength="26.0" lengthAdjust="spacingAndGlyphs">USER SCALE V</text>
<text x="457.0" y="543.6" font-family="Liberation Sans" font-size="3.9" font-weight="normal" fill="#3ab1b4" opacity="0.91" textLength="48.0" lengthAdjust="spacingAndGlyphs">SCALE SALES INDEX OF T</text>
<text x="457.0" y="550.7" font-family="Liberation Sans" font-size="3.9" font-weight="normal" fill="#3ab1b4" opacity="0.91" textLength="71.0" lengthAdjust="spacingAndGlyphs">VALUE DATA OF MARKET COST SCALE R</text>
<text x="457.0" y="557.2" font-family="Liberation Sans" font-size="3.9" font-weight="normal" fill="#f0962a" opacity="0.73" textLength="51.0" lengthAdjust="spacingAndGlyphs">MARKET AND INDEX GLOBAL</text>
<text x="457.0" y="563.6" font-family="Liberation Sans" font-size="3.9" font-weight="normal" fill="#3ab1b4" opacity="0.91" textLength="30.0" lengthAdjust="spacingAndGlyphs">GROWTH SALES</text>
<text x="457.0" y="569.4" font-family="Liberation Sans" font-size="3.9" font-weight="normal" fill="#3ab1b4" opacity="0.91" textLength="75.0" lengthAdjust="spacingAndGlyphs">COST RATE SECTOR SECTOR MODEL THE</text>
<text x="457.0" y="576.1" font-family="Liberation Sans" font-size="3.9" font-weight="normal" fill="#e3b04e" opacity="0.73" textLength="51.0" lengthAdjust="spacingAndGlyphs">DATA YEAR COST LEVEL CO</text>
<text x="457.0" y="581.4" font-family="Liberation Sans" font-size="3.9" font-weight="normal" fill="#e3b04e" opacity="0.73" textLength="50.0" lengthAdjust="spacingAndGlyphs">INDEX MARKET OF INDEX S</text>
<text x="457.0" y="587.4" font-family="Liberation Sans" font-size="3.9" font-weight="normal" fill="#e3b04e" opacity="0.73" textLength="54.0" lengthAdjust="spacingAndGlyphs">REPORT OF MARKET RATE OF</text>
<text x="457.0" y="598.1" font-family="Liberation Sans" font-size="3.9" font-weight="normal" fill="#e3b04e" opacity="0.73" textLength="65.0" lengthAdjust="spacingAndGlyphs">COST REGION YEAR MARKET SCALE</text>
<text x="457.0" y="605.6" font-family="Liberation Sans" font-size="3.9" font-weight="normal" fill="#e3b04e" opacity="0.73" textLength="40.0" lengthAdjust="spacingAndGlyphs">THE SCALE SHARE AN</text>
<text x="457.0" y="611.6" font-family="Liberation Sans" font-size="3.9" font-weight="normal" fill="#e3b04e" opacity="0.73" textLength="76.0" lengthAdjust="spacingAndGlyphs">MODEL INDEX GROWTH COST TREND AND M</text>
<text x="457.0" y="621.2" font-family="Liberation Sans" font-size="3.9" font-weight="normal" fill="#e3b04e" opacity="0.73" textLength="88.0" lengthAdjust="spacingAndGlyphs">OF CHART USER MEAN USER AND ANNUAL DATA C</text>
<text x="457.0" y="627.4" font-family="Liberation Sans" font-size="3.9" font-weight="normal" fill="#e3b04e" opacity="0.73" textLength="41.0" lengthAdjust="spacingAndGlyphs">TOTAL MODEL MEAN RE</text>
<line x1="457.0" y1="591.6" x2="508.0" y2="591.6" stroke="#efd7a8" stroke-width="0.8" />
<line x1="457.0" y1="615.6" x2="528.0" y2="615.6" stroke="#efd7a8" stroke-width="0.8" />
<line x1="457.0" y1="633.0" x2="560.0" y2="633.0" stroke="#efd7a8" stroke-width="0.8" />
<line x1="547.1" y1="516.7" x2="547.1" y2="604.4" stroke="#f2c46a" stroke-width="0.9" />
<line x1="552.7" y1="525.6" x2="552.7" y2="610.0" stroke="#f2c46a" stroke-width="0.9" />
<line x1="557.3" y1="528.9" x2="557.3" y2="611.0" stroke="#f2c46a" stroke-width="0.9" />
<line x1="561.8" y1="523.3" x2="561.8" y2="614.4" stroke="#f2c46a" stroke-width="0.9" />
<line x1="532.2" y1="536.2" x2="532.2" y2="551.0" stroke="#f2c46a" stroke-width="0.9" />
<line x1="537.3" y1="536.2" x2="537.3" y2="597.8" stroke="#f2c46a" stroke-width="0.9" />
<line x1="542.2" y1="536.2" x2="542.2" y2="597.8" stroke="#f2c46a" stroke-width="0.9" />
<line x1="516.7" y1="572.2" x2="516.7" y2="591.0" stroke="#f2c46a" stroke-width="0.9" />
<line x1="522.2" y1="572.0" x2="522.2" y2="596.7" stroke="#f2c46a" stroke-width="0.9" />
<line x1="527.3" y1="571.0" x2="527.3" y2="597.0" stroke="#f2c46a" stroke-width="0.9" />
<line x1="511.6" y1="572.0" x2="511.6" y2="588.0" stroke="#f2c46a" stroke-width="0.9" />
<rect x="577.1" y="620.0" width="12.9" height="8.2" fill="#fa941a" />
<text x="612.0" y="496.5" font-family="Liberation Sans" font-size="4.5" font-weight="bold" fill="#2b2b2b" opacity="1.00" textLength="71.0" lengthAdjust="spacingAndGlyphs">YEAR MEAN AND YEAR GROWTH TO</text>
<circle cx="614.5" cy="505.0" r="2.4" fill="none" stroke="#333" stroke-width="1.1"/>
<text x="617.0" y="505.1" font-family="Liberation Sans" font-size="3.9" font-weight="normal" fill="#28282b" opacity="0.91" textLength="58.0" lengthAdjust="spacingAndGlyphs">LEVEL RATE ANNUAL TREND MOD</text>
<rect x="612.0" y="509.0" width="13.0" height="11.0" fill="#e6efe6" />
<line x1="612.0" y1="512.0" x2="625.0" y2="512.0" stroke="#9fd0ce" stroke-width="0.6" />
<line x1="612.0" y1="515.0" x2="625.0" y2="515.0" stroke="#e9c98e" stroke-width="0.6" />
<line x1="612.0" y1="518.0" x2="625.0" y2="518.0" stroke="#e9c98e" stroke-width="0.6" />
<text x="628.0" y="512.0" font-family="Liberation Sans" font-size="3.9" font-weight="normal" fill="#28282b" opacity="0.78" textLength="121.0" lengthAdjust="spacingAndGlyphs">TREND ANNUAL OF TREND REGION RATIO INDEX ANNUAL ANNUAL T</text>
<text x="628.0" y="518.2" font-family="Liberation Sans" font-size="3.9" font-weight="normal" fill="#5ec3c2" opacity="0.91" textLength="121.0" lengthAdjust="spacingAndGlyphs">SECTOR CHART INDEX YEAR MARKET TOTAL REGION TOTAL MARKET</text>
<text x="612.0" y="524.3" font-family="Liberation Sans" font-size="3.9" font-weight="normal" fill="#5ec3c2" opacity="0.91" textLength="13.0" lengthAdjust="spacingAndGlyphs">THE AN</text>
<text x="626.0" y="524.3" font-family="Liberation Sans" font-size="3.9" font-weight="normal" fill="#f0962a" opacity="0.80" textLength="56.0" lengthAdjust="spacingAndGlyphs">GROWTH ANNUAL DATA SCALE A</text>
<rect x="613.0" y="536.0" width="4.0" height="3.5" fill="#c49a7a" />
<text x="622.0" y="537.1" font-family="Liberation Sans" font-size="4.5" font-weight="bold" fill="#2b2b2b" opacity="0.98" textLength="43.0" lengthAdjust="spacingAndGlyphs">TOTAL RATIO INDEX</text>
<rect x="612.2" y="542.1" width="11.8" height="13.7" fill="#fa941a" />
<rect x="615.0" y="550.0" width="6.0" height="2.0" fill="#fbe3c4" />
<rect x="617.0" y="545.0" width="2.0" height="4.0" fill="#fbe3c4" />
<text x="626.0" y="545.6" font-family="Liberation Sans" font-size="3.9" font-weight="normal" fill="#f0962a" opacity="0.80" textLength="42.0" lengthAdjust="spacingAndGlyphs">SALES SECTOR GROWTH</text>
<text x="626.0" y="551.6" font-family="Liberation Sans" font-size="3.9" font-weight="normal" fill="#f0962a" opacity="0.80" textLength="22.0" lengthAdjust="spacingAndGlyphs">REPORT THE</text>
<text x="626.0" y="556.9" font-family="Liberation Sans" font-size="3.9" font-weight="normal" fill="#f0962a" opacity="0.80" textLength="12.0" lengthAdjust="spacingAndGlyphs">OF ME</text>
<text x="768.0" y="496.3" font-family="Liberation Sans" font-size="4.5" font-weight="bold" fill="#2b2b2b" opacity="1.00" textLength="47.0" lengthAdjust="spacingAndGlyphs">REPORT YEAR CHART</text>
<circle cx="771.5" cy="504.5" r="2.4" fill="none" stroke="#333" stroke-width="1.1"/>
<text x="778.0" y="505.0" font-family="Liberation Sans" font-size="3.9" font-weight="normal" fill="#28282b" opacity="0.91" textLength="60.0" lengthAdjust="spacingAndGlyphs">TOTAL AND RATIO COST INDEX</text>
<rect x="769.0" y="509.0" width="19.0" height="21.0" fill="#f6ecd6" />
<line x1="769.0" y1="512.0" x2="788.0" y2="512.0" stroke="#e9c98e" stroke-width="0.5" />
<line x1="769.0" y1="516.0" x2="788.0" y2="516.0" stroke="#e9c98e" stroke-width="0.5" />
<line x1="769.0" y1="520.0" x2="788.0" y2="520.0" stroke="#e9c98e" stroke-width="0.5" />
<line x1="769.0" y1="524.0" x2="788.0" y2="524.0" stroke="#e9c98e" stroke-width="0.5" />
<line x1="769.0" y1="528.0" x2="788.0" y2="528.0" stroke="#e9c98e" stroke-width="0.5" />
<line x1="782.0" y1="509.0" x2="782.0" y2="530.0" stroke="#9fd0ce" stroke-width="0.6" />
<text x="790.0" y="511.7" font-family="Liberation Sans" font-size="3.9" font-weight="normal" fill="#f0962a" opacity="0.80" textLength="38.0" lengthAdjust="spacingAndGlyphs">REGION GLOBAL GRO</text>
<text x="790.0" y="517.9" font-family="Liberation Sans" font-size="3.9" font-weight="normal" fill="#f0962a" opacity="0.80" textLength="29.0" lengthAdjust="spacingAndGlyphs">REPORT INDEX</text>
<text x="790.0" y="524.3" font-family="Liberation Sans" font-size="3.9" font-weight="normal" fill="#f0962a" opacity="0.80" textLength="29.0" lengthAdjust="spacingAndGlyphs">TREND GROWTH</text>
<text x="790.0" y="529.6" font-family="Liberation Sans" font-size="3.9" font-weight="normal" fill="#f0962a" opacity="0.80" textLength="29.0" lengthAdjust="spacingAndGlyphs">GLOBAL GROWTH</text>
<rect x="615.7" y="595.0" width="17.8" height="23.6" fill="#2fb3b3" />
<rect x="615.7" y="595.0" width="17.8" height="4.2" fill="#252c35" />
<rect x="660.0" y="589.0" width="17.1" height="29.6" fill="#2fb3b3" />
<rect x="660.0" y="611.1" width="17.1" height="7.5" fill="#252c35" />
<rect x="681.9" y="595.7" width="16.6" height="22.9" fill="#2fb3b3" />
<rect x="703.2" y="576.0" width="17.3" height="42.6" fill="#2fb3b3" />
<rect x="725.0" y="588.4" width="17.7" height="30.2" fill="#252c35" />
<rect x="747.7" y="559.4" width="18.2" height="59.2" fill="#2fb3b3" />
<rect x="770.4" y="577.1" width="18.4" height="41.5" fill="#fa941a" />
<rect x="792.6" y="558.7" width="19.9" height="59.9" fill="#252c35" />
<rect x="817.8" y="569.5" width="18.9" height="49.1" fill="#252c35" />
<rect x="817.8" y="607.3" width="18.9" height="11.3" fill="#2fb3b3" />
<rect x="842.2" y="597.2" width="18.1" height="21.4" fill="#2fb3b3" />
<rect x="866.3" y="570.7" width="18.4" height="47.9" fill="#252c35" />
<rect x="866.3" y="611.0" width="18.4" height="7.6" fill="#2fb3b3" />
<rect x="889.7" y="557.6" width="18.1" height="61.0" fill="#252c35" />
<rect x="889.7" y="601.5" width="18.1" height="17.1" fill="#2fb3b3" />
<rect x="912.9" y="531.0" width="19.4" height="87.6" fill="#252c35" />
<rect x="936.3" y="509.0" width="18.9" height="109.6" fill="#2fb3b3" />
<rect x="959.5" y="489.1" width="17.8" height="129.5" fill="#252c35" />
<rect x="959.5" y="597.2" width="17.8" height="21.4" fill="#2fb3b3" />
<rect x="577.1" y="620.3" width="42.7" height="7.8" fill="#fa941a" />
<rect x="619.8" y="620.3" width="107.2" height="7.8" fill="#2fb3b3" />
<rect x="727.0" y="620.3" width="93.3" height="7.8" fill="#252c35" />
<rect x="820.3" y="620.3" width="156.3" height="7.8" fill="#fa941a" />
<text x="994.0" y="431.4" font-family="Liberation Sans" font-size="4.5" font-weight="bold" fill="#2b2b2b" opacity="1.00" textLength="40.0" lengthAdjust="spacingAndGlyphs">AND DATA TOTAL U</text>
<text x="994.0" y="443.6" font-family="Liberation Sans" font-size="3.9" font-weight="normal" fill="#28282b" opacity="0.78" textLength="65.0" lengthAdjust="spacingAndGlyphs">SECTOR CHART CHART CHART MARKE</text>
<text x="994.0" y="450.1" font-family="Liberation Sans" font-size="3.9" font-weight="normal" fill="#dca23a" opacity="0.78" textLength="81.0" lengthAdjust="spacingAndGlyphs">TREND REPORT SCALE OF USER SHARE OF C</text>
<text x="994.0" y="456.1" font-family="Liberation Sans" font-size="3.9" font-weight="normal" fill="#dca23a" opacity="0.78" textLength="77.0" lengthAdjust="spacingAndGlyphs">YEAR TOTAL AND LEVEL COST LEVEL SCA</text>
<text x="994.0" y="461.9" font-family="Liberation Sans" font-size="3.9" font-weight="normal" fill="#dca23a" opacity="0.78" textLength="77.0" lengthAdjust="spacingAndGlyphs">GROWTH YEAR CHART VALUE COST TOTAL</text>
<text x="994.0" y="473.1" font-family="Liberation Sans" font-size="3.9" font-weight="normal" fill="#28282b" opacity="0.78" textLength="83.0" lengthAdjust="spacingAndGlyphs">COST MARKET SCALE USER GROWTH RATIO MA</text>
<text x="994.0" y="478.1" font-family="Liberation Sans" font-size="3.9" font-weight="normal" fill="#28282b" opacity="0.78" textLength="80.0" lengthAdjust="spacingAndGlyphs">OF TOTAL GLOBAL GROWTH TOTAL INDEX DA</text>
<text x="994.0" y="482.9" font-family="Liberation Sans" font-size="3.9" font-weight="normal" fill="#28282b" opacity="0.78" textLength="78.0" lengthAdjust="spacingAndGlyphs">REPORT VALUE REGION SCALE MARKET OF</text>
<text x="994.0" y="487.8" font-family="Liberation Sans" font-size="3.9" font-weight="normal" fill="#28282b" opacity="0.78" textLength="70.0" lengthAdjust="spacingAndGlyphs">MEAN SCALE SECTOR MODEL OF MODEL</text>
<text x="994.0" y="492.6" font-family="Liberation Sans" font-size="3.9" font-weight="normal" fill="#28282b" opacity="0.78" textLength="62.0" lengthAdjust="spacingAndGlyphs">SCALE SHARE DATA TOTAL COST</text>
<line x1="996.0" y1="502.6" x2="1005.0" y2="502.6" stroke="#f7b24a" stroke-width="2" />
<text x="1005.0" y="504.2" font-family="Liberation Sans" font-size="4.5" font-weight="bold" fill="#2b2b2b" opacity="0.98" textLength="46.0" lengthAdjust="spacingAndGlyphs">SALES MEAN YEAR SE</text>
<rect x="1047.0" y="520.0" width="9.0" height="6.0" fill="#3fb3bd" />
<line x1="1049.0" y1="520.0" x2="1049.0" y2="526.0" stroke="#dff" stroke-width="0.5" />
<line x1="1052.0" y1="520.0" x2="1052.0" y2="526.0" stroke="#dff" stroke-width="0.5" />
<rect x="1044.0" y="527.0" width="12.0" height="8.0" fill="#fa941a" />
<text x="1046.0" y="532.4" font-family="Liberation Sans" font-size="3.9" font-weight="normal" fill="#fbe3c4" opacity="1.00" textLength="8.0" lengthAdjust="spacingAndGlyphs">TRE</text>
<text x="1025.0" y="530.3" font-family="Liberation Sans" font-size="3.9" font-weight="normal" fill="#28282b" opacity="0.78" textLength="16.0" lengthAdjust="spacingAndGlyphs">YEAR AN</text>
<text x="1025.0" y="534.7" font-family="Liberation Sans" font-size="3.9" font-weight="normal" fill="#28282b" opacity="0.78" textLength="16.0" lengthAdjust="spacingAndGlyphs">TREND R</text>
<path d="M1038,574 L1037.5,544.3 A35,35 0 1 0 1072.1,574 Z" fill="#fa941a" />
<path d="M1038,574 L1057.6,550.6 A35,35 0 0 1 1072.1,574 Z" fill="#f8b66c" />
<line x1="1039.0" y1="574.0" x2="1058.0" y2="549.0" stroke="#fbd6a8" stroke-width="0.6" />
<line x1="1039.0" y1="574.0" x2="1065.0" y2="556.0" stroke="#fbd6a8" stroke-width="0.6" />
<text x="1026.0" y="596.0" font-family="Liberation Sans" font-size="9" font-weight="bold" fill="#fff1dc" text-anchor="start" textLength="20" lengthAdjust="spacingAndGlyphs">ΑGШ</text>
<text x="1027.0" y="601.3" font-family="Liberation Sans" font-size="5.0" font-weight="bold" fill="#fff1dc" opacity="1.00" textLength="17.0" lengthAdjust="spacingAndGlyphs">VALUE</text>
<text x="1008.0" y="618.6" font-family="Liberation Sans" font-size="3.9" font-weight="normal" fill="#28282b" opacity="0.78" textLength="61.0" lengthAdjust="spacingAndGlyphs">ANNUAL TOTAL MODEL INDEX SAL</text>
<text x="1008.0" y="623.1" font-family="Liberation Sans" font-size="3.9" font-weight="normal" fill="#28282b" opacity="0.78" textLength="56.0" lengthAdjust="spacingAndGlyphs">GLOBAL SALES GROWTH THE TH</text>
<text x="1008.0" y="628.2" font-family="Liberation Sans" font-size="3.9" font-weight="normal" fill="#28282b" opacity="0.78" textLength="58.0" lengthAdjust="spacingAndGlyphs">COST USER SALES VALUE SALES</text>
<text x="1008.0" y="632.7" font-family="Liberation Sans" font-size="3.9" font-weight="normal" fill="#28282b" opacity="0.78" textLength="54.0" lengthAdjust="spacingAndGlyphs">SECTOR COST SECTOR SCALE</text>
<text x="1096.0" y="431.4" font-family="Liberation Sans" font-size="4.5" font-weight="bold" fill="#2b2b2b" opacity="1.00" textLength="36.0" lengthAdjust="spacingAndGlyphs">SALES SCALE GR</text>
<text x="1096.0" y="443.6" font-family="Liberation Sans" font-size="3.9" font-weight="normal" fill="#28282b" opacity="0.78" textLength="57.0" lengthAdjust="spacingAndGlyphs">CHART USER TOTAL DATA AND</text>
<text x="1096.0" y="450.0" font-family="Liberation Sans" font-size="3.9" font-weight="normal" fill="#dca23a" opacity="0.78" textLength="75.0" lengthAdjust="spacingAndGlyphs">REPORT INDEX ANNUAL INDEX AND CHAR</text>
<text x="1096.0" y="455.8" font-family="Liberation Sans" font-size="3.9" font-weight="normal" fill="#dca23a" opacity="0.78" textLength="76.0" lengthAdjust="spacingAndGlyphs">SALES GLOBAL GLOBAL MODEL OF OF YEA</text>
<text x="1096.0" y="461.3" font-family="Liberation Sans" font-size="3.9" font-weight="normal" fill="#dca23a" opacity="0.78" textLength="70.0" lengthAdjust="spacingAndGlyphs">REPORT AND REGION SHARE SECTOR R</text>
<text x="1096.0" y="472.9" font-family="Liberation Sans" font-size="3.9" font-weight="normal" fill="#28282b" opacity="0.78" textLength="75.0" lengthAdjust="spacingAndGlyphs">GLOBAL AND OF SECTOR GLOBAL TOTAL</text>
<text x="1096.0" y="477.7" font-family="Liberation Sans" font-size="3.9" font-weight="normal" fill="#28282b" opacity="0.78" textLength="74.0" lengthAdjust="spacingAndGlyphs">YEAR CHART REPORT THE AND COST REG</text>
<text x="1096.0" y="482.7" font-family="Liberation Sans" font-size="3.9" font-weight="normal" fill="#28282b" opacity="0.78" textLength="67.0" lengthAdjust="spacingAndGlyphs">LEVEL SCALE DATA MARKET REPORT</text>
<text x="1096.0" y="487.6" font-family="Liberation Sans" font-size="3.9" font-weight="normal" fill="#28282b" opacity="0.78" textLength="67.0" lengthAdjust="spacingAndGlyphs">USER TREND CHART CHART GROWTH M</text>
<text x="1096.0" y="492.2" font-family="Liberation Sans" font-size="3.9" font-weight="normal" fill="#28282b" opacity="0.78" textLength="69.0" lengthAdjust="spacingAndGlyphs">CHART REGION VALUE AND SCALE IND</text>
<line x1="1096.0" y1="502.4" x2="1106.0" y2="502.4" stroke="#f7b24a" stroke-width="2" />
<text x="1108.0" y="504.0" font-family="Liberation Sans" font-size="4.5" font-weight="bold" fill="#2b2b2b" opacity="0.98" textLength="41.0" lengthAdjust="spacingAndGlyphs">COST SECTOR RATE</text>
<text x="1109.0" y="515.6" font-family="Liberation Sans" font-size="4.5" font-weight="bold" fill="#2b2b2b" opacity="0.98" textLength="23.0" lengthAdjust="spacingAndGlyphs">GROWTH SH</text>
<text x="1096.0" y="526.3" font-family="Liberation Sans" font-size="5.5" font-weight="bold" fill="#2b2b2b" opacity="1.00" textLength="37.0" lengthAdjust="spacingAndGlyphs">COST RATE SC</text>
<text x="1096.0" y="535.4" font-family="Liberation Sans" font-size="3.9" font-weight="normal" fill="#28282b" opacity="0.85" textLength="68.0" lengthAdjust="spacingAndGlyphs">SALES REPORT RATE GLOBAL USER M</text>
<text x="1096.0" y="543.3" font-family="Liberation Sans" font-size="3.9" font-weight="normal" fill="#3ab1b4" opacity="0.98" textLength="34.0" lengthAdjust="spacingAndGlyphs">RATIO RATE COST</text>
<text x="1096.0" y="549.5" font-family="Liberation Sans" font-size="3.9" font-weight="normal" fill="#28282b" opacity="0.85" textLength="69.0" lengthAdjust="spacingAndGlyphs">GLOBAL VALUE SHARE INDEX OF MARK</text>
<text x="1096.0" y="554.5" font-family="Liberation Sans" font-size="3.9" font-weight="normal" fill="#dca23a" opacity="0.78" textLength="72.0" lengthAdjust="spacingAndGlyphs">GROWTH TOTAL GROWTH YEAR RATE MOD</text>
<text x="1096.0" y="564.1" font-family="Liberation Sans" font-size="3.9" font-weight="normal" fill="#28282b" opacity="0.85" textLength="75.0" lengthAdjust="spacingAndGlyphs">SHARE TOTAL GROWTH CHART CHART RAT</text>
<text x="1096.0" y="571.3" font-family="Liberation Sans" font-size="3.9" font-weight="normal" fill="#28282b" opacity="0.85" textLength="53.0" lengthAdjust="spacingAndGlyphs">DATA SECTOR GLOBAL OF YE</text>
<text x="1096.0" y="577.6" font-family="Liberation Sans" font-size="3.9" font-weight="normal" fill="#28282b" opacity="0.85" textLength="58.0" lengthAdjust="spacingAndGlyphs">INDEX SALES MEAN GLOBAL RAT</text>
<text x="1096.0" y="583.4" font-family="Liberation Sans" font-size="3.9" font-weight="normal" fill="#dca23a" opacity="0.78" textLength="52.0" lengthAdjust="spacingAndGlyphs">LEVEL DATA RATE MEAN YEA</text>
<text x="1096.0" y="593.8" font-family="Liberation Sans" font-size="3.9" font-weight="normal" fill="#28282b" opacity="0.85" textLength="73.0" lengthAdjust="spacingAndGlyphs">TOTAL REGION CHART INDEX RATE TOTA</text>
<text x="1096.0" y="600.7" font-family="Liberation Sans" font-size="3.9" font-weight="normal" fill="#3ab1b4" opacity="0.98" textLength="34.0" lengthAdjust="spacingAndGlyphs">INDEX RATIO REP</text>
<text x="1096.0" y="606.9" font-family="Liberation Sans" font-size="3.9" font-weight="normal" fill="#3ab1b4" opacity="0.98" textLength="27.0" lengthAdjust="spacingAndGlyphs">INDEX SHARE</text>
<text x="1096.0" y="613.1" font-family="Liberation Sans" font-size="3.9" font-weight="normal" fill="#28282b" opacity="0.85" textLength="78.0" lengthAdjust="spacingAndGlyphs">SECTOR AND SALES VALUE GROWTH COST R</text>
<text x="1096.0" y="618.9" font-family="Liberation Sans" font-size="3.9" font-weight="normal" fill="#dca23a" opacity="0.78" textLength="76.0" lengthAdjust="spacingAndGlyphs">OF TREND SCALE GLOBAL RATE TREND YE</text>
<text x="1096.0" y="624.3" font-family="Liberation Sans" font-size="3.9" font-weight="normal" fill="#dca23a" opacity="0.78" textLength="67.0" lengthAdjust="spacingAndGlyphs">RATIO MODEL SHARE REGION THE RE</text>
<text x="1096.0" y="631.2" font-family="Liberation Sans" font-size="3.9" font-weight="normal" fill="#28282b" opacity="0.85" textLength="33.0" lengthAdjust="spacingAndGlyphs">OF VALUE REPORT</text>
<text x="1096.0" y="637.4" font-family="Liberation Sans" font-size="3.9" font-weight="normal" fill="#28282b" opacity="0.85" textLength="79.0" lengthAdjust="spacingAndGlyphs">TREND COST YEAR ANNUAL ANNUAL GLOBAL</text>
<text x="1096.0" y="618.9" font-family="Liberation Sans" font-size="3.9" font-weight="normal" fill="#3ab1b4" opacity="0.98" textLength="16.0" lengthAdjust="spacingAndGlyphs">INDEX O</text>
<text x="1096.0" y="613.1" font-family="Liberation Sans" font-size="3.9" font-weight="normal" fill="#3ab1b4" opacity="0.98" textLength="14.0" lengthAdjust="spacingAndGlyphs">REPORT</text>
<text x="1110.0" y="648.9" font-family="Liberation Sans" font-size="3.9" font-weight="normal" fill="#c9b48e" opacity="0.91" textLength="28.0" lengthAdjust="spacingAndGlyphs">USER VALUE CO</text>
</svg>
</body></html>
